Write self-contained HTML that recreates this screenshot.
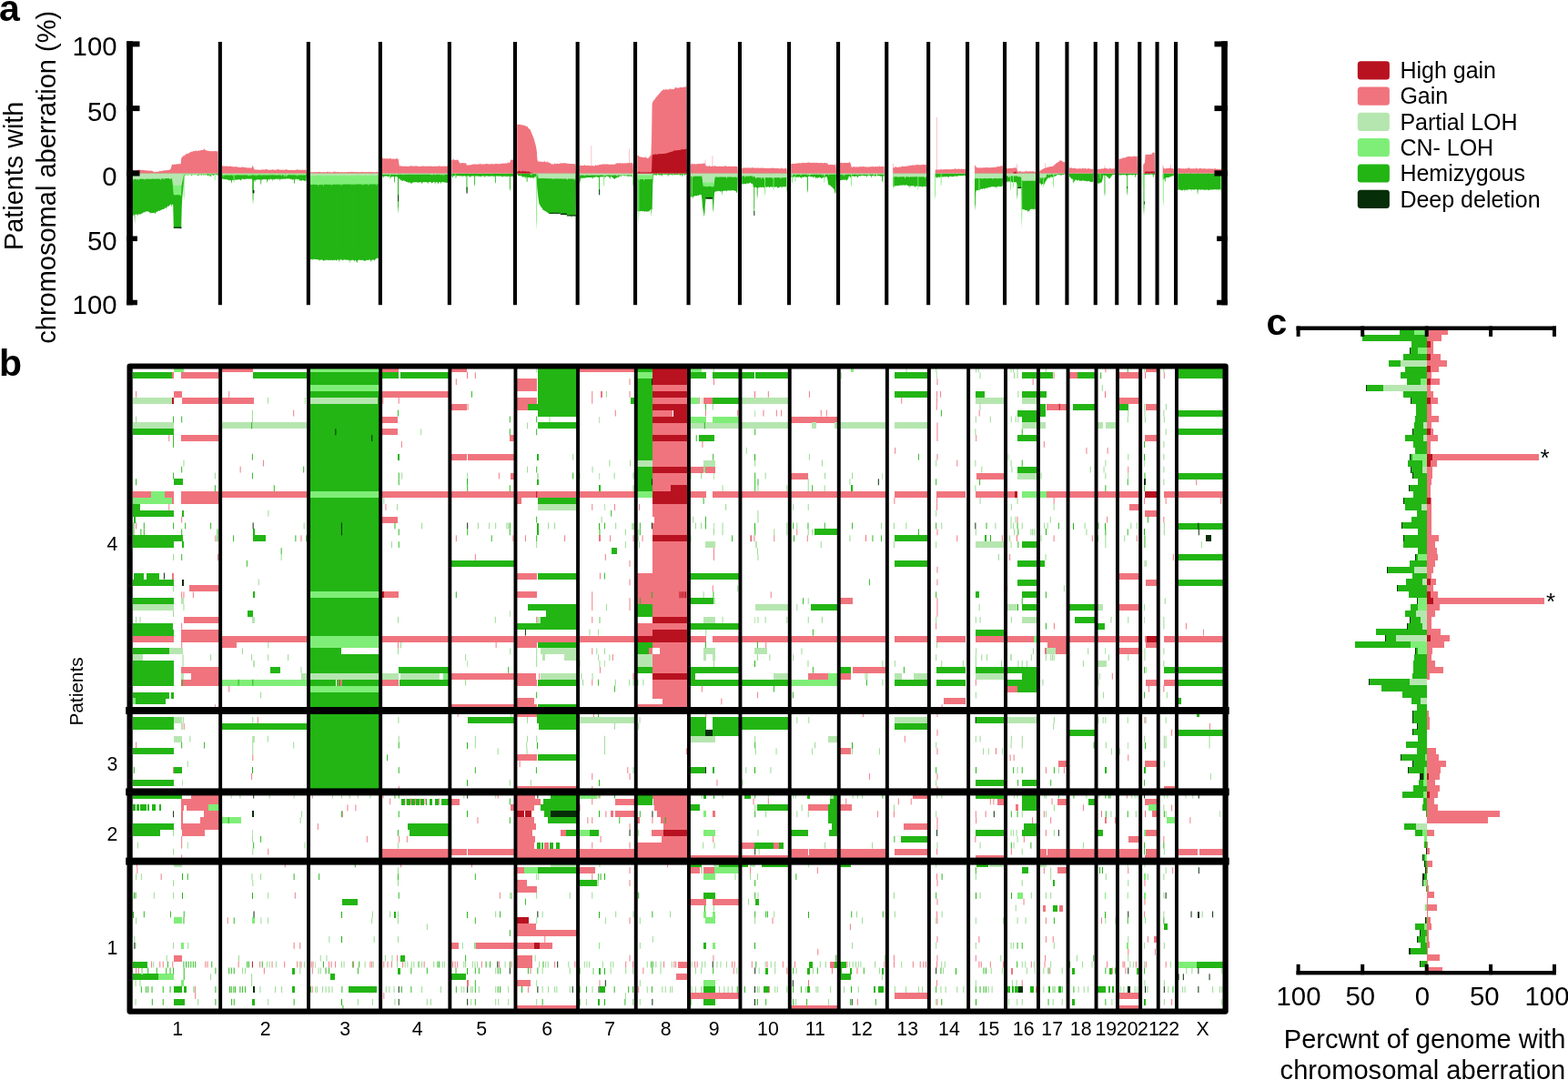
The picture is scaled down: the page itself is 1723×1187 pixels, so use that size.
<!DOCTYPE html>
<html lang="en"><head><meta charset="utf-8"><title>Chromosomal aberrations</title>
<style>html,body{margin:0;padding:0;background:#fff}body{width:1723px;height:1187px;overflow:hidden}svg{display:block}text{font-family:"Liberation Sans",Arial,Helvetica,sans-serif;fill:#000}.b{font-weight:bold;font-size:41px}.ax{font-size:29.3px}.lg{font-size:25px}.sm{font-size:21.3px}</style>
</head><body>
<svg width="1723" height="1187" viewBox="0 0 1723 1187">
<rect width="1723" height="1187" fill="#fff"/>
<g>
<path d="M145.8 190.4L145.8 235.7L146.4 237.2L147 235.6L147.6 236.7L148.2 235.7L148.8 235.5L149.4 235.7L150 235.6L150.6 235.8L151.2 237.7L151.8 235.3L152.4 235.5L153 235.3L153.6 235.4L154.2 235.7L154.8 235.3L155.4 234.7L156 234.7L156.6 234.3L157.2 233.7L157.8 233.3L158.4 233.7L159 232.7L159.6 232.8L160.2 232.9L160.8 232.2L161.4 232.5L162 232.1L162.6 232.5L163.2 232.7L163.8 233.1L164.4 233.1L165 235.6L165.6 233.4L166.2 234.6L166.8 233.7L167.4 234L168 234.3L168.6 234.1L169.2 233.9L169.8 233.5L170.4 235L171 234.2L171.6 233.1L172.2 232.6L172.8 232.9L173.4 232.3L174 231.8L174.6 231.6L175.2 231.9L175.8 231.6L176.4 230.8L177 231.4L177.6 230.5L178.2 230.1L178.8 229.9L179.4 230.1L180 229.8L180.6 229.5L181.2 228.8L181.8 228.2L182.4 228.1L183 229.9L183.6 227.2L184.2 226.8L184.8 226.6L185.4 226.7L186 226.3L186.6 225.4L187.2 224.8L187.8 224.6L188.4 227.6L189 224.1L189.6 225.1L190.2 224.9L190.8 249.9L191.4 250.1L192 250.2L192.6 250L193.2 250.4L193.8 251.1L194.4 250L195 249.9L195.6 250.3L196.2 250L196.8 249.9L197.4 250.4L198 251.3L198.6 251.4L199.2 250L199.8 226.5L200.4 215.9L201 211L201.6 205.3L202.2 199.2L202.8 194L203.4 192L204 192.8L204.6 191.9L205.2 192.3L205.8 192.3L206.4 192.2L207 192L207.6 192.1L208.2 191.9L208.8 192.1L209.4 192.1L210 192.3L210.6 193.4L211.2 191.9L211.8 192.4L212.4 192.1L213 191.9L213.6 192.2L214.2 192.2L214.8 192L215.4 192.3L216 192.1L216.6 192.3L217.2 192.2L217.8 193.6L218.4 192L219 192.9L219.6 191.8L220.2 191.9L220.8 192.6L221.4 192.8L222 192.2L222.6 191.8L223.2 192.3L223.8 192.7L224.4 192.2L225 192.3L225.6 192.3L226.2 192.5L226.8 192L227.4 192.2L228 193L228.6 193.1L229.2 192.3L229.8 192.9L230.4 193.9L231 192.1L231.6 193.1L232.2 192L232.8 192.1L233.4 192.1L234 193.3L234.6 192.9L235.2 191.9L235.8 192.3L236.4 191.9L237 191.8L237.6 191.9L238.2 192.3L238.8 191.9L239.4 193.4L239.7 190.4Z" fill="#22b514"/>
<path d="M147.6 190.4L148.5 190.4L148.5 235.2L148.1 246.4L147.6 235.2Z" fill="#22b514"/>
<path d="M231.4 190.4L232.3 190.4L232.3 193.6L231.8 194.4L231.4 193.6Z" fill="#22b514"/>
<path d="M235.7 190.4L236.6 190.4L236.6 196.8L236.2 198.4L235.7 196.8Z" fill="#7fee78"/>
<path d="M201.7 190.4L202.6 190.4L202.6 214.3L202.2 220.2L201.7 214.3Z" fill="#7fee78"/>
<path d="M145.8 190.4L145.8 196.9L146.4 198.7L147 196.7L147.6 196.8L148.2 196.8L148.8 196.6L149.4 196.7L150 198.3L150.6 196.7L151.2 196.9L151.8 196.7L152.4 199L153 196.7L153.6 196.6L154.2 196.7L154.8 196.6L155.4 196.6L156 196.5L156.6 196.5L157.2 196.5L157.8 196.7L158.4 197.1L159 198.4L159.6 196.5L160.2 196.4L160.8 196.6L161.4 196.5L162 196.4L162.6 196.5L163.2 196.5L163.8 196.3L164.4 196.4L165 196.7L165.6 196.5L166.2 196.4L166.8 196.5L167.4 196.4L168 196.3L168.6 196.3L169.2 196.3L169.8 196.3L170.4 196.4L171 196.2L171.6 197.2L172.2 196.3L172.8 196.2L173.4 196.8L174 196.3L174.6 196.2L175.2 196.1L175.8 196.3L176.4 196.2L177 196.3L177.6 196.2L178.2 196.4L178.8 196.1L179.4 196L180 196.2L180.6 196.2L181.2 196.2L181.8 196L182.4 196L183 196.1L183.6 196.3L184.2 196L184.8 196.1L185.4 196.1L186 196L186.6 198L187.2 195.9L187.8 196L188.4 196.1L189 196.6L189.6 201.5L190.2 207.9L190.8 214.3L191.4 214.1L192 214.2L192.6 214.7L193.2 214.1L193.8 214.4L194.4 214.2L195 214.1L195.6 214.2L196.2 214.3L196.8 214.3L197.4 214.2L198 214.3L198.6 215.7L199.2 214.3L199.8 197.2L200.4 192.4L201 192.6L201.6 192.4L202.2 192.4L202.8 192.3L203.4 192.4L204 192.2L204.6 192.5L205.2 192.3L205.8 192.2L206.4 192.2L207 194.1L207.6 192.1L208.2 192.1L208.8 192.2L209.4 192.1L210 192.2L210.6 192L211.2 192L211.8 192L212.4 192L213 192.3L213.6 192L214.2 191.9L214.8 192.1L215.4 192L216 192L216.6 193.7L217.2 192L217.8 191.9L218.4 192.1L219 191.8L219.6 191.8L220.2 191.8L220.8 191.7L221.4 191.9L222 191.7L222.6 191.7L223.2 191.8L223.8 191.7L224.4 191.7L225 191.6L225.6 192.3L226.2 191.6L226.8 191.8L227.4 191.6L228 191.6L228.6 191.5L229.2 191.5L229.8 191.5L230.4 191.6L231 191.4L231.6 191.4L232.2 191.4L232.8 191.6L233.4 191.5L234 191.4L234.6 191.6L235.2 191.4L235.8 191.2L236.4 191.5L237 191.5L237.6 191.3L238.2 191.3L238.8 191.2L239.4 191.3L239.7 190.4Z" fill="#7fee78"/>
<path d="M145.8 190.4L145.8 196.7L146.4 196.7L147 196.8L147.6 196.7L148.2 196.6L148.8 196.8L149.4 196.7L150 196.7L150.6 197.4L151.2 196.7L151.8 196.7L152.4 196.6L153 196.6L153.6 196.6L154.2 196.5L154.8 196.5L155.4 196.6L156 196.5L156.6 196.5L157.2 196.5L157.8 196.5L158.4 196.5L159 196.5L159.6 196.4L160.2 196.4L160.8 196.5L161.4 196.4L162 196.6L162.6 196.4L163.2 196.4L163.8 196.4L164.4 196.4L165 197.3L165.6 196.3L166.2 196.4L166.8 196.4L167.4 196.3L168 196.3L168.6 196.4L169.2 196.2L169.8 196.9L170.4 196.2L171 196.2L171.6 196.2L172.2 196.3L172.8 196.3L173.4 196.2L174 196.2L174.6 196.1L175.2 197.2L175.8 196.2L176.4 198.5L177 196.1L177.6 196.2L178.2 196.1L178.8 196.3L179.4 196L180 198L180.6 196.1L181.2 196.6L181.8 196.2L182.4 196L183 195.9L183.6 196L184.2 196L184.8 196.1L185.4 195.9L186 196L186.6 196.5L187.2 196L187.8 197.2L188.4 195.9L189 196L189.6 198.3L190.2 201L190.8 203.7L191.4 203.7L192 203.7L192.6 203.7L193.2 203.8L193.8 203.8L194.4 203.8L195 203.8L195.6 203.8L196.2 203.7L196.8 203.7L197.4 203.7L198 203.8L198.6 203.7L199.2 203.8L199.8 202.5L200.4 199.6L201 196.8L201.6 194L202.2 191.6L202.8 191.7L203.4 191.6L204 191.6L204.6 191.5L205.2 191.7L205.8 191.5L206.4 191.4L207 191.4L207.6 191.5L208.2 191.4L208.8 191.4L209.4 191.4L210 191.4L210.6 191.4L211.2 191.3L211.8 191.9L212.4 191.4L213 191.4L213.6 191.3L214.2 191.3L214.8 191.4L215.4 191.5L216 191.5L216.6 193.5L217.2 191.3L217.8 191.3L218.4 191.3L219 191.2L219.6 191.2L220.2 191.2L220.8 191.2L221.4 191.2L222 191.2L222.6 191.2L223.2 191.2L223.8 191.2L224.4 191.2L225 193.6L225.6 191.1L226.2 191.2L226.8 191.2L227.4 191.1L228 191.2L228.6 191.1L229.2 191.1L229.8 191.2L230.4 191.1L231 192.5L231.6 191.3L232.2 191.2L232.8 191.1L233.4 191.2L234 191.1L234.6 191.1L235.2 191L235.8 191L236.4 191L237 191L237.6 191.1L238.2 191L238.8 191L239.4 191L239.7 190.4Z" fill="#b6e6b0"/>
<rect x="190.8" y="249.5" width="8.7" height="1.4" fill="#062e08"/>
<path d="M145.8 190.4L145.8 187.9L146.4 186.4L147 187.7L147.6 187.7L148.2 187.7L148.8 187.5L149.4 187.5L150 187.4L150.6 186.9L151.2 186.6L151.8 187.2L152.4 186.5L153 186.5L153.6 186.8L154.2 186.6L154.8 187L155.4 187L156 187.3L156.6 186.7L157.2 187L157.8 186.8L158.4 187.2L159 187.1L159.6 187.4L160.2 187.4L160.8 187.1L161.4 187.4L162 187.5L162.6 187.6L163.2 187.4L163.8 187.9L164.4 187.8L165 186.7L165.6 188L166.2 187.6L166.8 187.9L167.4 188L168 188.3L168.6 188.6L169.2 188.9L169.8 189.2L170.4 189.2L171 189.1L171.6 188.8L172.2 188.8L172.8 188.8L173.4 188.8L174 188.7L174.6 188.5L175.2 188.5L175.8 187.2L176.4 188.1L177 188.2L177.6 187.8L178.2 187.9L178.8 187.7L179.4 187.8L180 186.5L180.6 187.6L181.2 187.5L181.8 187.4L182.4 187.1L183 187L183.6 187.3L184.2 187.1L184.8 187.1L185.4 187L186 186.5L186.6 186.7L187.2 186.1L187.8 185L188.4 183L189 180.6L189.6 180.7L190.2 180.8L190.8 180.9L191.4 180.4L192 180.8L192.6 180.8L193.2 180.7L193.8 180L194.4 180.5L195 180.5L195.6 180.3L196.2 180.3L196.8 180L197.4 180.4L198 180.1L198.6 180.3L199.2 174.4L199.8 172.6L200.4 172.5L201 172.3L201.6 170.8L202.2 171.5L202.8 170.2L203.4 170.4L204 170.3L204.6 168.4L205.2 169.2L205.8 169.1L206.4 169.1L207 168.7L207.6 168.1L208.2 167.7L208.8 167.6L209.4 167.3L210 166.5L210.6 166.7L211.2 166.8L211.8 166.5L212.4 166.1L213 165.9L213.6 166L214.2 166.2L214.8 166.1L215.4 164.9L216 166.1L216.6 165.9L217.2 165.8L217.8 165.8L218.4 165.6L219 165.4L219.6 165.4L220.2 165.2L220.8 165.2L221.4 164.7L222 165L222.6 164.9L223.2 164.8L223.8 164.4L224.4 163.1L225 164.4L225.6 165.2L226.2 164.7L226.8 165.4L227.4 165.5L228 165.8L228.6 165.5L229.2 166.1L229.8 166L230.4 166.2L231 166L231.6 166.1L232.2 166.2L232.8 166.3L233.4 166.1L234 166.2L234.6 166.2L235.2 166.2L235.8 166.1L236.4 166.1L237 165.7L237.6 166.3L238.2 166.4L238.8 166.3L239.4 166L239.7 190.4Z" fill="#f0747e"/>
<path d="M244 190.4L244 196.4L244.6 196.5L245.2 196.9L245.8 196.6L246.4 197.4L247 196.6L247.6 197.2L248.2 197.1L248.8 197.6L249.4 197.3L250 197.2L250.6 198.1L251.2 197.6L251.8 198.4L252.4 197.9L253 198.7L253.6 197.8L254.2 198.4L254.8 198.1L255.4 197.7L256 198L256.6 198.6L257.2 197.4L257.8 197.8L258.4 197.9L259 197.3L259.6 197.8L260.2 197.3L260.8 197.9L261.4 197.2L262 197.3L262.6 197.5L263.2 197L263.8 197.7L264.4 198L265 198.6L265.6 196.7L266.2 196.6L266.8 196.7L267.4 197L268 196.5L268.6 197.8L269.2 196.6L269.8 196.9L270.4 196.5L271 197.3L271.6 196.6L272.2 196.3L272.8 196.8L273.4 196.9L274 196.2L274.6 196.7L275.2 196.6L275.8 196.8L276.4 195.9L277 198.6L277.6 196.6L278.2 197.2L278.8 197.9L279.4 197.8L280 200.7L280.6 198L281.2 197.5L281.8 197.7L282.4 197.5L283 197.3L283.6 197.3L284.2 197.5L284.8 197.3L285.4 197.7L286 197.2L286.6 197.4L287.2 197.2L287.8 197.9L288.4 197.2L289 197.2L289.6 196.9L290.2 197.5L290.8 196.8L291.4 197.2L292 197.3L292.6 196.9L293.2 197.4L293.8 198.7L294.4 197.4L295 196.8L295.6 197L296.2 198.6L296.8 196.6L297.4 196.6L298 197L298.6 196.7L299.2 199.5L299.8 196.6L300.4 197.1L301 197.4L301.6 197.4L302.2 196.5L302.8 197L303.4 196.7L304 196.6L304.6 196.8L305.2 197.9L305.8 196.3L306.4 196.5L307 196.7L307.6 198.7L308.2 197L308.8 196.4L309.4 196.7L310 196.9L310.6 196.6L311.2 196.9L311.8 196.6L312.4 196.4L313 196.9L313.6 196.5L314.2 196.7L314.8 196.2L315.4 196.3L316 196.5L316.6 196.6L317.2 196.6L317.8 196.3L318.4 196.4L319 196.7L319.6 197.2L320.2 196.4L320.8 197.4L321.4 197.7L322 197.4L322.6 196.9L323.2 196.4L323.8 196.4L324.4 198.1L325 196.5L325.6 196.8L326.2 196.7L326.8 197.7L327.4 196.9L328 197L328.6 197.2L329.2 199.3L329.8 198L330.4 198.7L331 197.8L331.6 199.2L332.2 197.7L332.8 198.2L333.4 198.1L334 199.3L334.6 198.6L335.2 199L335.8 198.6L336.4 198.9L337 190.4Z" fill="#22b514"/>
<path d="M254 190.4L254.9 190.4L254.9 199.6L254.5 201.9L254 199.6Z" fill="#22b514"/>
<path d="M277.3 190.4L278.7 190.4L278.7 207.3L278 211.5L277.3 207.3Z" fill="#22b514"/>
<path d="M277.6 190.4L278.5 190.4L278.5 217.8L278 224.6L277.6 217.8Z" fill="#22b514"/>
<path d="M286.3 190.4L287.2 190.4L287.2 201L286.8 203.7L286.3 201Z" fill="#22b514"/>
<path d="M293.3 190.4L294.2 190.4L294.2 198.9L293.7 201.1L293.3 198.9Z" fill="#22b514"/>
<path d="M322.9 190.4L323.8 190.4L323.8 200.3L323.4 202.8L322.9 200.3Z" fill="#22b514"/>
<path d="M256.7 190.4L257.6 190.4L257.6 198.9L257.1 201.1L256.7 198.9Z" fill="#7fee78"/>
<path d="M244 190.4L244 192.5L244.6 192.5L245.2 192.5L245.8 194.9L246.4 192.4L247 192.4L247.6 192.4L248.2 192.4L248.8 192.5L249.4 192.4L250 192.4L250.6 192.5L251.2 193.2L251.8 192.5L252.4 192.4L253 192.6L253.6 192.4L254.2 192.4L254.8 192.4L255.4 192.5L256 194L256.6 192.4L257.2 192.4L257.8 192.3L258.4 192.5L259 192.4L259.6 192.4L260.2 192.4L260.8 192.3L261.4 192.3L262 192.5L262.6 192.5L263.2 192.4L263.8 192.4L264.4 192.4L265 192.5L265.6 192.4L266.2 192.8L266.8 192.5L267.4 192.5L268 192.5L268.6 192.5L269.2 192.5L269.8 192.4L270.4 192.5L271 192.4L271.6 192.5L272.2 192.5L272.8 193.2L273.4 193.7L274 192.4L274.6 192.7L275.2 193.9L275.8 192.4L276.4 192.4L277 192.5L277.6 192.4L278.2 192.5L278.8 192.4L279.4 193.1L280 192.3L280.6 192.6L281.2 194.5L281.8 192.4L282.4 192.9L283 192.3L283.6 192.7L284.2 192.5L284.8 192.5L285.4 192.3L286 192.4L286.6 192.3L287.2 194.2L287.8 192.3L288.4 192.4L289 192.6L289.6 192.5L290.2 192.4L290.8 192.4L291.4 192.4L292 192.4L292.6 192.5L293.2 192.4L293.8 192.6L294.4 192.4L295 192.4L295.6 192.4L296.2 192.4L296.8 192.6L297.4 192.5L298 192.3L298.6 192.4L299.2 192.3L299.8 192.4L300.4 192.5L301 192.4L301.6 192.5L302.2 192.4L302.8 192.4L303.4 192.6L304 192.4L304.6 192.6L305.2 192.4L305.8 192.6L306.4 192.3L307 192.6L307.6 192.5L308.2 192.4L308.8 192.4L309.4 193.9L310 192.4L310.6 192.3L311.2 192.4L311.8 192.4L312.4 194.3L313 194.6L313.6 192.5L314.2 192.5L314.8 194.9L315.4 192.6L316 192.4L316.6 192.4L317.2 192.5L317.8 192.3L318.4 192.3L319 192.4L319.6 192.3L320.2 192.4L320.8 192.4L321.4 192.3L322 192.4L322.6 192.5L323.2 192.3L323.8 192.7L324.4 192.4L325 192.4L325.6 192.6L326.2 193.9L326.8 192.4L327.4 192.6L328 192.4L328.6 192.3L329.2 192.4L329.8 192.5L330.4 192.3L331 192.5L331.6 192.5L332.2 192.6L332.8 192.4L333.4 192.5L334 192.4L334.6 192.5L335.2 192.4L335.8 192.4L336.4 192.4L337 190.4Z" fill="#7fee78"/>
<path d="M244 190.4L244 191.6L244.6 191.5L245.2 191.5L245.8 191.5L246.4 191.5L247 191.5L247.6 192.6L248.2 191.5L248.8 191.5L249.4 191.5L250 191.6L250.6 191.5L251.2 191.5L251.8 191.5L252.4 191.5L253 191.5L253.6 191.5L254.2 191.5L254.8 191.5L255.4 191.5L256 191.6L256.6 191.5L257.2 191.5L257.8 191.6L258.4 191.5L259 191.5L259.6 192.8L260.2 191.5L260.8 191.6L261.4 191.5L262 191.5L262.6 191.6L263.2 191.5L263.8 191.5L264.4 191.6L265 192.3L265.6 191.5L266.2 191.5L266.8 191.5L267.4 191.7L268 191.5L268.6 191.5L269.2 191.5L269.8 191.5L270.4 191.5L271 191.5L271.6 191.5L272.2 191.5L272.8 191.6L273.4 191.6L274 191.5L274.6 191.6L275.2 191.5L275.8 191.6L276.4 191.5L277 191.5L277.6 191.7L278.2 191.5L278.8 191.5L279.4 191.7L280 191.6L280.6 191.5L281.2 191.6L281.8 191.5L282.4 191.5L283 191.6L283.6 191.5L284.2 191.5L284.8 191.5L285.4 191.5L286 191.6L286.6 191.6L287.2 191.8L287.8 191.6L288.4 191.7L289 191.5L289.6 191.6L290.2 191.5L290.8 191.5L291.4 191.5L292 191.6L292.6 192.4L293.2 191.6L293.8 191.5L294.4 191.6L295 191.5L295.6 191.5L296.2 191.5L296.8 191.5L297.4 191.5L298 191.5L298.6 191.5L299.2 191.6L299.8 191.7L300.4 191.5L301 191.5L301.6 191.5L302.2 191.5L302.8 191.6L303.4 192.7L304 191.5L304.6 192.3L305.2 191.5L305.8 191.6L306.4 191.6L307 191.5L307.6 191.8L308.2 191.5L308.8 191.5L309.4 191.5L310 191.5L310.6 191.5L311.2 191.6L311.8 191.6L312.4 191.5L313 191.6L313.6 191.5L314.2 191.5L314.8 191.5L315.4 193.8L316 191.7L316.6 191.6L317.2 191.5L317.8 191.5L318.4 191.5L319 191.7L319.6 191.7L320.2 191.6L320.8 191.5L321.4 191.6L322 191.5L322.6 191.6L323.2 191.5L323.8 191.5L324.4 191.5L325 191.5L325.6 191.6L326.2 191.8L326.8 191.5L327.4 191.5L328 193.1L328.6 191.5L329.2 192.2L329.8 191.6L330.4 191.5L331 191.5L331.6 191.5L332.2 191.5L332.8 191.5L333.4 191.5L334 191.5L334.6 191.6L335.2 191.5L335.8 191.7L336.4 191.5L337 190.4Z" fill="#b6e6b0"/>
<rect x="277.7" y="208.9" width="1.7" height="3.5" fill="#062e08"/>
<path d="M244 190.4L244 182.3L244.6 182.5L245.2 182.6L245.8 182.8L246.4 182.6L247 182.5L247.6 182.7L248.2 182.8L248.8 182.6L249.4 182.8L250 182.3L250.6 183.1L251.2 183L251.8 182.6L252.4 182.8L253 183.1L253.6 182.1L254.2 183.2L254.8 183.1L255.4 183.3L256 183.2L256.6 183.3L257.2 183.3L257.8 183.4L258.4 183.1L259 183.5L259.6 182.9L260.2 183.5L260.8 183.6L261.4 183.7L262 183.6L262.6 183.8L263.2 183.9L263.8 183.9L264.4 183.9L265 183.8L265.6 184L266.2 184L266.8 182.5L267.4 183.9L268 184L268.6 183.7L269.2 184L269.8 184.3L270.4 184L271 184.5L271.6 184.6L272.2 184L272.8 184.7L273.4 184.3L274 184.7L274.6 184.1L275.2 184.7L275.8 185L276.4 184.6L277 183.3L277.6 181.8L278.2 183.3L278.8 184.8L279.4 186.1L280 186.5L280.6 186.6L281.2 186.6L281.8 186.6L282.4 186.4L283 186.6L283.6 186.4L284.2 186.7L284.8 186.7L285.4 186.8L286 186.7L286.6 186.7L287.2 186.5L287.8 186.5L288.4 186.7L289 185.2L289.6 186.8L290.2 186.7L290.8 186.8L291.4 185.3L292 186.5L292.6 186.3L293.2 186.3L293.8 185.7L294.4 186.7L295 186.8L295.6 186.7L296.2 186.7L296.8 186.8L297.4 186.8L298 186.6L298.6 186.7L299.2 186.6L299.8 185.9L300.4 186.7L301 186.7L301.6 186.5L302.2 186.5L302.8 186.9L303.4 186.8L304 186.8L304.6 186.1L305.2 186.6L305.8 185.5L306.4 186.5L307 186.8L307.6 186.6L308.2 186.6L308.8 186.9L309.4 186.6L310 186.4L310.6 186.8L311.2 186.6L311.8 186.9L312.4 186.8L313 186.3L313.6 186.8L314.2 186.6L314.8 185.8L315.4 186.8L316 186.8L316.6 186.5L317.2 186.9L317.8 186.9L318.4 186.9L319 186.9L319.6 186.9L320.2 186.7L320.8 186.8L321.4 186.9L322 186.9L322.6 186.9L323.2 187L323.8 186.7L324.4 186.8L325 186.8L325.6 187L326.2 186L326.8 186.3L327.4 186.8L328 186.8L328.6 186.4L329.2 186.4L329.8 186.9L330.4 186.8L331 186.6L331.6 186.9L332.2 186.9L332.8 186.1L333.4 187L334 186.8L334.6 186.8L335.2 186.8L335.8 186.6L336.4 186.8L337 190.4Z" fill="#f0747e"/>
<path d="M340.8 190.4L340.8 285L341.4 285.3L342 284.9L342.6 284.9L343.2 284.6L343.8 286.2L344.4 284.7L345 284.9L345.6 284.7L346.2 285.1L346.8 285.3L347.4 285L348 285.1L348.6 285.6L349.2 285.2L349.8 285.2L350.4 285.4L351 286.9L351.6 285.5L352.2 285.7L352.8 285.5L353.4 285.2L354 285.7L354.6 285.7L355.2 286.2L355.8 286.9L356.4 285.6L357 287L357.6 285.8L358.2 286L358.8 285.5L359.4 285.6L360 286.2L360.6 286L361.2 285.8L361.8 286.1L362.4 285.7L363 286.4L363.6 285.7L364.2 285.6L364.8 286.3L365.4 286.3L366 285.8L366.6 285.8L367.2 286.3L367.8 285.8L368.4 285.4L369 286.1L369.6 286.8L370.2 285.5L370.8 286L371.4 285.3L372 285.3L372.6 288L373.2 285.8L373.8 285.4L374.4 285.3L375 285.3L375.6 285.2L376.2 285.9L376.8 286.3L377.4 285.6L378 285.8L378.6 285.3L379.2 285.4L379.8 285.4L380.4 285.8L381 285.7L381.6 285.4L382.2 285.7L382.8 286.3L383.4 286.1L384 285.5L384.6 288.9L385.2 285.8L385.8 285.8L386.4 286.6L387 285.7L387.6 285.6L388.2 286L388.8 286.3L389.4 287.1L390 286.4L390.6 285.8L391.2 286L391.8 288.2L392.4 288.8L393 286.3L393.6 285.8L394.2 285.8L394.8 285.6L395.4 285.8L396 286.3L396.6 285.7L397.2 285.9L397.8 285.8L398.4 285.7L399 286.4L399.6 285.7L400.2 287L400.8 286.8L401.4 286.8L402 285.9L402.6 286.2L403.2 285.5L403.8 286.3L404.4 285.9L405 285.5L405.6 285.8L406.2 285.4L406.8 285.3L407.4 288.5L408 285.2L408.6 286.8L409.2 285.6L409.8 285.7L410.4 284.9L411 286.2L411.6 286.7L412.2 284.8L412.8 285.2L413.4 284.5L414 283.6L414.6 283.9L415.2 283.5L415.8 284L415.8 190.4Z" fill="#22b514"/>
<path d="M375.3 190.4L376.2 190.4L376.2 269.8L375.7 289.7L375.3 269.8Z" fill="#22b514"/>
<path d="M392.7 190.4L393.6 190.4L393.6 269.8L393.2 289.7L392.7 269.8Z" fill="#22b514"/>
<path d="M364.8 190.4L365.7 190.4L365.7 268.7L365.2 288.3L364.8 268.7Z" fill="#22b514"/>
<path d="M340.8 190.4L340.8 202.9L341.4 202.8L342 203L342.6 203L343.2 202.8L343.8 202.9L344.4 202.8L345 202.8L345.6 202.9L346.2 202.8L346.8 202.9L347.4 202.8L348 202.9L348.6 203L349.2 202.8L349.8 205L350.4 203.3L351 202.9L351.6 202.8L352.2 202.8L352.8 203.6L353.4 203L354 202.7L354.6 202.7L355.2 205.2L355.8 202.7L356.4 202.7L357 202.7L357.6 202.8L358.2 202.7L358.8 202.7L359.4 202.8L360 203L360.6 202.7L361.2 203L361.8 202.7L362.4 202.8L363 202.7L363.6 202.8L364.2 204.5L364.8 202.7L365.4 202.8L366 202.9L366.6 202.6L367.2 202.7L367.8 202.7L368.4 202.7L369 202.7L369.6 202.8L370.2 202.6L370.8 202.7L371.4 202.7L372 202.8L372.6 202.8L373.2 202.8L373.8 202.6L374.4 202.7L375 204.5L375.6 202.7L376.2 202.7L376.8 202.6L377.4 202.7L378 202.6L378.6 202.7L379.2 202.6L379.8 202.6L380.4 202.6L381 202.7L381.6 202.7L382.2 202.5L382.8 202.5L383.4 202.6L384 202.7L384.6 202.5L385.2 202.6L385.8 202.7L386.4 202.6L387 203.7L387.6 202.6L388.2 202.7L388.8 202.5L389.4 202.5L390 203.6L390.6 202.5L391.2 202.5L391.8 202.6L392.4 202.4L393 202.5L393.6 202.5L394.2 202.4L394.8 202.4L395.4 202.4L396 202.5L396.6 202.4L397.2 202.5L397.8 204.1L398.4 202.5L399 202.5L399.6 203.6L400.2 202.5L400.8 202.4L401.4 202.5L402 202.4L402.6 202.5L403.2 202.4L403.8 202.4L404.4 202.5L405 204.4L405.6 202.5L406.2 202.5L406.8 202.3L407.4 202.4L408 202.6L408.6 202.4L409.2 202.4L409.8 202.4L410.4 202.4L411 202.5L411.6 202.5L412.2 202.4L412.8 202.3L413.4 204.4L414 202.3L414.6 202.3L415.2 202.5L415.8 202.3L415.8 190.4Z" fill="#7fee78"/>
<path d="M340.8 190.4L340.8 192.8L341.4 192.7L342 192.9L342.6 192.7L343.2 195.2L343.8 192.8L344.4 192.7L345 192.8L345.6 192.8L346.2 193.5L346.8 192.8L347.4 192.8L348 192.7L348.6 192.7L349.2 192.8L349.8 192.7L350.4 192.7L351 192.7L351.6 192.8L352.2 192.7L352.8 192.8L353.4 192.7L354 192.7L354.6 192.8L355.2 192.9L355.8 192.7L356.4 192.8L357 194.9L357.6 192.8L358.2 192.7L358.8 192.8L359.4 192.7L360 192.7L360.6 192.8L361.2 192.8L361.8 192.9L362.4 192.8L363 192.8L363.6 192.7L364.2 192.7L364.8 192.7L365.4 194.8L366 192.7L366.6 192.7L367.2 192.7L367.8 192.7L368.4 192.7L369 192.7L369.6 192.7L370.2 192.7L370.8 193.9L371.4 192.8L372 192.8L372.6 192.7L373.2 192.8L373.8 192.8L374.4 192.8L375 192.7L375.6 194.1L376.2 192.7L376.8 193.1L377.4 192.7L378 192.8L378.6 192.8L379.2 192.8L379.8 192.7L380.4 193.6L381 192.7L381.6 192.7L382.2 192.8L382.8 192.7L383.4 194.1L384 192.7L384.6 194.1L385.2 192.8L385.8 192.8L386.4 192.7L387 192.8L387.6 192.8L388.2 192.9L388.8 192.8L389.4 195L390 192.8L390.6 192.8L391.2 192.7L391.8 192.7L392.4 192.7L393 192.7L393.6 192.7L394.2 192.7L394.8 192.7L395.4 192.7L396 192.7L396.6 192.8L397.2 192.7L397.8 193.7L398.4 192.8L399 194.1L399.6 192.7L400.2 192.8L400.8 192.7L401.4 192.7L402 192.8L402.6 192.7L403.2 192.8L403.8 192.8L404.4 192.9L405 192.7L405.6 192.7L406.2 192.7L406.8 192.7L407.4 192.8L408 192.7L408.6 192.8L409.2 192.7L409.8 192.8L410.4 192.8L411 192.8L411.6 192.8L412.2 194.6L412.8 192.7L413.4 192.7L414 192.7L414.6 192.7L415.2 192.8L415.8 192.8L415.8 190.4Z" fill="#b6e6b0"/>
<path d="M340.8 190.4L340.8 189.1L341.4 189.2L342 189.2L342.6 189.2L343.2 189.2L343.8 189.3L344.4 189.4L345 188.8L345.6 189.2L346.2 189.3L346.8 189.2L347.4 188.9L348 189.2L348.6 188.9L349.2 189.3L349.8 189.3L350.4 189.1L351 189L351.6 188.8L352.2 189.4L352.8 189L353.4 189.2L354 189.3L354.6 189.1L355.2 189.3L355.8 189.2L356.4 189L357 189.2L357.6 189.3L358.2 189.3L358.8 189.3L359.4 188.6L360 189L360.6 189.1L361.2 188.6L361.8 189.4L362.4 189.2L363 188.8L363.6 189.2L364.2 189.4L364.8 189.3L365.4 189.2L366 188.8L366.6 189.2L367.2 188.8L367.8 188.2L368.4 188.7L369 189.1L369.6 189.2L370.2 189.1L370.8 189.1L371.4 189.2L372 188.8L372.6 189.2L373.2 188.9L373.8 189.2L374.4 189.4L375 189.3L375.6 188.8L376.2 189.2L376.8 189.3L377.4 189.3L378 189.2L378.6 189.2L379.2 189.1L379.8 189.3L380.4 189.2L381 188.9L381.6 189.2L382.2 188.9L382.8 188.9L383.4 189.1L384 189.1L384.6 189.1L385.2 189.3L385.8 188.7L386.4 188.8L387 188.8L387.6 189.1L388.2 188.7L388.8 189.2L389.4 189.3L390 188.8L390.6 188.9L391.2 189.1L391.8 189.2L392.4 189.3L393 189.1L393.6 189L394.2 189.3L394.8 189.3L395.4 189.1L396 189.3L396.6 189L397.2 188.8L397.8 189.2L398.4 189.1L399 188.5L399.6 189.4L400.2 188.9L400.8 189.2L401.4 189.2L402 189.1L402.6 189L403.2 188.9L403.8 189.2L404.4 189.3L405 189.1L405.6 189L406.2 189.3L406.8 188.6L407.4 189.2L408 189.1L408.6 189L409.2 189.1L409.8 189.3L410.4 189.3L411 189.2L411.6 188.7L412.2 189.4L412.8 189.2L413.4 189L414 189.2L414.6 188.9L415.2 189L415.8 189.2L415.8 190.4Z" fill="#f0747e"/>
<path d="M419.9 190.4L419.9 195.2L420.5 193.8L421.1 193.6L421.7 196.1L422.3 193.5L422.9 193.5L423.5 193.5L424.1 193.7L424.7 193.5L425.3 193.7L425.9 193.6L426.5 194.4L427.1 193.9L427.7 193.7L428.3 194.1L428.9 196.4L429.5 194.3L430.1 195.3L430.7 193.7L431.3 194.4L431.9 194L432.5 193.9L433.1 194.2L433.7 195.1L434.3 194.3L434.9 194L435.5 194.1L436.1 194.6L436.7 194.5L437.3 195.4L437.9 195.4L438.5 196.6L439.1 196.5L439.7 197.3L440.3 197.6L440.9 198.8L441.5 198.3L442.1 198.7L442.7 199.1L443.3 198.2L443.9 198.3L444.5 199.1L445.1 199.6L445.7 198.9L446.3 200L446.9 199.9L447.5 199.8L448.1 199.9L448.7 201.2L449.3 200.2L449.9 200.4L450.5 200.6L451.1 200.7L451.7 202.6L452.3 200.7L452.9 201.7L453.5 200.3L454.1 200.8L454.7 200.3L455.3 200.3L455.9 200.2L456.5 200.2L457.1 200.3L457.7 200.2L458.3 200.6L458.9 200.3L459.5 200.9L460.1 200.2L460.7 200.5L461.3 200.4L461.9 200.3L462.5 200.3L463.1 200.6L463.7 202.5L464.3 200.6L464.9 200.2L465.5 200L466.1 200.3L466.7 200.2L467.3 199.9L467.9 200.2L468.5 200L469.1 200.6L469.7 200.4L470.3 202.2L470.9 199.9L471.5 199.9L472.1 199.8L472.7 199.9L473.3 200.6L473.9 200.1L474.5 201.8L475.1 200.9L475.7 200.6L476.3 199.7L476.9 199.9L477.5 199.8L478.1 202.9L478.7 200.6L479.3 199.9L479.9 200.5L480.5 200.1L481.1 201.6L481.7 202.3L482.3 199.9L482.9 200.3L483.5 199.9L484.1 200.4L484.7 202.2L485.3 200L485.9 200.1L486.5 200.2L487.1 200L487.7 200.4L488.3 200.4L488.9 200.2L489.5 200.8L490.1 200.6L490.7 200.9L491.3 200.9L491.9 200.7L492 190.4Z" fill="#22b514"/>
<path d="M433.1 190.4L434 190.4L434 199.1L433.5 201.2L433.1 199.1Z" fill="#22b514"/>
<path d="M437.1 190.4L438 190.4L438 215.1L437.6 221.3L437.1 215.1Z" fill="#22b514"/>
<path d="M437.1 190.4L438 190.4L438 226.3L437.6 235.2L437.1 226.3Z" fill="#22b514"/>
<path d="M427.9 190.4L428.8 190.4L428.8 195.6L428.3 196.9L427.9 195.6Z" fill="#7fee78"/>
<path d="M419.9 190.4L419.9 191.8L420.5 191.8L421.1 191.7L421.7 191.7L422.3 191.7L422.9 191.7L423.5 191.7L424.1 191.7L424.7 191.7L425.3 191.8L425.9 191.8L426.5 191.8L427.1 191.6L427.7 191.7L428.3 191.6L428.9 191.7L429.5 191.7L430.1 191.8L430.7 191.7L431.3 191.7L431.9 191.7L432.5 191.9L433.1 191.7L433.7 191.7L434.3 191.7L434.9 191.8L435.5 192.2L436.1 192.3L436.7 191.8L437.3 191.7L437.9 191.6L438.5 191.7L439.1 191.8L439.7 191.6L440.3 191.7L440.9 191.6L441.5 191.9L442.1 191.7L442.7 191.7L443.3 192.6L443.9 191.6L444.5 191.7L445.1 191.7L445.7 191.7L446.3 191.8L446.9 191.7L447.5 191.7L448.1 191.6L448.7 191.7L449.3 191.6L449.9 191.7L450.5 191.7L451.1 191.8L451.7 191.7L452.3 191.6L452.9 191.7L453.5 191.7L454.1 191.7L454.7 191.7L455.3 191.7L455.9 191.8L456.5 191.7L457.1 191.7L457.7 191.6L458.3 191.7L458.9 191.7L459.5 191.7L460.1 191.7L460.7 191.7L461.3 191.6L461.9 191.7L462.5 191.7L463.1 191.7L463.7 191.8L464.3 191.7L464.9 191.7L465.5 191.7L466.1 191.6L466.7 191.7L467.3 191.7L467.9 191.7L468.5 191.7L469.1 191.7L469.7 191.7L470.3 191.6L470.9 191.8L471.5 191.7L472.1 191.8L472.7 191.8L473.3 191.7L473.9 192.5L474.5 191.7L475.1 192.8L475.7 191.7L476.3 191.7L476.9 191.8L477.5 191.8L478.1 191.8L478.7 192.8L479.3 191.6L479.9 191.8L480.5 191.7L481.1 191.7L481.7 191.8L482.3 191.7L482.9 191.7L483.5 191.7L484.1 191.7L484.7 192.8L485.3 191.7L485.9 191.7L486.5 191.7L487.1 194L487.7 191.6L488.3 191.7L488.9 191.9L489.5 191.6L490.1 191.7L490.7 191.7L491.3 191.7L491.9 191.9L492 190.4Z" fill="#b6e6b0"/>
<rect x="437.2" y="214.3" width="1" height="7" fill="#062e08"/>
<path d="M419.9 190.4L419.9 173.4L420.5 173.8L421.1 174.2L421.7 174.3L422.3 173.9L422.9 174.2L423.5 174.4L424.1 174.2L424.7 174.2L425.3 174.2L425.9 174.3L426.5 174.4L427.1 174.2L427.7 174.5L428.3 174.1L428.9 174L429.5 174.6L430.1 174.6L430.7 174.5L431.3 174.7L431.9 174.6L432.5 174.6L433.1 174.7L433.7 174.5L434.3 174.9L434.9 174.5L435.5 174.3L436.1 173.2L436.7 174.8L437.3 175L437.9 175.3L438.5 180.5L439.1 182.5L439.7 182.7L440.3 181.9L440.9 182.4L441.5 182.8L442.1 182.5L442.7 182.9L443.3 182.7L443.9 182.8L444.5 182.6L445.1 182.9L445.7 182.4L446.3 182.9L446.9 182.8L447.5 182.9L448.1 182.8L448.7 182.8L449.3 182.9L449.9 182.7L450.5 182.8L451.1 181.7L451.7 182.6L452.3 182.4L452.9 182.4L453.5 182.6L454.1 182.6L454.7 182.7L455.3 182.4L455.9 182.7L456.5 182.5L457.1 181.9L457.7 182.8L458.3 182.6L458.9 182.8L459.5 182.7L460.1 182.9L460.7 182.9L461.3 182.9L461.9 182.7L462.5 182.9L463.1 182.8L463.7 182.6L464.3 182.8L464.9 181.9L465.5 182.8L466.1 182.7L466.7 182.7L467.3 182.6L467.9 182.8L468.5 182.9L469.1 182.6L469.7 182.6L470.3 182.9L470.9 182.8L471.5 182.8L472.1 182.4L472.7 182.5L473.3 182.7L473.9 182.8L474.5 182.5L475.1 182.9L475.7 182.7L476.3 182.9L476.9 182.8L477.5 182.8L478.1 182.5L478.7 182.7L479.3 182.8L479.9 182.9L480.5 182.7L481.1 182.7L481.7 182.5L482.3 182.8L482.9 181.8L483.5 182.8L484.1 182.9L484.7 182.4L485.3 182.7L485.9 182.7L486.5 182.7L487.1 182.8L487.7 182.6L488.3 182.6L488.9 182.8L489.5 182.8L490.1 182.7L490.7 182.8L491.3 182.4L491.9 182.3L492 190.4Z" fill="#f0747e"/>
<path d="M496.3 190.4L496.3 193.6L496.9 193.9L497.5 195.7L498.1 193.3L498.7 193.2L499.3 193.1L499.9 193.3L500.5 193.3L501.1 195.6L501.7 193.5L502.3 193.2L502.9 193.2L503.5 193.2L504.1 193.3L504.7 193.4L505.3 193.6L505.9 193.3L506.5 193.4L507.1 193.1L507.7 194.1L508.3 193.9L508.9 193.5L509.5 193.4L510.1 193.1L510.7 193.4L511.3 194L511.9 193.8L512.5 193.1L513.1 193.8L513.7 193.4L514.3 193.5L514.9 193.3L515.5 193.5L516.1 195.6L516.7 193.7L517.3 194.3L517.9 194L518.5 193.3L519.1 193.6L519.7 193.5L520.3 193.6L520.9 193.7L521.5 193.5L522.1 193.2L522.7 193.6L523.3 194.1L523.9 193.2L524.5 193.2L525.1 194.1L525.7 193.7L526.3 193.7L526.9 193.8L527.5 194.1L528.1 194.1L528.7 194.3L529.3 193.3L529.9 193.4L530.5 193.7L531.1 193.4L531.7 193.5L532.3 193.5L532.9 195.6L533.5 193.5L534.1 193.4L534.7 193.3L535.3 193.8L535.9 193.4L536.5 193.5L537.1 194L537.7 194L538.3 193.8L538.9 193.5L539.5 193.4L540.1 193.9L540.7 193.3L541.3 193.5L541.9 193.6L542.5 194.2L543.1 193.5L543.7 194.1L544.3 193.5L544.9 193.5L545.5 193.4L546.1 193.4L546.7 193.8L547.3 193.4L547.9 193.7L548.5 193.8L549.1 193.5L549.7 193.5L550.3 193.8L550.9 193.6L551.5 194L552.1 194.3L552.7 194.5L553.3 193.4L553.9 193.7L554.5 193.4L555.1 194.5L555.7 193.4L556.3 193.5L556.9 194.6L557.5 194.2L558.1 193.7L558.7 193.5L559.3 194.1L559.9 193.7L560.5 194L561.1 193.7L561.7 193.9L562.3 194.2L562.9 193.4L563.5 194.1L564.1 193.7L564.4 190.4Z" fill="#22b514"/>
<path d="M512.5 190.4L513.4 190.4L513.4 208.1L512.9 212.6L512.5 208.1Z" fill="#22b514"/>
<path d="M521.2 190.4L522.1 190.4L522.1 201.9L521.6 204.7L521.2 201.9Z" fill="#22b514"/>
<path d="M543.9 190.4L544.8 190.4L544.8 199.8L544.3 202.1L543.9 199.8Z" fill="#22b514"/>
<path d="M559.9 190.4L560.8 190.4L560.8 206.7L560.4 210.8L559.9 206.7Z" fill="#22b514"/>
<path d="M500.3 190.4L501.2 190.4L501.2 195.6L500.7 196.9L500.3 195.6Z" fill="#7fee78"/>
<rect x="512.6" y="205.6" width="1" height="7" fill="#062e08"/>
<path d="M496.3 190.4L496.3 175.8L496.9 175.9L497.5 175.5L498.1 174.2L498.7 175.4L499.3 175.8L499.9 175.9L500.5 175.7L501.1 175.7L501.7 175.7L502.3 175.5L502.9 175.8L503.5 176.1L504.1 177.2L504.7 178.6L505.3 179.2L505.9 179.4L506.5 179.1L507.1 179.4L507.7 179.3L508.3 179L508.9 179L509.5 179.2L510.1 179.2L510.7 179.2L511.3 179.3L511.9 179.3L512.5 180.3L513.1 182L513.7 181.5L514.3 181.3L514.9 181.6L515.5 181.3L516.1 181.4L516.7 181.5L517.3 181.3L517.9 180.9L518.5 180.9L519.1 181L519.7 180.6L520.3 180.1L520.9 180.6L521.5 180.8L522.1 180.6L522.7 180.5L523.3 180.5L523.9 180.7L524.5 180.7L525.1 180.5L525.7 180.3L526.3 180.2L526.9 180.4L527.5 180.2L528.1 179.3L528.7 180.7L529.3 180.7L529.9 180.6L530.5 180.5L531.1 180L531.7 180.5L532.3 180.5L532.9 180.4L533.5 180.1L534.1 180.1L534.7 180.2L535.3 180.3L535.9 179.5L536.5 180.4L537.1 180.4L537.7 180.2L538.3 180.2L538.9 180.2L539.5 180.4L540.1 180.4L540.7 179.6L541.3 180.3L541.9 180.2L542.5 180.4L543.1 180.3L543.7 180.1L544.3 180.3L544.9 179.8L545.5 180.2L546.1 179.8L546.7 179.9L547.3 180.2L547.9 180.2L548.5 180.2L549.1 180.2L549.7 180.1L550.3 180.1L550.9 179.9L551.5 179.7L552.1 179.3L552.7 179.8L553.3 179.8L553.9 179.6L554.5 179.7L555.1 179.3L555.7 179.6L556.3 179.4L556.9 179.5L557.5 179.5L558.1 178.1L558.7 178.8L559.3 179.2L559.9 179L560.5 178.1L561.1 175.8L561.7 175.8L562.3 175.8L562.9 175.5L563.5 175.8L564.1 175.9L564.4 190.4Z" fill="#f0747e"/>
<path d="M568.2 190.4L568.2 191.9L568.8 192L569.4 192.8L570 193.4L570.6 193L571.2 193.5L571.8 193.1L572.4 193.2L573 193.5L573.6 193.9L574.2 194L574.8 195.2L575.4 194.3L576 194.4L576.6 194.6L577.2 194.2L577.8 196.6L578.4 194.5L579 194.5L579.6 194.7L580.2 195.5L580.8 194.8L581.4 195L582 195.1L582.6 195.5L583.2 195.6L583.8 195.3L584.4 195.5L585 195.1L585.6 195.7L586.2 194.7L586.8 197L587.4 194.6L588 194.3L588.6 194.5L589.2 194.1L589.8 201.1L590.4 207.8L591 213.6L591.6 218.1L592.2 223L592.8 224.4L593.4 225.4L594 226.5L594.6 227.8L595.2 228L595.8 228.7L596.4 230.2L597 231.2L597.6 231L598.2 231.3L598.8 232.2L599.4 232L600 232.6L600.6 233L601.2 233.4L601.8 233.9L602.4 233.7L603 235.6L603.6 234.6L604.2 235L604.8 234.7L605.4 235L606 234.7L606.6 235L607.2 234.6L607.8 235.2L608.4 234.7L609 235L609.6 234.4L610.2 234.9L610.8 234L611.4 235L612 234.4L612.6 235.9L613.2 234L613.8 233.7L614.4 233.9L615 234L615.6 235.4L616.2 233.7L616.8 234.4L617.4 234.9L618 234.7L618.6 234.8L619.2 235.2L619.8 235.6L620.4 236L621 235.5L621.6 236.8L622.2 235.9L622.8 236.1L623.4 236.6L624 236.8L624.6 236.6L625.2 236.4L625.8 236.8L626.4 237.1L627 236.7L627.6 237.5L628.2 238.4L628.8 237.1L629.4 236.9L630 236.7L630.6 237.1L631.2 237.6L631.8 237.4L632.4 237.2L632.9 190.4Z" fill="#22b514"/>
<path d="M589.2 190.4L590.1 190.4L590.1 240.9L589.7 253.6L589.2 240.9Z" fill="#7fee78"/>
<path d="M578.7 190.4L579.6 190.4L579.6 198.4L579.2 200.4L578.7 198.4Z" fill="#22b514"/>
<path d="M627.6 190.4L628.5 190.4L628.5 231.2L628 241.3L627.6 231.2Z" fill="#22b514"/>
<path d="M568.2 190.4L568.2 191L568.8 192.3L569.4 191.1L570 191.1L570.6 191L571.2 191L571.8 191.1L572.4 191.7L573 191.1L573.6 191L574.2 191L574.8 191L575.4 191L576 191.1L576.6 191L577.2 191L577.8 191L578.4 191L579 191L579.6 191L580.2 191L580.8 191.1L581.4 191L582 191L582.6 190.9L583.2 193L583.8 191.1L584.4 192.5L585 191L585.6 191L586.2 191.1L586.8 191L587.4 191.4L588 191L588.6 191.1L589.2 191L589.8 191.1L590.4 191.8L591 193.7L591.6 196.1L592.2 196L592.8 196.1L593.4 196.1L594 196.2L594.6 196.1L595.2 196.1L595.8 196.1L596.4 196.1L597 196.1L597.6 196.2L598.2 196.1L598.8 196.2L599.4 196.1L600 196.1L600.6 196.2L601.2 196.2L601.8 196.1L602.4 196.2L603 196.3L603.6 196.2L604.2 196.3L604.8 196.3L605.4 196.3L606 196.2L606.6 196.4L607.2 196.3L607.8 197.2L608.4 196.5L609 196.3L609.6 196.4L610.2 196.3L610.8 196.4L611.4 196.4L612 196.3L612.6 196.3L613.2 196.4L613.8 196.4L614.4 196.4L615 196.3L615.6 196.3L616.2 196.4L616.8 196.4L617.4 196.5L618 196.4L618.6 196.5L619.2 196.4L619.8 196.4L620.4 196.4L621 196.4L621.6 196.5L622.2 196.4L622.8 196.5L623.4 198.2L624 196.5L624.6 196.5L625.2 196.5L625.8 196.5L626.4 196.4L627 196.5L627.6 196.5L628.2 196.5L628.8 196.5L629.4 196.6L630 196.7L630.6 196.7L631.2 196.5L631.8 198.6L632.4 196.5L632.9 190.4Z" fill="#b6e6b0"/>
<rect x="603.6" y="233.8" width="12.2" height="1" fill="#062e08"/>
<rect x="615.8" y="234.5" width="7" height="1.6" fill="#062e08"/>
<rect x="622.8" y="236.3" width="10.1" height="1.2" fill="#062e08"/>
<path d="M568.2 190.4L568.2 136.5L568.8 136.7L569.4 136.9L570 136.7L570.6 136.8L571.2 136.8L571.8 137L572.4 137.5L573 136.6L573.6 137.6L574.2 137.8L574.8 137.6L575.4 137.9L576 137.3L576.6 138.2L577.2 138.1L577.8 138.7L578.4 139L579 139.5L579.6 138.6L580.2 140.6L580.8 140.9L581.4 141.4L582 142L582.6 142.2L583.2 143.8L583.8 145.5L584.4 146.9L585 148.2L585.6 150L586.2 151.1L586.8 153L587.4 155.3L588 157.4L588.6 159.2L589.2 162.6L589.8 165.9L590.4 175.1L591 177.3L591.6 177.6L592.2 177.5L592.8 177.6L593.4 177.6L594 177.8L594.6 177.6L595.2 178L595.8 177.7L596.4 177.9L597 177.8L597.6 177.5L598.2 178L598.8 176.6L599.4 178.1L600 178.4L600.6 178.2L601.2 177L601.8 178.2L602.4 178.6L603 178.6L603.6 179.1L604.2 178.4L604.8 179.7L605.4 180L606 180.2L606.6 180.4L607.2 180.3L607.8 180.4L608.4 180.6L609 180.4L609.6 179.1L610.2 180.3L610.8 179.9L611.4 179.9L612 179.7L612.6 180.1L613.2 179.9L613.8 180L614.4 180L615 179.5L615.6 179.7L616.2 179.1L616.8 179.6L617.4 179.6L618 179.4L618.6 179.3L619.2 179.4L619.8 179L620.4 179.2L621 179L621.6 179.6L622.2 179.5L622.8 179.7L623.4 179.7L624 179.6L624.6 179.9L625.2 180L625.8 180.1L626.4 180L627 179.9L627.6 179.9L628.2 180L628.8 180.3L629.4 180L630 180.2L630.6 179.9L631.2 180.3L631.8 180.5L632.4 180.6L632.9 190.4Z" fill="#f0747e"/>
<path d="M568.2 190.4L568.2 188.4L568.8 188.4L569.4 188.5L570 188.4L570.6 187.1L571.2 188.6L571.8 188.6L572.4 188.5L573 188.6L573.6 188.6L574.2 188.6L574.8 187.6L575.4 188.6L576 188.6L576.6 188.6L577.2 188.2L577.8 188.2L578.4 188.7L579 188.7L579.6 188.7L580.2 188.8L580.8 188.3L581.4 189L582 189.3L582.6 189.4L583.2 189.7L583.8 190.1L584.4 188.9L584.4 190.4Z" fill="#b81220"/>
<path d="M636.8 190.4L636.8 202.4L637.4 199.8L638 196.6L638.6 195.8L639.2 195.5L639.8 196.1L640.4 195.8L641 195.7L641.6 195.4L642.2 195.7L642.8 195.4L643.4 195.9L644 195.1L644.6 195.3L645.2 195L645.8 194.9L646.4 195.2L647 194.9L647.6 194.9L648.2 195.2L648.8 195L649.4 194.9L650 195.6L650.6 194.6L651.2 197.1L651.8 195.4L652.4 194.5L653 194.9L653.6 194.7L654.2 194.8L654.8 194.3L655.4 194.6L656 194.3L656.6 194.8L657.2 195L657.8 195.2L658.4 194.3L659 194.2L659.6 194.6L660.2 194.4L660.8 194.5L661.4 194.2L662 194.1L662.6 194.5L663.2 193.9L663.8 196.9L664.4 194.2L665 195L665.6 194.6L666.2 193.8L666.8 193.6L667.4 193.8L668 193.7L668.6 194.3L669.2 194.3L669.8 195.4L670.4 197L671 194.1L671.6 193.8L672.2 194.7L672.8 194.7L673.4 195L674 196.2L674.6 196.2L675.2 197.3L675.8 196.3L676.4 196L677 195.5L677.6 195.4L678.2 194.9L678.8 195L679.4 194.3L680 195.4L680.6 193.8L681.2 193.2L681.8 193.3L682.4 194.5L683 192.8L683.6 192.7L684.2 192.7L684.8 193.5L685.4 192.8L686 193L686.6 193.6L687.2 193.4L687.8 193.4L688.4 193L689 193.3L689.6 193.9L690.2 193.7L690.8 193.4L691.4 194.1L692 193.3L692.6 193.4L693.2 193.6L693.8 194.3L694.4 193.7L695 193.5L695.6 194L696.1 190.4Z" fill="#22b514"/>
<path d="M658.1 190.4L659 190.4L659 209.5L658.6 214.3L658.1 209.5Z" fill="#22b514"/>
<path d="M663.3 190.4L664.2 190.4L664.2 202.6L663.8 205.6L663.3 202.6Z" fill="#7fee78"/>
<path d="M695.1 190.4L696 190.4L696 202.6L695.5 205.6L695.1 202.6Z" fill="#7fee78"/>
<path d="M636.8 190.4L636.8 192.6L637.4 192.7L638 192.5L638.6 192.6L639.2 192.5L639.8 192.5L640.4 192.5L641 192.7L641.6 192.5L642.2 193.7L642.8 192.5L643.4 192.5L644 192.8L644.6 192.5L645.2 192.6L645.8 192.5L646.4 192.6L647 192.5L647.6 192.7L648.2 192.7L648.8 192.5L649.4 192.5L650 192.5L650.6 192.6L651.2 192.6L651.8 192.5L652.4 192.5L653 192.6L653.6 192.7L654.2 192.6L654.8 192.6L655.4 192.7L656 192.6L656.6 192.6L657.2 192.6L657.8 192.7L658.4 192.7L659 192.5L659.6 192.6L660.2 192.6L660.8 192.5L661.4 192.5L662 192.6L662.6 192.7L663.2 192.5L663.8 192.6L664.4 192.5L665 193.7L665.6 192.7L666.2 192.6L666.8 192.5L667.4 192.6L668 192.6L668.6 192.5L669.2 192.6L669.8 192.6L670.4 192.7L671 192.5L671.6 192.6L672.2 192.6L672.8 193.6L673.4 192.6L674 192.5L674.6 192.5L675.2 192.6L675.8 192.5L676.4 192.5L677 192.6L677.6 192.7L678.2 194.9L678.8 192.5L679.4 192.6L680 192.6L680.6 192.6L681.2 192.6L681.8 192.7L682.4 192.7L683 192.6L683.6 193.9L684.2 192.6L684.8 192.5L685.4 192.8L686 192.6L686.6 192.6L687.2 192.6L687.8 194.5L688.4 192.6L689 192.5L689.6 192.6L690.2 192.6L690.8 192.6L691.4 192.6L692 192.6L692.6 192.7L693.2 192.6L693.8 192.6L694.4 192.7L695 193.2L695.6 192.7L696.1 190.4Z" fill="#b6e6b0"/>
<rect x="658.2" y="208.2" width="1" height="6.1" fill="#062e08"/>
<path d="M636.8 190.4L636.8 182L637.4 181.8L638 181.4L638.6 182L639.2 182L639.8 182L640.4 182.1L641 181.8L641.6 181.7L642.2 181.7L642.8 180.7L643.4 182.2L644 182.1L644.6 181.9L645.2 181.9L645.8 182L646.4 181.7L647 182.1L647.6 181.8L648.2 182.4L648.8 182L649.4 182.2L650 182.3L650.6 182.1L651.2 182.1L651.8 182.3L652.4 182.4L653 182.5L653.6 182.4L654.2 181.3L654.8 181.3L655.4 182.1L656 182L656.6 181.2L657.2 181.6L657.8 181.6L658.4 181.1L659 181.3L659.6 181.1L660.2 181L660.8 180.4L661.4 180.7L662 180.3L662.6 180.4L663.2 180.4L663.8 180.3L664.4 180.7L665 180.6L665.6 180.7L666.2 180.1L666.8 180.6L667.4 180.6L668 180.5L668.6 180.7L669.2 180.6L669.8 180.9L670.4 180.7L671 180.4L671.6 180.9L672.2 180.3L672.8 181L673.4 180.7L674 180.7L674.6 180.6L675.2 181.1L675.8 180.6L676.4 180L677 179.6L677.6 179.7L678.2 179L678.8 179.3L679.4 179.4L680 179.5L680.6 179.5L681.2 178.7L681.8 179.4L682.4 179.5L683 179.5L683.6 179.4L684.2 179.3L684.8 179.4L685.4 179.5L686 179.3L686.6 179.2L687.2 179.5L687.8 179.4L688.4 178.9L689 179.2L689.6 179.3L690.2 179.3L690.8 179.1L691.4 178.6L692 179.3L692.6 179.5L693.2 178.3L693.8 179.3L694.4 179.3L695 179.4L695.6 179.3L696.1 190.4Z" fill="#f0747e"/>
<rect x="649.5" y="160.2" width="0.7" height="30.2" fill="#f0747e" opacity="0.6"/>
<rect x="691" y="163.4" width="0.7" height="27" fill="#f0747e" opacity="0.6"/>
<path d="M700.4 190.4L700.4 231.9L701 232.3L701.6 232.1L702.2 232.2L702.8 232.6L703.4 231.9L704 232.2L704.6 232.1L705.2 232.4L705.8 231.8L706.4 231.9L707 232.3L707.6 232L708.2 232.7L708.8 232.7L709.4 232.2L710 231.8L710.6 233.1L711.2 232.5L711.8 232.4L712.4 231.9L713 232.5L713.6 232.3L714.2 230.9L714.8 230.6L715.4 229.5L716 229.7L716.6 230.2L717.2 205L717.8 192.3L718.4 191.8L719 193L719.6 191.7L720.2 192.4L720.8 192.3L721.4 192.9L722 192.1L722.6 191.6L723.2 191.8L723.8 192.6L724.4 191.6L725 193.9L725.6 191.7L726.2 191.9L726.8 192.7L727.4 194L728 191.6L728.6 191.9L729.2 191.8L729.8 191.8L730.4 192L731 191.7L731.6 191.6L732.2 192L732.8 192.1L733.4 191.7L734 194.4L734.6 192L735.2 192.4L735.8 191.7L736.4 191.7L737 191.9L737.6 191.7L738.2 192.2L738.8 192.5L739.4 192.3L740 191.9L740.6 192L741.2 192.1L741.8 191.9L742.4 191.6L743 192.4L743.6 191.7L744.2 191.9L744.8 192.6L745.4 191.6L746 191.6L746.6 191.5L747.2 193.8L747.8 192.2L748.4 191.5L749 192.3L749.6 194.5L750.2 191.9L750.8 191.5L751.4 192L752 191.4L752.6 193.5L753.2 191.6L753.8 191.9L754.4 191.5L754.7 190.4Z" fill="#22b514"/>
<path d="M701.4 190.4L702.3 190.4L702.3 234.6L701.8 245.7L701.4 234.6Z" fill="#7fee78"/>
<path d="M715.3 190.4L716.2 190.4L716.2 229.1L715.8 238.7L715.3 229.1Z" fill="#22b514"/>
<path d="M700.4 190.4L700.4 196.9L701 196.9L701.6 196.9L702.2 197.1L702.8 199.3L703.4 196.9L704 196.9L704.6 196.9L705.2 197L705.8 197L706.4 197L707 196.9L707.6 199.4L708.2 197.2L708.8 197.1L709.4 197.1L710 196.9L710.6 197L711.2 197L711.8 197L712.4 197L713 197.1L713.6 196.9L714.2 197L714.8 196.9L715.4 197L716 196.9L716.6 196.9L717.2 193L717.8 191.1L718.4 191.1L719 191L719.6 191.2L720.2 191.2L720.8 191.1L721.4 191.1L722 191.2L722.6 191L723.2 191L723.8 191.1L724.4 191.1L725 191.1L725.6 191L726.2 191.2L726.8 190.9L727.4 191.1L728 191L728.6 191L729.2 191.1L729.8 192.8L730.4 190.9L731 191.1L731.6 191L732.2 191.2L732.8 191L733.4 193.3L734 191L734.6 190.9L735.2 191.1L735.8 191.1L736.4 191L737 191.1L737.6 191.2L738.2 191.2L738.8 191L739.4 193.2L740 191L740.6 191.2L741.2 191L741.8 191.1L742.4 191.1L743 191.2L743.6 191L744.2 191L744.8 191.1L745.4 191L746 191L746.6 191.3L747.2 191.1L747.8 191.1L748.4 191L749 191L749.6 191L750.2 191L750.8 191L751.4 191.1L752 190.9L752.6 191L753.2 191L753.8 191L754.4 191L754.7 190.4Z" fill="#7fee78"/>
<path d="M700.4 190.4L700.4 192.5L701 192.6L701.6 192.6L702.2 192.6L702.8 192.6L703.4 192.6L704 192.6L704.6 192.5L705.2 192.5L705.8 192.6L706.4 192.5L707 192.6L707.6 192.5L708.2 192.6L708.8 192.7L709.4 193.2L710 192.6L710.6 192.7L711.2 192.5L711.8 192.6L712.4 192.6L713 192.7L713.6 192.9L714.2 192.5L714.8 192.7L715.4 192.5L716 192.5L716.6 192.8L717.2 191.6L717.8 190.8L718.4 190.9L719 190.9L719.6 190.8L720.2 190.8L720.8 190.9L721.4 190.8L722 190.8L722.6 192.3L723.2 190.8L723.8 190.8L724.4 190.8L725 190.8L725.6 190.8L726.2 190.8L726.8 190.8L727.4 190.8L728 190.9L728.6 190.8L729.2 191.7L729.8 190.8L730.4 190.9L731 190.9L731.6 190.9L732.2 190.9L732.8 190.8L733.4 190.9L734 190.8L734.6 190.8L735.2 190.8L735.8 190.8L736.4 191.7L737 190.9L737.6 190.9L738.2 190.9L738.8 190.8L739.4 190.9L740 190.9L740.6 190.9L741.2 190.8L741.8 190.8L742.4 190.8L743 191L743.6 190.8L744.2 190.9L744.8 190.9L745.4 190.9L746 190.8L746.6 190.8L747.2 190.8L747.8 190.8L748.4 190.9L749 190.9L749.6 190.8L750.2 191L750.8 190.8L751.4 192.8L752 190.9L752.6 190.8L753.2 190.8L753.8 190.8L754.4 190.9L754.7 190.4Z" fill="#b6e6b0"/>
<path d="M700.4 190.4L700.4 170.4L701 170.9L701.6 171L702.2 172.1L702.8 172.3L703.4 172.4L704 172.4L704.6 172.5L705.2 172.7L705.8 172.9L706.4 172.7L707 172.7L707.6 173.3L708.2 173.3L708.8 173.3L709.4 171.6L710 173.6L710.6 173.3L711.2 174L711.8 174L712.4 173.5L713 173.4L713.6 171.9L714.2 172.2L714.8 170.1L715.4 170.9L716 153.9L716.6 114.4L717.2 112.2L717.8 111.3L718.4 110.2L719 109.7L719.6 108.9L720.2 108.2L720.8 107.1L721.4 106.4L722 105.9L722.6 104.9L723.2 104.5L723.8 103.8L724.4 102.8L725 102.6L725.6 101.8L726.2 101L726.8 100L727.4 99.7L728 98.9L728.6 99.1L729.2 97.7L729.8 98.8L730.4 98.7L731 98.6L731.6 98.3L732.2 98.5L732.8 98.1L733.4 98.4L734 98.6L734.6 98.5L735.2 98.6L735.8 97.8L736.4 97L737 98.5L737.6 98.1L738.2 97.7L738.8 98.1L739.4 98.3L740 98.1L740.6 98L741.2 97.6L741.8 96.2L742.4 96.1L743 95.8L743.6 97.1L744.2 96.6L744.8 96.8L745.4 96.6L746 96.6L746.6 96.5L747.2 96L747.8 95.9L748.4 96.1L749 95.9L749.6 96.2L750.2 95.9L750.8 95.9L751.4 95.6L752 95.8L752.6 95.8L753.2 95.7L753.8 94.5L754.4 95.6L754.7 190.4Z" fill="#f0747e"/>
<path d="M700.4 190.4L700.4 189.5L701 189.5L701.6 189.3L702.2 188.3L702.8 189.5L703.4 189.5L704 189.5L704.6 189.4L705.2 189.4L705.8 189.4L706.4 189.5L707 189.5L707.6 189.5L708.2 189.5L708.8 189.5L709.4 189.5L710 189.4L710.6 189.5L711.2 189.5L711.8 189.5L712.4 189.2L713 189.3L713.6 189.5L714.2 189.4L714.8 189.4L715.4 189.1L716 189.4L716.6 171.5L717.2 169.6L717.8 169.9L718.4 170.2L719 169.9L719.6 169.3L720.2 169.2L720.8 169.8L721.4 169.8L722 169.6L722.6 169.7L723.2 169.2L723.8 169.3L724.4 168.9L725 169.3L725.6 169.3L726.2 169.2L726.8 169.1L727.4 169.1L728 168.9L728.6 168.9L729.2 168.9L729.8 168.9L730.4 168.8L731 168.7L731.6 168.7L732.2 168.6L732.8 168.2L733.4 168.1L734 167.9L734.6 167.9L735.2 167.6L735.8 167.3L736.4 167.3L737 167.1L737.6 166.8L738.2 166.7L738.8 166.5L739.4 166.3L740 166.1L740.6 165.7L741.2 165.8L741.8 164.3L742.4 165.6L743 165.4L743.6 165.3L744.2 165.3L744.8 165.1L745.4 165.1L746 165L746.6 164.9L747.2 164.8L747.8 164.7L748.4 164.6L749 164.4L749.6 163.4L750.2 164.4L750.8 164.3L751.4 164.2L752 164.1L752.6 164L753.2 163.9L753.8 163.8L754.4 163.7L754.7 190.4Z" fill="#b81220"/>
<path d="M758.8 190.4L758.8 216.2L759.4 216.4L760 216L760.6 216.3L761.2 216L761.8 218L762.4 215.8L763 215.4L763.6 215.2L764.2 215L764.8 215.5L765.4 215.6L766 214.8L766.6 214.7L767.2 214.8L767.8 215.3L768.4 214.1L769 214.3L769.6 213.7L770.2 213.9L770.8 214.6L771.4 219.7L772 227.5L772.6 231.4L773.2 234.1L773.8 238.5L774.4 233.9L775 224.1L775.6 217.9L776.2 218L776.8 218.1L777.4 218.1L778 218.3L778.6 218.6L779.2 218.2L779.8 218.7L780.4 218.4L781 217.9L781.6 218.6L782.2 218.4L782.8 218.6L783.4 230.2L784 233.3L784.6 219.5L785.2 210.5L785.8 211.4L786.4 209.9L787 210.7L787.6 210.3L788.2 210.3L788.8 209.8L789.4 210.3L790 210L790.6 209.7L791.2 210.3L791.8 211.1L792.4 209.9L793 210L793.6 209.7L794.2 209.5L794.8 210.2L795.4 209.5L796 210.2L796.6 209.3L797.2 209.6L797.8 209.7L798.4 210.5L799 209.6L799.6 209.2L800.2 209.4L800.8 209.2L801.4 209.8L802 209.1L802.6 209.8L803.2 209.2L803.8 209.4L804.4 209.5L805 209.1L805.6 209.1L806.2 209.5L806.8 209.5L807.4 209.8L808 209.4L808.6 210L809.2 212.1L809.8 211.7L810.4 209.2L810.8 190.4Z" fill="#22b514"/>
<path d="M759.8 190.4L760.7 190.4L760.7 213.7L760.2 219.5L759.8 213.7Z" fill="#7fee78"/>
<path d="M792.9 190.4L793.8 190.4L793.8 210.2L793.4 215.2L792.9 210.2Z" fill="#22b514"/>
<path d="M758.8 190.4L758.8 193.5L759.4 193.5L760 193.4L760.6 193.7L761.2 193.8L761.8 193.4L762.4 193.4L763 193.4L763.6 193.4L764.2 193.6L764.8 193.6L765.4 193.6L766 193.5L766.6 193.4L767.2 193.5L767.8 193.4L768.4 193.4L769 193.4L769.6 193.5L770.2 193.5L770.8 193.6L771.4 193.4L772 199.5L772.6 204.7L773.2 204.7L773.8 204.8L774.4 204.9L775 204.8L775.6 204.8L776.2 204.7L776.8 206.1L777.4 204.9L778 204.7L778.6 205L779.2 205.1L779.8 204.7L780.4 204.8L781 204.8L781.6 204.8L782.2 206.4L782.8 204.9L783.4 204.9L784 204.8L784.6 205.2L785.2 197.8L785.8 194.3L786.4 194.3L787 194.3L787.6 194.4L788.2 194.4L788.8 194.4L789.4 194.5L790 194.4L790.6 194.3L791.2 194.5L791.8 194.3L792.4 194.3L793 194.4L793.6 194.3L794.2 194.3L794.8 194.5L795.4 194.5L796 194.3L796.6 194.4L797.2 194.3L797.8 194.6L798.4 194.5L799 194.3L799.6 194.3L800.2 194.3L800.8 194.3L801.4 194.3L802 194.4L802.6 194.3L803.2 194.3L803.8 194.4L804.4 194.4L805 194.3L805.6 194.3L806.2 194.4L806.8 194.3L807.4 194.3L808 194.5L808.6 194.4L809.2 194.3L809.8 194.4L810.4 194.3L810.8 190.4Z" fill="#7fee78"/>
<path d="M758.8 190.4L758.8 193.5L759.4 193.4L760 193.6L760.6 193.4L761.2 195.6L761.8 193.4L762.4 193.5L763 193.4L763.6 193.5L764.2 193.4L764.8 193.4L765.4 193.5L766 193.4L766.6 193.6L767.2 193.5L767.8 193.4L768.4 193.5L769 193.5L769.6 193.4L770.2 193.5L770.8 193.4L771.4 193.4L772 197.1L772.6 201.6L773.2 200.5L773.8 200.4L774.4 200.4L775 200.4L775.6 200.4L776.2 200.5L776.8 201.6L777.4 200.4L778 200.4L778.6 201.8L779.2 200.4L779.8 200.5L780.4 200.5L781 200.4L781.6 200.4L782.2 200.5L782.8 200.4L783.4 200.4L784 200.4L784.6 202.2L785.2 196.3L785.8 194.4L786.4 194.3L787 194.3L787.6 194.4L788.2 194.3L788.8 194.4L789.4 194.3L790 195L790.6 194.3L791.2 194.3L791.8 194.3L792.4 194.3L793 194.4L793.6 194.3L794.2 194.3L794.8 194.4L795.4 194.3L796 194.3L796.6 194.4L797.2 194.3L797.8 194.3L798.4 196.7L799 194.4L799.6 194.3L800.2 194.3L800.8 194.4L801.4 194.3L802 194.3L802.6 194.3L803.2 194.4L803.8 194.3L804.4 194.3L805 194.4L805.6 195.2L806.2 194.3L806.8 194.4L807.4 194.3L808 194.4L808.6 194.5L809.2 194.4L809.8 195.6L810.4 194.3L810.8 190.4Z" fill="#b6e6b0"/>
<rect x="775.4" y="216.9" width="7.5" height="1.7" fill="#062e08"/>
<path d="M758.8 190.4L758.8 180.8L759.4 180.5L760 180.2L760.6 179.1L761.2 180.5L761.8 180.5L762.4 180.1L763 180.5L763.6 180.1L764.2 180.6L764.8 180.4L765.4 180.5L766 179.7L766.6 180.3L767.2 180.1L767.8 180.3L768.4 180.3L769 179.6L769.6 179.9L770.2 180.2L770.8 180.1L771.4 179.8L772 180L772.6 179.8L773.2 179.6L773.8 178.9L774.4 179.6L775 181L775.6 182.2L776.2 182.6L776.8 182.2L777.4 182.7L778 182.7L778.6 182.9L779.2 181.4L779.8 182.6L780.4 182.8L781 182.9L781.6 182.9L782.2 182.6L782.8 182.6L783.4 182.8L784 182.7L784.6 182.9L785.2 181.6L785.8 182.5L786.4 182.7L787 182.8L787.6 182.7L788.2 182.9L788.8 182.9L789.4 182.7L790 182.9L790.6 182.4L791.2 182.9L791.8 182.9L792.4 182.7L793 182.5L793.6 183L794.2 182.9L794.8 183L795.4 182.5L796 182.7L796.6 182.3L797.2 182.8L797.8 181.8L798.4 182.9L799 182.9L799.6 183.1L800.2 182.9L800.8 182.4L801.4 183.1L802 182.4L802.6 183L803.2 182.9L803.8 182.9L804.4 183L805 183.1L805.6 182.8L806.2 182.8L806.8 183.1L807.4 182.8L808 183.1L808.6 182.8L809.2 182.9L809.8 183.1L810.4 183.2L810.8 190.4Z" fill="#f0747e"/>
<rect x="774.7" y="175.6" width="0.7" height="14.8" fill="#f0747e" opacity="0.6"/>
<rect x="782.6" y="171.1" width="0.7" height="19.3" fill="#f0747e" opacity="0.6"/>
<path d="M815.2 190.4L815.2 202.5L815.8 202.3L816.4 202.8L817 202.1L817.6 201.7L818.2 202.2L818.8 202L819.4 202.7L820 201.7L820.6 201.4L821.2 201.6L821.8 201.7L822.4 201.6L823 201.9L823.6 201L824.2 200.8L824.8 200.6L825.4 201.9L826 201.6L826.6 202L827.2 202.5L827.8 205.2L828.4 205.9L829 205.8L829.6 205.7L830.2 205.7L830.8 205.9L831.4 205.9L832 207L832.6 206.6L833.2 206.4L833.8 205.9L834.4 205.8L835 206L835.6 205.5L836.2 205.9L836.8 206.2L837.4 205.4L838 206L838.6 205.2L839.2 207.1L839.8 206L840.4 205.6L841 204.9L841.6 205.7L842.2 206.1L842.8 205.2L843.4 205.4L844 204.9L844.6 205.3L845.2 206.1L845.8 206.4L846.4 205.1L847 205.2L847.6 205.2L848.2 206.1L848.8 205.1L849.4 206L850 205.1L850.6 205.5L851.2 205.5L851.8 206.1L852.4 205.3L853 205.3L853.6 205.2L854.2 206.7L854.8 206.2L855.4 205.9L856 206.8L856.6 205.5L857.2 205.1L857.8 205.5L858.4 205.2L859 207.2L859.6 205.1L860.2 205L860.8 205.8L861.4 205L862 205.2L862.6 205.4L863.2 205L863.8 205.3L864.4 205.3L864.9 190.4Z" fill="#22b514"/>
<path d="M828.3 190.4L829.2 190.4L829.2 227.7L828.8 237L828.3 227.7Z" fill="#22b514"/>
<path d="M831.7 190.4L832.6 190.4L832.6 213L832.1 218.7L831.7 213Z" fill="#22b514"/>
<path d="M840 190.4L840.9 190.4L840.9 210.9L840.5 216.1L840 210.9Z" fill="#7fee78"/>
<path d="M849.6 190.4L850.5 190.4L850.5 206.7L850.1 210.8L849.6 206.7Z" fill="#7fee78"/>
<path d="M864.1 190.4L865 190.4L865 208.1L864.5 212.6L864.1 208.1Z" fill="#7fee78"/>
<path d="M815.2 190.4L815.2 193.4L815.8 193.5L816.4 193.5L817 193.4L817.6 193.4L818.2 193.5L818.8 195.9L819.4 193.6L820 193.5L820.6 193.4L821.2 193.4L821.8 194.6L822.4 193.5L823 193.5L823.6 193.4L824.2 193.4L824.8 193.5L825.4 193.4L826 193.4L826.6 193.4L827.2 193.4L827.8 195.6L828.4 193.6L829 194.1L829.6 194.8L830.2 195.2L830.8 196.8L831.4 195.3L832 195.1L832.6 195.2L833.2 195.1L833.8 195.2L834.4 195.2L835 195.2L835.6 195.2L836.2 195.2L836.8 197.5L837.4 195.2L838 195.2L838.6 195.2L839.2 195.2L839.8 197.4L840.4 195.2L841 195.2L841.6 195.2L842.2 195.1L842.8 195.2L843.4 195.3L844 195.2L844.6 195.4L845.2 195.1L845.8 195.3L846.4 195.2L847 195.1L847.6 195.2L848.2 195.3L848.8 196.4L849.4 195.2L850 195.8L850.6 195.2L851.2 195.3L851.8 195.2L852.4 195.1L853 195.4L853.6 195.2L854.2 195.2L854.8 195.2L855.4 195.1L856 195.1L856.6 195.4L857.2 195.1L857.8 197.3L858.4 195.2L859 195.3L859.6 195.2L860.2 195.2L860.8 195.2L861.4 195.3L862 195.2L862.6 195.1L863.2 195.1L863.8 195.3L864.4 195.3L864.9 190.4Z" fill="#b6e6b0"/>
<rect x="828.4" y="231.8" width="0.9" height="5.2" fill="#062e08"/>
<path d="M815.2 190.4L815.2 185L815.8 184.9L816.4 184.2L817 184.8L817.6 184.5L818.2 184.5L818.8 184.1L819.4 184.8L820 184.8L820.6 184.1L821.2 184.4L821.8 184.6L822.4 184.6L823 184.3L823.6 184.4L824.2 184.7L824.8 184.6L825.4 184.5L826 184.5L826.6 183.8L827.2 184.2L827.8 184.6L828.4 184.7L829 184.6L829.6 184.5L830.2 184.6L830.8 184.6L831.4 184.7L832 184.7L832.6 184.6L833.2 184.5L833.8 184.6L834.4 184.7L835 184.7L835.6 184.8L836.2 184.6L836.8 184.5L837.4 184.7L838 184.3L838.6 184.8L839.2 184.8L839.8 184.5L840.4 184.9L841 184.7L841.6 184.9L842.2 184.6L842.8 185L843.4 184.9L844 184.7L844.6 184.7L845.2 185L845.8 184.6L846.4 185L847 185.1L847.6 184.9L848.2 184.8L848.8 184.1L849.4 184.9L850 184.5L850.6 184.9L851.2 185.1L851.8 185.1L852.4 185.1L853 185L853.6 185L854.2 184.8L854.8 185L855.4 185.1L856 185.3L856.6 185.2L857.2 185.3L857.8 185.4L858.4 183.7L859 185.4L859.6 184.8L860.2 185.4L860.8 185.3L861.4 185.4L862 185.4L862.6 185.3L863.2 184L863.8 185.5L864.4 185L864.9 190.4Z" fill="#f0747e"/>
<path d="M869.3 190.4L869.3 194.3L869.9 194.9L870.5 194.9L871.1 195.4L871.7 194.6L872.3 194.3L872.9 194.3L873.5 194.5L874.1 194.7L874.7 194.8L875.3 195.3L875.9 194.3L876.5 194.5L877.1 195.4L877.7 194.3L878.3 194.4L878.9 194.3L879.5 195.2L880.1 195.1L880.7 196.6L881.3 194.7L881.9 194.6L882.5 195L883.1 194.6L883.7 194.4L884.3 194.3L884.9 194.6L885.5 194.8L886.1 194.2L886.7 195.3L887.3 194.4L887.9 194.3L888.5 193.9L889.1 193.7L889.7 193.7L890.3 193.9L890.9 194.6L891.5 194.3L892.1 194.6L892.7 194.1L893.3 194.5L893.9 196L894.5 194L895.1 194.8L895.7 194.1L896.3 196.9L896.9 195L897.5 195.3L898.1 196.1L898.7 195.4L899.3 195.3L899.9 195.3L900.5 194.6L901.1 194.9L901.7 195L902.3 196L902.9 196.6L903.5 195.5L904.1 195L904.7 195.2L905.3 195.1L905.9 195.1L906.5 195.3L907.1 194.8L907.7 194L908.3 194.3L908.9 195.5L909.5 198L910.1 202.1L910.7 203.7L911.3 202.9L911.9 204L912.5 204.1L913.1 204.4L913.7 205.4L914.3 205.7L914.9 206L915.5 207.3L916.1 207.6L916.7 208.3L917.3 211.8L917.9 213L918.5 211.4L919 190.4Z" fill="#22b514"/>
<path d="M870 190.4L870.9 190.4L870.9 199.8L870.5 202.1L870 199.8Z" fill="#7fee78"/>
<path d="M873.5 190.4L874.4 190.4L874.4 198.4L874 200.4L873.5 198.4Z" fill="#7fee78"/>
<path d="M887.1 190.4L888 190.4L888 208.1L887.6 212.6L887.1 208.1Z" fill="#22b514"/>
<path d="M905.4 190.4L906.3 190.4L906.3 199.1L905.9 201.2L905.4 199.1Z" fill="#7fee78"/>
<path d="M869.3 190.4L869.3 191.7L869.9 193.8L870.5 191.7L871.1 193L871.7 191.7L872.3 191.7L872.9 191.7L873.5 191.6L874.1 191.8L874.7 191.7L875.3 191.7L875.9 191.7L876.5 191.7L877.1 191.8L877.7 191.8L878.3 191.8L878.9 191.7L879.5 191.7L880.1 193.3L880.7 191.7L881.3 191.7L881.9 191.7L882.5 191.6L883.1 191.8L883.7 191.7L884.3 191.8L884.9 191.6L885.5 191.7L886.1 191.8L886.7 191.7L887.3 191.7L887.9 193.2L888.5 191.7L889.1 191.7L889.7 193.6L890.3 191.7L890.9 192.6L891.5 191.7L892.1 191.6L892.7 191.7L893.3 191.8L893.9 191.8L894.5 191.6L895.1 191.8L895.7 191.6L896.3 191.7L896.9 191.7L897.5 191.6L898.1 191.8L898.7 191.7L899.3 191.7L899.9 191.7L900.5 191.7L901.1 191.7L901.7 191.6L902.3 191.7L902.9 191.7L903.5 193L904.1 191.7L904.7 191.7L905.3 191.7L905.9 194L906.5 191.7L907.1 191.9L907.7 191.7L908.3 191.6L908.9 191.7L909.5 191.8L910.1 191.7L910.7 193L911.3 191.8L911.9 191.6L912.5 191.7L913.1 191.8L913.7 191.7L914.3 191.7L914.9 191.7L915.5 191.8L916.1 191.7L916.7 191.8L917.3 191.7L917.9 191.6L918.5 191.7L919 190.4Z" fill="#b6e6b0"/>
<path d="M869.3 190.4L869.3 180L869.9 180L870.5 179.9L871.1 179.9L871.7 179.8L872.3 180L872.9 179.9L873.5 179.4L874.1 180L874.7 179.9L875.3 179.4L875.9 179L876.5 179.8L877.1 179.2L877.7 179.5L878.3 179.6L878.9 178.5L879.5 179.6L880.1 179.5L880.7 179.1L881.3 179.1L881.9 179.4L882.5 177.9L883.1 179.4L883.7 178.9L884.3 179.1L884.9 179L885.5 178.9L886.1 179L886.7 179.1L887.3 178.6L887.9 178.8L888.5 178.8L889.1 178.1L889.7 178.7L890.3 178.9L890.9 179.1L891.5 178.8L892.1 178.9L892.7 178.9L893.3 179.1L893.9 178.9L894.5 178.7L895.1 178.5L895.7 179.2L896.3 179.2L896.9 178.5L897.5 178.8L898.1 179L898.7 179.2L899.3 179.1L899.9 179L900.5 179.2L901.1 179L901.7 178.9L902.3 179.1L902.9 179.1L903.5 179.2L904.1 179.3L904.7 179.3L905.3 179L905.9 179.3L906.5 178.8L907.1 179L907.7 179.4L908.3 179.2L908.9 179L909.5 180.1L910.1 180.8L910.7 180.9L911.3 181L911.9 181.2L912.5 181L913.1 181L913.7 180.5L914.3 181.2L914.9 181.1L915.5 181.1L916.1 181.3L916.7 181.3L917.3 181.4L917.9 180.3L918.5 180.3L919 190.4Z" fill="#f0747e"/>
<path d="M923 190.4L923 198.2L923.6 198.1L924.2 198L924.8 198.1L925.4 197.6L926 198L926.6 197.6L927.2 198L927.8 197.3L928.4 198.1L929 197.6L929.6 197.4L930.2 198.1L930.8 198.8L931.4 196.6L932 197.2L932.6 194.1L933.2 193.9L933.8 193.4L934.4 195.7L935 193.9L935.6 194L936.2 193.3L936.8 193.9L937.4 193.3L938 193.7L938.6 194L939.2 194L939.8 194L940.4 193.4L941 193.4L941.6 193.7L942.2 195.3L942.8 194.8L943.4 193.8L944 192.9L944.6 193.5L945.2 193.5L945.8 193.5L946.4 193.3L947 192.8L947.6 193.5L948.2 192.8L948.8 193.1L949.4 193.6L950 193.5L950.6 193L951.2 193.3L951.8 193.3L952.4 195.2L953 192.5L953.6 193.2L954.2 193.5L954.8 193.2L955.4 192.6L956 193L956.6 193.1L957.2 196.1L957.8 193.3L958.4 193.5L959 193L959.6 193.1L960.2 193.1L960.8 192.7L961.4 193.9L962 193.9L962.6 193.1L963.2 193.1L963.8 193.5L964.4 192.9L965 193.4L965.6 193L966.2 193L966.8 193.7L967.4 193.4L968 194.5L968.6 193L969.2 194L969.8 195.2L970.4 193.7L971 193.4L971.6 193.3L971.8 190.4Z" fill="#22b514"/>
<path d="M935.1 190.4L936 190.4L936 202.6L935.5 205.6L935.1 202.6Z" fill="#7fee78"/>
<path d="M969.1 190.4L970 190.4L970 198.4L969.6 200.4L969.1 198.4Z" fill="#22b514"/>
<path d="M923 190.4L923 192L923.6 191.6L924.2 191.8L924.8 191.7L925.4 191.7L926 193.1L926.6 191.7L927.2 191.7L927.8 194L928.4 191.7L929 191.9L929.6 191.8L930.2 191.8L930.8 191.7L931.4 191.7L932 191.7L932.6 191.6L933.2 191.8L933.8 191.7L934.4 191.7L935 191.7L935.6 191.7L936.2 191.7L936.8 191.8L937.4 191.7L938 191.7L938.6 191.8L939.2 191.6L939.8 191.7L940.4 191.8L941 191.8L941.6 191.7L942.2 192.7L942.8 191.7L943.4 191.8L944 191.8L944.6 191.7L945.2 191.7L945.8 191.8L946.4 191.7L947 191.7L947.6 193.1L948.2 191.6L948.8 191.7L949.4 191.7L950 191.7L950.6 191.7L951.2 191.7L951.8 191.7L952.4 191.7L953 191.8L953.6 191.8L954.2 193.7L954.8 191.7L955.4 191.7L956 191.6L956.6 191.8L957.2 191.7L957.8 191.7L958.4 191.6L959 191.7L959.6 191.7L960.2 193L960.8 192L961.4 191.7L962 191.7L962.6 191.7L963.2 194.1L963.8 193.3L964.4 191.6L965 191.7L965.6 191.7L966.2 191.8L966.8 191.7L967.4 191.7L968 191.6L968.6 191.7L969.2 191.7L969.8 191.7L970.4 191.7L971 191.7L971.6 191.7L971.8 190.4Z" fill="#b6e6b0"/>
<path d="M923 190.4L923 178.7L923.6 179.4L924.2 178.1L924.8 179.2L925.4 179.2L926 179L926.6 179.3L927.2 179L927.8 179L928.4 178.8L929 179.2L929.6 179.1L930.2 179.1L930.8 179L931.4 178.9L932 179L932.6 179.1L933.2 178.7L933.8 177.6L934.4 178.9L935 180.4L935.6 183.4L936.2 183.4L936.8 183.7L937.4 183.6L938 183.5L938.6 183.1L939.2 183L939.8 183.7L940.4 183.7L941 183.3L941.6 183.4L942.2 183.3L942.8 183.4L943.4 183.4L944 183.4L944.6 183.1L945.2 182.8L945.8 183.4L946.4 182.9L947 183.3L947.6 183.4L948.2 183.1L948.8 182.7L949.4 183L950 183.5L950.6 183.2L951.2 183.5L951.8 183.4L952.4 183.4L953 183.4L953.6 183.4L954.2 183.5L954.8 183.4L955.4 183.4L956 183.4L956.6 183.1L957.2 183.3L957.8 183.2L958.4 183.4L959 182.5L959.6 183L960.2 183.4L960.8 183.2L961.4 183.2L962 183.2L962.6 182.9L963.2 183.2L963.8 183.3L964.4 182.8L965 183.3L965.6 183.2L966.2 183.3L966.8 181.8L967.4 183.3L968 182.9L968.6 183.2L969.2 183L969.8 182.9L970.4 183.1L971 183L971.6 183L971.8 190.4Z" fill="#f0747e"/>
<path d="M981.3 190.4L981.3 206.2L981.9 204.5L982.5 205.4L983.1 204.1L983.7 204.6L984.3 204.2L984.9 204.4L985.5 203.6L986.1 205L986.7 203.7L987.3 203.9L987.9 204.2L988.5 203.6L989.1 203.5L989.7 203.9L990.3 203.5L990.9 203.8L991.5 203.5L992.1 203.2L992.7 203.9L993.3 203.3L993.9 203.3L994.5 204.5L995.1 203.4L995.7 203.1L996.3 203.6L996.9 203.6L997.5 204.1L998.1 204.8L998.7 204.5L999.3 203.7L999.9 207L1000.5 203.9L1001.1 204.4L1001.7 204.3L1002.3 204.1L1002.9 204.7L1003.5 204.3L1004.1 204.3L1004.7 204.5L1005.3 205.9L1005.9 205.2L1006.5 204.4L1007.1 204.3L1007.7 204.8L1008.3 204.5L1008.9 204.9L1009.5 204.5L1010.1 205.1L1010.7 205L1011.3 204.7L1011.9 205.1L1012.5 205L1013.1 204.7L1013.7 206.1L1014.3 205.2L1014.9 204.8L1015.5 204.7L1016.1 204.8L1016.7 205.5L1017.3 205.3L1017.9 205L1018.1 190.4Z" fill="#22b514"/>
<path d="M981.4 190.4L982.3 190.4L982.3 205.3L981.8 209.1L981.4 205.3Z" fill="#7fee78"/>
<path d="M1008.4 190.4L1009.3 190.4L1009.3 206L1008.8 209.9L1008.4 206Z" fill="#7fee78"/>
<path d="M981.3 190.4L981.3 194.4L981.9 194.3L982.5 194.4L983.1 194.3L983.7 194.3L984.3 194.3L984.9 194.3L985.5 194.3L986.1 194.4L986.7 194.4L987.3 194.3L987.9 194.9L988.5 194.3L989.1 194.5L989.7 194.3L990.3 194.3L990.9 194.3L991.5 194.4L992.1 194.3L992.7 194.3L993.3 194.3L993.9 194.3L994.5 196.8L995.1 194.3L995.7 194.3L996.3 194.5L996.9 194.3L997.5 194.3L998.1 194.3L998.7 194.4L999.3 195.3L999.9 194.3L1000.5 194.3L1001.1 194.4L1001.7 194.3L1002.3 194.4L1002.9 194.3L1003.5 194.3L1004.1 194.4L1004.7 194.4L1005.3 194.3L1005.9 194.3L1006.5 194.3L1007.1 194.3L1007.7 194.3L1008.3 194.3L1008.9 194.3L1009.5 194.3L1010.1 194.4L1010.7 194.3L1011.3 194.4L1011.9 194.3L1012.5 194.4L1013.1 194.3L1013.7 194.4L1014.3 194.3L1014.9 194.4L1015.5 194.4L1016.1 194.4L1016.7 196.6L1017.3 194.3L1017.9 194.3L1018.1 190.4Z" fill="#b6e6b0"/>
<path d="M981.3 190.4L981.3 183.9L981.9 184.6L982.5 184.1L983.1 184.2L983.7 182.9L984.3 183.8L984.9 182.8L985.5 183.9L986.1 184L986.7 183.9L987.3 183.5L987.9 183.6L988.5 183.6L989.1 183.6L989.7 183.5L990.3 183.5L990.9 182L991.5 183.1L992.1 182.9L992.7 183L993.3 182.8L993.9 182.9L994.5 182.9L995.1 182.9L995.7 182.8L996.3 182.5L996.9 182.4L997.5 182.5L998.1 182.4L998.7 182.1L999.3 182.1L999.9 181.7L1000.5 182L1001.1 182L1001.7 181.7L1002.3 181.3L1002.9 181.4L1003.5 181.7L1004.1 181.5L1004.7 181.5L1005.3 181.5L1005.9 181.6L1006.5 181.3L1007.1 181.5L1007.7 180.2L1008.3 181.1L1008.9 181.3L1009.5 181.3L1010.1 181.1L1010.7 181.4L1011.3 181.3L1011.9 181.2L1012.5 181.1L1013.1 181.2L1013.7 181.2L1014.3 180.6L1014.9 180.8L1015.5 180.9L1016.1 181.2L1016.7 181.2L1017.3 180.4L1017.9 181.1L1018.1 190.4Z" fill="#f0747e"/>
<rect x="981.3" y="179.8" width="0.7" height="10.6" fill="#f0747e" opacity="0.6"/>
<path d="M1027.7 190.4L1027.7 194.6L1028.3 194.8L1028.9 194.6L1029.5 195.4L1030.1 195.7L1030.7 194.2L1031.3 194.8L1031.9 194.3L1032.5 195.4L1033.1 194L1033.7 194.5L1034.3 194.6L1034.9 194.5L1035.5 194L1036.1 195L1036.7 194.2L1037.3 194.2L1037.9 194.1L1038.5 194.5L1039.1 194.2L1039.7 194.2L1040.3 193.8L1040.9 194.4L1041.5 194L1042.1 196L1042.7 194.3L1043.3 194L1043.9 193.6L1044.5 193.7L1045.1 194.6L1045.7 193.7L1046.3 194.4L1046.9 193.8L1047.5 194.4L1048.1 193.4L1048.7 194.1L1049.3 193.3L1049.9 194L1050.5 193.2L1051.1 194.4L1051.7 193.7L1052.3 193.1L1052.9 194L1053.5 193L1054.1 193.1L1054.7 192.9L1055.3 193.4L1055.9 192.9L1056.5 193L1057.1 193.6L1057.7 193.3L1058.3 193L1058.9 192.8L1059.5 192.7L1060.1 193.5L1060.7 193.8L1061.2 190.4Z" fill="#22b514"/>
<path d="M1027.2 190.4L1028.1 190.4L1028.1 213.7L1027.7 219.5L1027.2 213.7Z" fill="#7fee78"/>
<path d="M1033.7 190.4L1034.6 190.4L1034.6 201.9L1034.1 204.7L1033.7 201.9Z" fill="#7fee78"/>
<path d="M1027.7 190.4L1027.7 186.5L1028.3 186.7L1028.9 186.3L1029.5 186.7L1030.1 186.2L1030.7 186.4L1031.3 186.5L1031.9 186.5L1032.5 186.5L1033.1 186.5L1033.7 185.5L1034.3 186.2L1034.9 186.3L1035.5 186.5L1036.1 186.5L1036.7 186.3L1037.3 185.8L1037.9 186.3L1038.5 186.2L1039.1 186.2L1039.7 185.6L1040.3 186.2L1040.9 186.1L1041.5 186.3L1042.1 186L1042.7 186.3L1043.3 186.2L1043.9 186L1044.5 186.2L1045.1 186.2L1045.7 186L1046.3 186.2L1046.9 186.1L1047.5 185.9L1048.1 185.7L1048.7 186L1049.3 184.5L1049.9 186L1050.5 185.6L1051.1 185.9L1051.7 186L1052.3 185.6L1052.9 185.8L1053.5 185.6L1054.1 185.8L1054.7 185.7L1055.3 186L1055.9 186L1056.5 185.6L1057.1 185.8L1057.7 185.7L1058.3 185.9L1058.9 185.8L1059.5 185.9L1060.1 185.7L1060.7 185.7L1061.2 190.4Z" fill="#f0747e"/>
<rect x="1029.1" y="128.8" width="0.7" height="61.6" fill="#f0747e" opacity="0.6"/>
<path d="M1071.1 190.4L1071.1 220.2L1071.7 215.5L1072.3 210.8L1072.9 209.3L1073.5 208.9L1074.1 209.4L1074.7 208.7L1075.3 209.1L1075.9 208.8L1076.5 208.7L1077.1 208.1L1077.7 207.9L1078.3 207.6L1078.9 207.6L1079.5 208.4L1080.1 207.1L1080.7 207L1081.3 208.6L1081.9 207.1L1082.5 207L1083.1 207L1083.7 206.3L1084.3 206.9L1084.9 206.7L1085.5 206.4L1086.1 205.8L1086.7 205.8L1087.3 205.9L1087.9 205.7L1088.5 205.5L1089.1 205.8L1089.7 205L1090.3 205.3L1090.9 204.9L1091.5 205.2L1092.1 205.1L1092.7 205.4L1093.3 205.7L1093.9 205.7L1094.5 204.8L1095.1 207.2L1095.7 205.3L1096.3 204.7L1096.9 204.9L1097.5 204.7L1098.1 204.5L1098.7 205.4L1099.3 205.1L1099.9 204.9L1100.5 204.9L1101.1 204.5L1101.7 204.5L1102.2 190.4Z" fill="#22b514"/>
<path d="M1071.2 190.4L1072.1 190.4L1072.1 223.5L1071.6 231.8L1071.2 223.5Z" fill="#22b514"/>
<path d="M1075.5 190.4L1076.4 190.4L1076.4 208.1L1076 212.6L1075.5 208.1Z" fill="#7fee78"/>
<path d="M1071.1 190.4L1071.1 196.1L1071.7 196.4L1072.3 196L1072.9 196.2L1073.5 196.1L1074.1 196.1L1074.7 196L1075.3 196L1075.9 196.1L1076.5 196L1077.1 196.1L1077.7 196L1078.3 196.2L1078.9 196L1079.5 197.2L1080.1 196.1L1080.7 196.1L1081.3 196.2L1081.9 196L1082.5 196.1L1083.1 196.1L1083.7 196L1084.3 196.1L1084.9 197.1L1085.5 196L1086.1 196.1L1086.7 196.1L1087.3 196.1L1087.9 196.1L1088.5 196.1L1089.1 196L1089.7 196.1L1090.3 196.1L1090.9 197.4L1091.5 196.1L1092.1 196L1092.7 196.1L1093.3 196.1L1093.9 196L1094.5 196.2L1095.1 196L1095.7 196L1096.3 196.8L1096.9 196.1L1097.5 196L1098.1 196L1098.7 196.1L1099.3 196L1099.9 196.1L1100.5 196L1101.1 196.2L1101.7 196.3L1102.2 190.4Z" fill="#b6e6b0"/>
<path d="M1071.1 190.4L1071.1 181L1071.7 182L1072.3 183L1072.9 183.7L1073.5 184.2L1074.1 184.1L1074.7 184.5L1075.3 184.5L1075.9 184.5L1076.5 184.3L1077.1 184.4L1077.7 184.5L1078.3 184.5L1078.9 184.3L1079.5 184.5L1080.1 184.5L1080.7 184.1L1081.3 184.3L1081.9 184.2L1082.5 184.1L1083.1 184.2L1083.7 184.2L1084.3 184.1L1084.9 183.6L1085.5 184.4L1086.1 184.3L1086.7 184.2L1087.3 184.2L1087.9 184.3L1088.5 184L1089.1 184.1L1089.7 184.3L1090.3 184.2L1090.9 184L1091.5 183.9L1092.1 183.4L1092.7 184L1093.3 183.9L1093.9 183.7L1094.5 183.6L1095.1 183.5L1095.7 183.5L1096.3 183.1L1096.9 183.1L1097.5 183.2L1098.1 182.9L1098.7 182.9L1099.3 182.3L1099.9 182.7L1100.5 182.2L1101.1 182.3L1101.7 181.8L1102.2 190.4Z" fill="#f0747e"/>
<path d="M1106 190.4L1106 200.3L1106.6 199.2L1107.2 201.3L1107.8 199.1L1108.4 199.4L1109 199.6L1109.6 199.8L1110.2 199.7L1110.8 200.7L1111.4 199.6L1112 200L1112.6 200.9L1113.2 199.7L1113.8 200.3L1114.4 200.2L1115 200.1L1115.6 200.6L1116.2 200.1L1116.8 200.6L1117.4 201.4L1118 202.5L1118.6 205.8L1119.2 206.2L1119.8 205.6L1120.4 206.1L1121 205.6L1121.6 206L1122.2 206.5L1122.8 229.6L1123.4 230L1124 230.6L1124.6 229.9L1125.2 230.1L1125.8 230.6L1126.4 231.1L1127 230.9L1127.6 231.1L1128.2 231.6L1128.8 231L1129.4 233.3L1130 231.7L1130.6 231.7L1131.2 232.7L1131.8 230.1L1132.4 230.1L1133 229.8L1133.6 229.7L1134.2 229.5L1134.8 230L1135.4 230.3L1136 229.6L1136.6 230.1L1137.2 230L1137.8 230.5L1138.3 190.4Z" fill="#22b514"/>
<path d="M1109.9 190.4L1110.8 190.4L1110.8 206.7L1110.4 210.8L1109.9 206.7Z" fill="#7fee78"/>
<path d="M1117.4 190.4L1118.3 190.4L1118.3 213.7L1117.9 219.5L1117.4 213.7Z" fill="#22b514"/>
<path d="M1122.3 190.4L1123.2 190.4L1123.2 238.8L1122.7 250.9L1122.3 238.8Z" fill="#7fee78"/>
<path d="M1113 190.4L1113.9 190.4L1113.9 203.9L1113.5 207.3L1113 203.9Z" fill="#7fee78"/>
<path d="M1106 190.4L1106 193.6L1106.6 193.5L1107.2 193.5L1107.8 193.4L1108.4 195.4L1109 194.7L1109.6 193.4L1110.2 193.4L1110.8 193.5L1111.4 193.4L1112 193.4L1112.6 193.5L1113.2 193.4L1113.8 193.4L1114.4 193.4L1115 193.5L1115.6 193.6L1116.2 193.4L1116.8 193.5L1117.4 193.5L1118 193.6L1118.6 194.2L1119.2 194.4L1119.8 194.3L1120.4 194.3L1121 194.5L1121.6 194.4L1122.2 194.3L1122.8 198.7L1123.4 198.6L1124 198.6L1124.6 198.7L1125.2 198.7L1125.8 199.2L1126.4 198.7L1127 198.6L1127.6 198.7L1128.2 198.7L1128.8 198.7L1129.4 198.7L1130 198.7L1130.6 198.7L1131.2 198.6L1131.8 198.7L1132.4 198.7L1133 198.8L1133.6 198.6L1134.2 198.6L1134.8 198.6L1135.4 198.7L1136 198.7L1136.6 198.7L1137.2 198.8L1137.8 198.7L1138.3 190.4Z" fill="#b6e6b0"/>
<rect x="1118.2" y="205.6" width="4" height="1.4" fill="#062e08"/>
<path d="M1106 190.4L1106 185.5L1106.6 184.8L1107.2 185.4L1107.8 185L1108.4 185L1109 184.9L1109.6 184.8L1110.2 184.9L1110.8 185.1L1111.4 185L1112 184.6L1112.6 184.9L1113.2 184.8L1113.8 184.7L1114.4 184.3L1115 184.6L1115.6 184.3L1116.2 184.2L1116.8 184.4L1117.4 185.9L1118 187.8L1118.6 188.3L1119.2 188.8L1119.8 188.7L1120.4 187.7L1121 188.6L1121.6 187.8L1122.2 188.9L1122.8 188.7L1123.4 188.8L1124 188.8L1124.6 188.8L1125.2 188.6L1125.8 188.7L1126.4 188.4L1127 188.5L1127.6 187.2L1128.2 188.6L1128.8 188.6L1129.4 188.3L1130 188.5L1130.6 188.5L1131.2 188.3L1131.8 187.9L1132.4 188.6L1133 188.5L1133.6 188.3L1134.2 188.4L1134.8 188L1135.4 188.3L1136 188.4L1136.6 188.5L1137.2 188.7L1137.8 188.7L1138.3 190.4Z" fill="#f0747e"/>
<rect x="1117.2" y="180.3" width="0.7" height="10.1" fill="#f0747e" opacity="0.6"/>
<path d="M1113.5 190.4L1113.5 189.3L1114.1 189.2L1114.7 189.2L1115.3 189.3L1115.9 187.9L1116.5 189.3L1117.1 189.4L1117.3 190.4Z" fill="#b81220"/>
<path d="M1142.3 190.4L1142.3 201.4L1142.9 201.5L1143.5 201.7L1144.1 202.5L1144.7 204.1L1145.3 202.1L1145.9 202.3L1146.5 202.1L1147.1 202.7L1147.7 202.4L1148.3 200.7L1148.9 199.5L1149.5 198.7L1150.1 197.6L1150.7 196.4L1151.3 196.6L1151.9 194.9L1152.5 194.9L1153.1 196.7L1153.7 195.3L1154.3 194.6L1154.9 194.3L1155.5 194.5L1156.1 195.3L1156.7 194.5L1157.3 194.7L1157.9 194L1158.5 194.1L1159.1 193.7L1159.7 193.5L1160.3 193.3L1160.9 192.9L1161.5 192.4L1162.1 192.1L1162.7 192L1163.3 192.2L1163.9 192.4L1164.5 191.9L1165.1 192.8L1165.7 192.2L1166.3 192.4L1166.9 192.5L1167.5 191.7L1168.1 192L1168.7 192.1L1169.3 191.4L1169.9 191.3L1170.5 191.9L1170.7 190.4Z" fill="#22b514"/>
<path d="M1146.2 190.4L1147.1 190.4L1147.1 203.2L1146.6 206.5L1146.2 203.2Z" fill="#7fee78"/>
<path d="M1157 190.4L1157.9 190.4L1157.9 203.2L1157.5 206.5L1157 203.2Z" fill="#7fee78"/>
<path d="M1142.3 190.4L1142.3 195.3L1142.9 195.2L1143.5 195.2L1144.1 197.2L1144.7 195.2L1145.3 195.2L1145.9 195.2L1146.5 195.3L1147.1 195.2L1147.7 196.1L1148.3 195.2L1148.9 195.2L1149.5 194.4L1150.1 191.9L1150.7 191.7L1151.3 191.7L1151.9 191.6L1152.5 192.9L1153.1 191.6L1153.7 191.6L1154.3 192.9L1154.9 191.5L1155.5 191.5L1156.1 191.5L1156.7 191.5L1157.3 191.6L1157.9 191.5L1158.5 193.3L1159.1 191.4L1159.7 191.4L1160.3 191.4L1160.9 192.5L1161.5 191.4L1162.1 191.3L1162.7 191.4L1163.3 191.4L1163.9 191.2L1164.5 191.2L1165.1 191.3L1165.7 191.2L1166.3 191.2L1166.9 191.2L1167.5 191.1L1168.1 191.1L1168.7 191L1169.3 191L1169.9 191.1L1170.5 191L1170.7 190.4Z" fill="#b6e6b0"/>
<path d="M1142.3 190.4L1142.3 188.1L1142.9 187.4L1143.5 187.3L1144.1 186.9L1144.7 186.5L1145.3 186L1145.9 186L1146.5 185.3L1147.1 185.2L1147.7 185L1148.3 184.7L1148.9 184.5L1149.5 184.2L1150.1 184.3L1150.7 183.7L1151.3 183.8L1151.9 183.9L1152.5 183.5L1153.1 183.1L1153.7 183.1L1154.3 183.5L1154.9 183L1155.5 182.9L1156.1 182.9L1156.7 182.7L1157.3 182.4L1157.9 181.9L1158.5 181.2L1159.1 181L1159.7 180.4L1160.3 179.5L1160.9 179.2L1161.5 179.2L1162.1 178.2L1162.7 178.3L1163.3 177.8L1163.9 177.6L1164.5 176.3L1165.1 177.1L1165.7 176.1L1166.3 176.3L1166.9 177.2L1167.5 177.6L1168.1 177.8L1168.7 178L1169.3 177.9L1169.9 178.2L1170.5 178.8L1170.7 190.4Z" fill="#f0747e"/>
<rect x="1148" y="179.4" width="0.7" height="11" fill="#f0747e" opacity="0.6"/>
<path d="M1174.9 190.4L1174.9 193.4L1175.5 194.4L1176.1 194.7L1176.7 195.9L1177.3 196.2L1177.9 196.9L1178.5 196.6L1179.1 197.1L1179.7 197.2L1180.3 199.4L1180.9 199.4L1181.5 197.7L1182.1 197.3L1182.7 197.7L1183.3 199L1183.9 197.8L1184.5 198.1L1185.1 198.6L1185.7 197.6L1186.3 199.2L1186.9 198.4L1187.5 198.6L1188.1 199.3L1188.7 198.8L1189.3 198.2L1189.9 198.6L1190.5 198.5L1191.1 198.6L1191.7 199.2L1192.3 198.8L1192.9 198.7L1193.5 198.9L1194.1 198.8L1194.7 199.7L1195.3 199.3L1195.9 198.8L1196.5 199L1197.1 199.4L1197.7 199.2L1198.3 200.2L1198.9 199.8L1199.5 200.1L1200.1 199.8L1200.7 200.3L1201.3 199.8L1201.6 190.4Z" fill="#22b514"/>
<path d="M1178.8 190.4L1179.7 190.4L1179.7 199.8L1179.3 202.1L1178.8 199.8Z" fill="#22b514"/>
<path d="M1174.9 190.4L1174.9 184.5L1175.5 184.5L1176.1 184.6L1176.7 184.8L1177.3 184.3L1177.9 184.5L1178.5 184.9L1179.1 185L1179.7 185.2L1180.3 183.9L1180.9 185.2L1181.5 185.1L1182.1 185L1182.7 185.4L1183.3 185.4L1183.9 185.3L1184.5 185.5L1185.1 185.2L1185.7 185.6L1186.3 185.1L1186.9 185.3L1187.5 185.5L1188.1 185.3L1188.7 185.4L1189.3 184.6L1189.9 185.1L1190.5 185.5L1191.1 185L1191.7 185.6L1192.3 184.1L1192.9 185.5L1193.5 185.6L1194.1 185.4L1194.7 185.5L1195.3 185.6L1195.9 185.1L1196.5 185L1197.1 185.6L1197.7 185.5L1198.3 185.7L1198.9 185.6L1199.5 185.7L1200.1 185.7L1200.7 185.8L1201.3 185.4L1201.6 190.4Z" fill="#f0747e"/>
<path d="M1205.8 190.4L1205.8 201.9L1206.4 200.8L1207 203L1207.6 201.5L1208.2 201.3L1208.8 201L1209.4 200.8L1210 200.5L1210.6 200.4L1211.2 198.6L1211.8 195.8L1212.4 192.8L1213 192.3L1213.6 192.8L1214.2 193L1214.8 192.8L1215.4 193.1L1216 193.8L1216.6 194.5L1217.2 194.6L1217.8 195L1218.4 196.2L1219 196.2L1219.6 196.1L1220.2 195.4L1220.8 194L1221.4 193.8L1222 192.7L1222.6 192L1223.2 192.3L1223.8 192.1L1224.4 192.1L1225 191.9L1225.1 190.4Z" fill="#22b514"/>
<path d="M1213.5 190.4L1214.4 190.4L1214.4 211.3L1214 216.5L1213.5 211.3Z" fill="#22b514"/>
<path d="M1208.6 190.4L1209.5 190.4L1209.5 195.5L1209.1 196.7L1208.6 195.5Z" fill="#7fee78"/>
<path d="M1205.8 190.4L1205.8 186L1206.4 186.2L1207 185.5L1207.6 185.6L1208.2 185.9L1208.8 185.7L1209.4 185.8L1210 185.5L1210.6 185.2L1211.2 185.5L1211.8 185.5L1212.4 185.4L1213 185.1L1213.6 185.1L1214.2 184.6L1214.8 185L1215.4 185.2L1216 184.5L1216.6 185.5L1217.2 185.4L1217.8 185.4L1218.4 185.4L1219 185.5L1219.6 184.2L1220.2 185L1220.8 185.4L1221.4 185.5L1222 185.4L1222.6 185.5L1223.2 185.3L1223.8 185.5L1224.4 185L1225 185.6L1225.1 190.4Z" fill="#f0747e"/>
<rect x="1213.6" y="182" width="0.7" height="8.4" fill="#f0747e" opacity="0.6"/>
<path d="M1229.4 190.4L1229.4 192.7L1230 192.6L1230.6 192.3L1231.2 192.5L1231.8 192.4L1232.4 192.2L1233 192.1L1233.6 192.3L1234.2 192.1L1234.8 192.4L1235.4 192L1236 192.5L1236.6 191.9L1237.2 192.3L1237.8 193.8L1238.4 193.1L1239 192.5L1239.6 192.3L1240.2 192.7L1240.8 192L1241.4 191.9L1242 192.3L1242.6 191.9L1243.2 192.4L1243.8 191.7L1244.4 192.7L1245 192.5L1245.6 191.9L1246.2 191.9L1246.8 191.8L1247.4 192.3L1248 192.5L1248.6 191.9L1249.2 191.8L1249.8 192.1L1250.1 190.4Z" fill="#22b514"/>
<path d="M1238.3 190.4L1239.2 190.4L1239.2 210.4L1238.7 215.3L1238.3 210.4Z" fill="#22b514"/>
<path d="M1247 190.4L1247.9 190.4L1247.9 194.1L1247.4 195L1247 194.1Z" fill="#22b514"/>
<rect x="1238.4" y="204.9" width="0.7" height="2.3" fill="#062e08"/>
<path d="M1229.4 190.4L1229.4 175.2L1230 174.7L1230.6 174.7L1231.2 174.5L1231.8 174.5L1232.4 174.5L1233 173.6L1233.6 174.1L1234.2 173.1L1234.8 173.4L1235.4 173.8L1236 173.5L1236.6 173.2L1237.2 172.7L1237.8 172.5L1238.4 172.3L1239 172.2L1239.6 171.9L1240.2 172.1L1240.8 171.8L1241.4 172.2L1242 172L1242.6 171.9L1243.2 172.2L1243.8 171.9L1244.4 172.2L1245 172.2L1245.6 171.8L1246.2 171L1246.8 171.9L1247.4 171.9L1248 172.1L1248.6 171.6L1249.2 171.9L1249.8 172L1250.1 190.4Z" fill="#f0747e"/>
<path d="M1256.2 190.4L1256.2 192.4L1256.8 192.5L1257.4 191.8L1258 191.7L1258.6 192.2L1259.2 191.9L1259.8 191.7L1260.4 191.8L1261 191.7L1261.6 191.8L1262.2 191.8L1262.8 191.7L1263.4 192.3L1264 191.5L1264.6 191.5L1265.2 191.4L1265.8 192.1L1266.4 191.7L1267 191.9L1267.6 192.5L1268.2 191.8L1268.8 192.4L1269.3 190.4Z" fill="#22b514"/>
<path d="M1256.5 190.4L1257.4 190.4L1257.4 228L1257 237.4L1256.5 228Z" fill="#22b514"/>
<path d="M1266.8 190.4L1267.7 190.4L1267.7 194.1L1267.2 195L1266.8 194.1Z" fill="#22b514"/>
<rect x="1255.8" y="190.4" width="1.4" height="14.5" fill="#7fee78"/>
<rect x="1257.2" y="221.2" width="0.7" height="3.5" fill="#062e08"/>
<path d="M1256.2 190.4L1256.2 181.5L1256.8 180L1257.4 179.8L1258 178.8L1258.6 169.9L1259.2 169.8L1259.8 170L1260.4 169.7L1261 169.8L1261.6 169.9L1262.2 169.4L1262.8 169.8L1263.4 170L1264 169.9L1264.6 168.7L1265.2 169.7L1265.8 169.4L1266.4 168L1267 167.5L1267.6 167.6L1268.2 168.1L1268.8 167.7L1269 190.4Z" fill="#f0747e"/>
<path d="M1257.9 190.4L1257.9 189.1L1258.5 189.1L1259.1 188.3L1259.7 189L1260.3 189L1260.9 188.1L1261.5 188.9L1262.1 188.8L1262.7 188.8L1263.3 188.6L1263.9 188.7L1264.5 188.7L1265.1 188.6L1265.7 188.4L1266.3 188.5L1266.9 188.4L1267.5 188.5L1268.1 188.4L1268.7 188.3L1269 190.4Z" fill="#b81220"/>
<path d="M1277.7 190.4L1277.7 197.4L1278.3 197.6L1278.9 197.1L1279.5 196.5L1280.1 196.1L1280.7 195.6L1281.3 195.2L1281.9 195L1282.5 194.9L1283.1 195.3L1283.7 195.5L1284.3 194.7L1284.9 195L1285.5 194L1286.1 194.8L1286.7 193.9L1287.3 193.6L1287.9 193.8L1288.5 193.4L1289.1 193.1L1289.7 193.4L1290 190.4Z" fill="#22b514"/>
<path d="M1277.8 190.4L1278.7 190.4L1278.7 220.1L1278.3 227.6L1277.8 220.1Z" fill="#7fee78"/>
<path d="M1279.8 190.4L1280.7 190.4L1280.7 198.3L1280.2 200.2L1279.8 198.3Z" fill="#22b514"/>
<path d="M1277.7 190.4L1277.7 180.3L1278.3 183L1278.9 185.5L1279.5 184.9L1280.1 185.5L1280.7 185.5L1281.3 184.7L1281.9 185.3L1282.5 185L1283.1 185L1283.7 185.1L1284.3 185L1284.9 184.6L1285.5 184.6L1286.1 184.8L1286.7 184.5L1287.3 185.1L1287.9 185.2L1288.5 184.9L1289.1 185.4L1289.7 185.6L1290 190.4Z" fill="#f0747e"/>
<rect x="1286" y="181" width="0.7" height="9.4" fill="#f0747e" opacity="0.6"/>
<path d="M1294.2 190.4L1294.2 208.4L1294.8 208.6L1295.4 208.5L1296 208.6L1296.6 208.6L1297.2 209L1297.8 208.7L1298.4 209.2L1299 209.5L1299.6 209.3L1300.2 208.3L1300.8 208.8L1301.4 208.3L1302 209L1302.6 208.9L1303.2 208.4L1303.8 208.8L1304.4 208.5L1305 209.8L1305.6 208.2L1306.2 207.9L1306.8 208.5L1307.4 207.9L1308 208.5L1308.6 208.3L1309.2 208.5L1309.8 208.1L1310.4 208.6L1311 208.3L1311.6 208.6L1312.2 208.5L1312.8 208.8L1313.4 208L1314 208.3L1314.6 208.3L1315.2 208L1315.8 208.5L1316.4 209.5L1317 208.4L1317.6 208.1L1318.2 208.6L1318.8 208.7L1319.4 208.6L1320 208.4L1320.6 208.2L1321.2 209.1L1321.8 208.2L1322.4 208.1L1323 209.4L1323.6 208.6L1324.2 208.7L1324.8 208.8L1325.4 208.4L1326 208.8L1326.6 208.3L1327.2 208.7L1327.8 208.6L1328.4 209.5L1329 208.3L1329.6 208.8L1330.2 208.2L1330.8 208.8L1331.4 208.1L1332 209.5L1332.6 208.1L1333.2 208.4L1333.8 208.1L1334.4 208.5L1335 208.4L1335.6 208L1336.2 207.9L1336.8 209.3L1337.4 208L1338 208L1338.6 208.8L1339.2 208.5L1339.8 208.4L1340.4 208.1L1341 208.1L1341.6 208.8L1342.2 208.7L1342.2 190.4Z" fill="#22b514"/>
<path d="M1301.1 190.4L1302 190.4L1302 207.1L1301.5 211.3L1301.1 207.1Z" fill="#22b514"/>
<path d="M1315.6 190.4L1316.5 190.4L1316.5 209.9L1316 214.8L1315.6 209.9Z" fill="#22b514"/>
<path d="M1327.2 190.4L1328.1 190.4L1328.1 206.2L1327.7 210.1L1327.2 206.2Z" fill="#22b514"/>
<path d="M1341.2 190.4L1342.1 190.4L1342.1 207.6L1341.6 211.9L1341.2 207.6Z" fill="#7fee78"/>
<path d="M1308.6 190.4L1309.5 190.4L1309.5 206.6L1309.1 210.7L1308.6 206.6Z" fill="#22b514"/>
<path d="M1294.2 190.4L1294.2 184.9L1294.8 185.2L1295.4 184.8L1296 185L1296.6 184.8L1297.2 185.2L1297.8 185.3L1298.4 185.3L1299 185.2L1299.6 185.4L1300.2 185.3L1300.8 185.1L1301.4 185.4L1302 185.4L1302.6 185.1L1303.2 185.5L1303.8 185L1304.4 185.3L1305 185.5L1305.6 184L1306.2 185L1306.8 184.1L1307.4 185.1L1308 185.5L1308.6 185.2L1309.2 185.2L1309.8 185.5L1310.4 185.5L1311 185L1311.6 185.3L1312.2 185.4L1312.8 185.3L1313.4 185.5L1314 185L1314.6 184.1L1315.2 185.2L1315.8 185.5L1316.4 185.6L1317 185.2L1317.6 185.5L1318.2 185.3L1318.8 184.3L1319.4 185.2L1320 184.9L1320.6 185.5L1321.2 185.5L1321.8 185.5L1322.4 185.2L1323 184.6L1323.6 185.7L1324.2 185.6L1324.8 185.3L1325.4 185.4L1326 185.4L1326.6 185.6L1327.2 185.8L1327.8 185.6L1328.4 185L1329 185.5L1329.6 185.8L1330.2 185.2L1330.8 185.6L1331.4 185.6L1332 185.2L1332.6 185.7L1333.2 185.8L1333.8 185.6L1334.4 185.2L1335 185.6L1335.6 185L1336.2 185.8L1336.8 185.8L1337.4 185.7L1338 185.7L1338.6 185.5L1339.2 185.9L1339.8 186L1340.4 185.6L1341 185.8L1341.6 185.7L1342.2 185.9L1342.2 190.4Z" fill="#f0747e"/>
</g>
<g shape-rendering="crispEdges">
<g fill="#22b514"><rect x="339.1" y="402.4" width="79.1" height="7"/><rect x="339.1" y="409.3" width="79.1" height="7"/><rect x="339.1" y="416.2" width="79.1" height="7"/><rect x="339.1" y="423.1" width="79.1" height="7"/><rect x="339.1" y="429.9" width="79.1" height="7"/><rect x="339.1" y="436.8" width="79.1" height="7"/><rect x="339.1" y="443.7" width="79.1" height="7"/><rect x="339.1" y="450.6" width="79.1" height="7"/><rect x="339.1" y="457.5" width="79.1" height="7"/><rect x="339.1" y="464.4" width="79.1" height="7"/><rect x="339.1" y="471.3" width="79.1" height="7"/><rect x="339.1" y="478.1" width="79.1" height="7"/><rect x="339.1" y="485" width="79.1" height="7"/><rect x="339.1" y="491.9" width="79.1" height="7"/><rect x="339.1" y="498.8" width="79.1" height="7"/><rect x="339.1" y="505.7" width="79.1" height="7"/><rect x="339.1" y="512.6" width="79.1" height="7"/><rect x="339.1" y="519.5" width="79.1" height="7"/><rect x="339.1" y="526.3" width="79.1" height="7"/><rect x="339.1" y="533.2" width="79.1" height="7"/><rect x="339.1" y="540.1" width="79.1" height="7"/><rect x="339.1" y="547" width="79.1" height="7"/><rect x="339.1" y="553.9" width="79.1" height="7"/><rect x="339.1" y="560.8" width="79.1" height="7"/><rect x="339.1" y="567.7" width="79.1" height="7"/><rect x="339.1" y="574.5" width="79.1" height="7"/><rect x="339.1" y="581.4" width="79.1" height="7"/><rect x="339.1" y="588.3" width="79.1" height="7"/><rect x="339.1" y="595.2" width="79.1" height="7"/><rect x="339.1" y="602.1" width="79.1" height="7"/><rect x="339.1" y="609" width="79.1" height="7"/><rect x="339.1" y="615.9" width="79.1" height="7"/><rect x="339.1" y="622.8" width="79.1" height="7"/><rect x="339.1" y="629.6" width="79.1" height="7"/><rect x="339.1" y="636.5" width="79.1" height="7"/><rect x="339.1" y="643.4" width="79.1" height="7"/><rect x="339.1" y="650.3" width="79.1" height="7"/><rect x="339.1" y="657.2" width="79.1" height="7"/><rect x="339.1" y="664.1" width="79.1" height="7"/><rect x="339.1" y="671" width="79.1" height="7"/><rect x="339.1" y="677.8" width="79.1" height="7"/><rect x="339.1" y="684.7" width="79.1" height="7"/><rect x="339.1" y="691.6" width="79.1" height="7"/><rect x="339.1" y="698.5" width="79.1" height="7"/><rect x="339.1" y="705.4" width="79.1" height="7"/><rect x="339.1" y="712.3" width="79.1" height="7"/><rect x="339.1" y="719.2" width="79.1" height="7"/><rect x="339.1" y="726" width="79.1" height="7"/><rect x="339.1" y="732.9" width="79.1" height="7"/><rect x="339.1" y="739.8" width="79.1" height="7"/><rect x="339.1" y="746.7" width="79.1" height="7"/><rect x="339.1" y="753.6" width="79.1" height="7"/><rect x="339.1" y="760.5" width="79.1" height="7"/><rect x="339.1" y="767.4" width="79.1" height="7"/><rect x="339.1" y="774.2" width="79.1" height="7"/><rect x="339.1" y="781.1" width="79.1" height="7"/><rect x="339.1" y="788" width="79.1" height="7"/><rect x="339.1" y="794.9" width="79.1" height="7"/><rect x="339.1" y="801.8" width="79.1" height="7"/><rect x="339.1" y="808.7" width="79.1" height="7"/><rect x="339.1" y="815.6" width="79.1" height="7"/><rect x="339.1" y="822.4" width="79.1" height="7"/><rect x="339.1" y="829.3" width="79.1" height="7"/><rect x="339.1" y="836.2" width="79.1" height="7"/><rect x="339.1" y="843.1" width="79.1" height="7"/><rect x="339.1" y="850" width="79.1" height="7"/><rect x="339.1" y="856.9" width="79.1" height="7"/><rect x="339.1" y="863.8" width="79.1" height="7"/><rect x="146.1" y="409.3" width="43.3" height="7"/><rect x="277.8" y="409.3" width="61.3" height="7"/><rect x="418.2" y="409.3" width="20.1" height="7"/><rect x="146.1" y="471.3" width="44.8" height="7"/><rect x="437.4" y="498.8" width="1.7" height="7"/><rect x="190.6" y="526.3" width="10.1" height="7"/><rect x="146.1" y="553.9" width="7.8" height="7"/><rect x="146.1" y="560.8" width="44.8" height="7"/><rect x="200.2" y="560.8" width="1.7" height="7"/><rect x="147" y="567.7" width="1.7" height="7"/><rect x="277.8" y="581.4" width="1.7" height="7"/><rect x="146.1" y="588.3" width="54.6" height="7"/><rect x="277.8" y="588.3" width="14" height="7"/><rect x="146.1" y="595.2" width="44.8" height="7"/><rect x="200.2" y="595.2" width="1.7" height="7"/><rect x="591.4" y="402.4" width="43.7" height="7"/><rect x="698.8" y="402.4" width="18.2" height="7"/><rect x="440" y="409.3" width="54.3" height="7"/><rect x="591.4" y="409.3" width="43.7" height="7"/><rect x="591.4" y="416.2" width="43.7" height="7"/><rect x="698.8" y="416.2" width="18.2" height="7"/><rect x="591.4" y="423.1" width="43.7" height="7"/><rect x="698.8" y="423.1" width="18.2" height="7"/><rect x="591.4" y="429.9" width="43.7" height="7"/><rect x="698.8" y="429.9" width="18.2" height="7"/><rect x="591.4" y="436.8" width="43.7" height="7"/><rect x="692.6" y="436.8" width="6.2" height="7"/><rect x="698.8" y="436.8" width="18.2" height="7"/><rect x="580.4" y="443.7" width="54.7" height="7"/><rect x="698.8" y="443.7" width="18.2" height="7"/><rect x="591.4" y="450.6" width="43.7" height="7"/><rect x="698.8" y="450.6" width="18.2" height="7"/><rect x="698.8" y="457.5" width="18.2" height="7"/><rect x="591.4" y="464.4" width="43.7" height="7"/><rect x="698.8" y="464.4" width="18.2" height="7"/><rect x="698.8" y="471.3" width="18.2" height="7"/><rect x="698.8" y="478.1" width="18.2" height="7"/><rect x="698.8" y="485" width="18.2" height="7"/><rect x="698.8" y="491.9" width="18.2" height="7"/><rect x="590.2" y="498.8" width="1.4" height="7"/><rect x="698.8" y="498.8" width="18.2" height="7"/><rect x="698.8" y="512.6" width="18.2" height="7"/><rect x="698.8" y="519.5" width="18.2" height="7"/><rect x="513.1" y="526.3" width="1" height="7"/><rect x="590.2" y="526.3" width="1.4" height="7"/><rect x="698.8" y="526.3" width="18.2" height="7"/><rect x="658.2" y="533.2" width="1.4" height="7"/><rect x="698.8" y="533.2" width="18.2" height="7"/><rect x="591.4" y="547" width="43.7" height="7"/><rect x="590.2" y="574.5" width="1.4" height="7"/><rect x="657.7" y="574.5" width="1.7" height="7"/><rect x="590.2" y="581.4" width="1.4" height="7"/><rect x="672" y="602.1" width="6.1" height="7"/><rect x="757" y="409.3" width="18.8" height="7"/><rect x="783.3" y="409.3" width="30.2" height="7"/><rect x="813.5" y="409.3" width="15.3" height="7"/><rect x="829.8" y="409.3" width="37.9" height="7"/><rect x="982.5" y="409.3" width="38.4" height="7"/><rect x="982.5" y="429.9" width="38.4" height="7"/><rect x="783.3" y="436.8" width="30.2" height="7"/><rect x="767.9" y="478.1" width="2.6" height="7"/><rect x="771.4" y="478.1" width="13.1" height="7"/><rect x="829.1" y="498.8" width="1" height="7"/><rect x="935.4" y="533.2" width="1.4" height="7"/><rect x="829.1" y="574.5" width="1" height="7"/><rect x="894.9" y="581.4" width="26.9" height="7"/><rect x="982.5" y="588.3" width="38.4" height="7"/><rect x="1293" y="402.4" width="53.6" height="7"/><rect x="1123.3" y="409.3" width="17.7" height="7"/><rect x="1141" y="409.3" width="16.3" height="7"/><rect x="1184" y="409.3" width="20.6" height="7"/><rect x="1293" y="409.3" width="53.6" height="7"/><rect x="1071.8" y="429.9" width="9.9" height="7"/><rect x="1123.3" y="429.9" width="17.7" height="7"/><rect x="1141" y="429.9" width="8.8" height="7"/><rect x="1141" y="443.7" width="8.4" height="7"/><rect x="1179.4" y="443.7" width="25.2" height="7"/><rect x="1227.9" y="443.7" width="11.9" height="7"/><rect x="1118.4" y="450.6" width="22.6" height="7"/><rect x="1141" y="450.6" width="7.9" height="7"/><rect x="1293" y="450.6" width="53.6" height="7"/><rect x="1123.3" y="457.5" width="17.7" height="7"/><rect x="1293" y="471.3" width="53.6" height="7"/><rect x="1118.4" y="478.1" width="22.6" height="7"/><rect x="1257.4" y="498.8" width="1" height="7"/><rect x="1118.4" y="512.6" width="22.6" height="7"/><rect x="1293" y="519.5" width="53.6" height="7"/><rect x="1179.4" y="574.5" width="1" height="7"/><rect x="1214.3" y="574.5" width="1" height="7"/><rect x="1293" y="574.5" width="53.6" height="7"/><rect x="1149.2" y="581.4" width="1" height="7"/><rect x="1257.4" y="581.4" width="1" height="7"/><rect x="1082.3" y="588.3" width="1.7" height="7"/><rect x="1087.5" y="588.3" width="1.7" height="7"/><rect x="1123.3" y="595.2" width="17.7" height="7"/><rect x="147" y="629.6" width="10.8" height="7"/><rect x="160.6" y="629.6" width="14.7" height="7"/><rect x="146.1" y="636.5" width="44.8" height="7"/><rect x="278.3" y="650.3" width="1.4" height="7"/><rect x="146.1" y="657.2" width="44.8" height="7"/><rect x="272" y="671" width="6.1" height="7"/><rect x="146.1" y="684.7" width="44.1" height="7"/><rect x="146.1" y="691.6" width="44.5" height="7"/><rect x="146.1" y="712.3" width="40.1" height="7"/><rect x="146.1" y="726" width="44.8" height="7"/><rect x="146.1" y="732.9" width="44.8" height="7"/><rect x="297" y="732.9" width="11" height="7"/><rect x="437.9" y="732.9" width="12.6" height="7"/><rect x="146.1" y="739.8" width="44.8" height="7"/><rect x="146.1" y="746.7" width="44.8" height="7"/><rect x="438.6" y="746.7" width="11.9" height="7"/><rect x="146.1" y="760.5" width="39.6" height="7"/><rect x="188" y="760.5" width="3" height="7"/><rect x="148.7" y="767.4" width="33.5" height="7"/><rect x="146.1" y="788" width="44.5" height="7"/><rect x="146.1" y="794.9" width="44.8" height="7"/><rect x="242.1" y="794.9" width="97" height="7"/><rect x="494.3" y="615.9" width="72.2" height="7"/><rect x="591.4" y="629.6" width="43.7" height="7"/><rect x="579.5" y="664.1" width="55.6" height="7"/><rect x="698.8" y="664.1" width="17.7" height="7"/><rect x="600.1" y="671" width="35" height="7"/><rect x="698.8" y="671" width="17.7" height="7"/><rect x="594.4" y="677.8" width="40.7" height="7"/><rect x="566.5" y="684.7" width="68.6" height="7"/><rect x="591.4" y="705.4" width="43.7" height="7"/><rect x="698.8" y="705.4" width="18.2" height="7"/><rect x="698.8" y="712.3" width="14.2" height="7"/><rect x="440" y="732.9" width="54.3" height="7"/><rect x="698.8" y="732.9" width="17.7" height="7"/><rect x="440" y="746.7" width="54.3" height="7"/><rect x="591.4" y="746.7" width="43.7" height="7"/><rect x="591.4" y="774.2" width="43.7" height="7"/><rect x="589.7" y="781.1" width="45.4" height="7"/><rect x="514.1" y="788" width="52.4" height="7"/><rect x="589.7" y="788" width="45.4" height="7"/><rect x="591.8" y="794.9" width="43.3" height="7"/><rect x="982.5" y="615.9" width="38.4" height="7"/><rect x="757" y="629.6" width="56.5" height="7"/><rect x="757" y="657.2" width="26.6" height="7"/><rect x="890.9" y="664.1" width="30.9" height="7"/><rect x="757" y="684.7" width="56.5" height="7"/><rect x="829.1" y="726" width="1" height="7"/><rect x="757" y="732.9" width="56.5" height="7"/><rect x="921.8" y="732.9" width="13.6" height="7"/><rect x="1028.7" y="732.9" width="21.8" height="7"/><rect x="757" y="739.8" width="7.4" height="7"/><rect x="757" y="746.7" width="56.5" height="7"/><rect x="813.5" y="746.7" width="54.2" height="7"/><rect x="982.5" y="746.7" width="38.4" height="7"/><rect x="1028.7" y="746.7" width="21.8" height="7"/><rect x="757" y="788" width="18.8" height="7"/><rect x="783.3" y="788" width="30.2" height="7"/><rect x="813.5" y="788" width="54.2" height="7"/><rect x="757" y="794.9" width="18.8" height="7"/><rect x="783.3" y="794.9" width="30.2" height="7"/><rect x="813.5" y="794.9" width="54.2" height="7"/><rect x="982.5" y="794.9" width="38.4" height="7"/><rect x="757" y="801.8" width="17.9" height="7"/><rect x="783.3" y="801.8" width="30.2" height="7"/><rect x="1293" y="609" width="53.6" height="7"/><rect x="1118.4" y="615.9" width="22.6" height="7"/><rect x="1141" y="615.9" width="7" height="7"/><rect x="1118.4" y="636.5" width="22.6" height="7"/><rect x="1293" y="636.5" width="53.6" height="7"/><rect x="1071.8" y="650.3" width="4" height="7"/><rect x="1123.3" y="650.3" width="17.7" height="7"/><rect x="1118" y="664.1" width="1.2" height="7"/><rect x="1123.3" y="664.1" width="17.7" height="7"/><rect x="1173.6" y="664.1" width="31" height="7"/><rect x="1180.5" y="677.8" width="24.1" height="7"/><rect x="1204.6" y="684.7" width="9.7" height="7"/><rect x="1071.8" y="691.6" width="33.3" height="7"/><rect x="1050" y="732.9" width="10.8" height="7"/><rect x="1071.8" y="732.9" width="33.3" height="7"/><rect x="1105.1" y="732.9" width="35.9" height="7"/><rect x="1278.9" y="732.9" width="14.1" height="7"/><rect x="1293" y="732.9" width="53.6" height="7"/><rect x="1123.3" y="739.8" width="17.7" height="7"/><rect x="1050" y="746.7" width="10.8" height="7"/><rect x="1105.1" y="746.7" width="35.9" height="7"/><rect x="1293" y="746.7" width="53.6" height="7"/><rect x="1118" y="753.6" width="23" height="7"/><rect x="1293" y="767.4" width="4.7" height="7"/><rect x="1315.1" y="781.1" width="2.6" height="7"/><rect x="1071.8" y="788" width="33.3" height="7"/><rect x="1173.6" y="801.8" width="31" height="7"/><rect x="1293" y="801.8" width="53.6" height="7"/><rect x="146.1" y="822.4" width="44.8" height="7"/><rect x="190.9" y="843.1" width="9.2" height="7"/><rect x="277.3" y="843.1" width="1" height="7"/><rect x="146.1" y="856.9" width="44.8" height="7"/><rect x="146.1" y="870.6" width="54.1" height="7"/><rect x="146.1" y="884.4" width="2.6" height="7"/><rect x="149.6" y="884.4" width="3.5" height="7"/><rect x="154" y="884.4" width="3.5" height="7"/><rect x="158.3" y="884.4" width="2.3" height="7"/><rect x="161.8" y="884.4" width="1.7" height="7"/><rect x="167" y="884.4" width="4" height="7"/><rect x="174.9" y="884.4" width="2.1" height="7"/><rect x="146.1" y="905.1" width="44.8" height="7"/><rect x="146.1" y="912" width="29.7" height="7"/><rect x="199.5" y="960.2" width="1.4" height="7"/><rect x="200" y="980.8" width="1.4" height="7"/><rect x="276.8" y="980.8" width="1.4" height="7"/><rect x="376.4" y="987.7" width="16.9" height="7"/><rect x="146.1" y="1001.5" width="0.9" height="7"/><rect x="375.3" y="1001.5" width="1" height="7"/><rect x="433.2" y="1001.5" width="1.4" height="7"/><rect x="513.1" y="815.6" width="1" height="7"/><rect x="590.4" y="815.6" width="1" height="7"/><rect x="591.4" y="829.3" width="43.7" height="7"/><rect x="513.1" y="856.9" width="1" height="7"/><rect x="658.4" y="856.9" width="1" height="7"/><rect x="604.8" y="870.6" width="30.3" height="7"/><rect x="698.8" y="870.6" width="18.5" height="7"/><rect x="441.4" y="877.5" width="3.8" height="7"/><rect x="446.6" y="877.5" width="4.2" height="7"/><rect x="452.2" y="877.5" width="3.5" height="7"/><rect x="457.1" y="877.5" width="3.8" height="7"/><rect x="462.3" y="877.5" width="3.8" height="7"/><rect x="467.6" y="877.5" width="1.2" height="7"/><rect x="472.3" y="877.5" width="2.6" height="7"/><rect x="478.4" y="877.5" width="3.5" height="7"/><rect x="484.5" y="877.5" width="9.8" height="7"/><rect x="597" y="877.5" width="38.1" height="7"/><rect x="698.8" y="877.5" width="18.5" height="7"/><rect x="594.4" y="884.4" width="40.7" height="7"/><rect x="513.1" y="891.3" width="1" height="7"/><rect x="598.4" y="891.3" width="6.5" height="7"/><rect x="658.4" y="891.3" width="1" height="7"/><rect x="602.2" y="898.2" width="32.9" height="7"/><rect x="447.8" y="905.1" width="46.5" height="7"/><rect x="450.1" y="912" width="44.2" height="7"/><rect x="622.3" y="912" width="12.8" height="7"/><rect x="635.1" y="912" width="0" height="7"/><rect x="648.4" y="912" width="9.6" height="7"/><rect x="590" y="925.7" width="4.4" height="7"/><rect x="595.2" y="925.7" width="1.7" height="7"/><rect x="604" y="925.7" width="3.5" height="7"/><rect x="610.9" y="925.7" width="4.4" height="7"/><rect x="591.4" y="953.3" width="43.7" height="7"/><rect x="664" y="960.2" width="1" height="7"/><rect x="635.1" y="967.1" width="21.2" height="7"/><rect x="513.1" y="1001.5" width="1" height="7"/><rect x="635.1" y="1001.5" width="0" height="7"/><rect x="658.4" y="1001.5" width="1" height="7"/><rect x="935.7" y="815.6" width="1" height="7"/><rect x="757" y="843.1" width="17.9" height="7"/><rect x="783.3" y="843.1" width="2.1" height="7"/><rect x="829.1" y="843.1" width="1" height="7"/><rect x="773.1" y="870.6" width="2.6" height="7"/><rect x="783.6" y="870.6" width="1.7" height="7"/><rect x="817.6" y="870.6" width="7" height="7"/><rect x="886.5" y="870.6" width="3.1" height="7"/><rect x="916.2" y="870.6" width="5.6" height="7"/><rect x="911.8" y="877.5" width="9.9" height="7"/><rect x="757" y="884.4" width="11.8" height="7"/><rect x="832.4" y="884.4" width="35.3" height="7"/><rect x="910.1" y="884.4" width="11.7" height="7"/><rect x="910.1" y="891.3" width="11.7" height="7"/><rect x="909.5" y="898.2" width="12.2" height="7"/><rect x="914.4" y="905.1" width="7.3" height="7"/><rect x="867.7" y="912" width="20.2" height="7"/><rect x="911.3" y="912" width="10.5" height="7"/><rect x="990.3" y="918.9" width="30.6" height="7"/><rect x="829" y="925.7" width="20.9" height="7"/><rect x="856" y="925.7" width="4.7" height="7"/><rect x="757" y="946.4" width="13.5" height="7"/><rect x="789.7" y="946.4" width="23.7" height="7"/><rect x="813.5" y="946.4" width="8.5" height="7"/><rect x="837.3" y="946.4" width="30.4" height="7"/><rect x="921.8" y="946.4" width="13.6" height="7"/><rect x="772.6" y="980.8" width="13.1" height="7"/><rect x="830.4" y="987.7" width="3.8" height="7"/><rect x="774.4" y="994.6" width="1" height="7"/><rect x="887.6" y="1001.5" width="1.4" height="7"/><rect x="1257.9" y="815.6" width="1" height="7"/><rect x="1071.8" y="843.1" width="1" height="7"/><rect x="1214.1" y="843.1" width="1.4" height="7"/><rect x="1257.2" y="843.1" width="1.4" height="7"/><rect x="1071.8" y="856.9" width="33.3" height="7"/><rect x="1123.3" y="856.9" width="17.7" height="7"/><rect x="1071.8" y="870.6" width="33.3" height="7"/><rect x="1123.3" y="870.6" width="17.7" height="7"/><rect x="1123.3" y="877.5" width="17.7" height="7"/><rect x="1196.2" y="877.5" width="8.4" height="7"/><rect x="1123.3" y="884.4" width="17.7" height="7"/><rect x="1124.7" y="905.1" width="16.3" height="7"/><rect x="1071.8" y="912" width="33.3" height="7"/><rect x="1123.3" y="912" width="17.7" height="7"/><rect x="1204.6" y="912" width="7.6" height="7"/><rect x="1072.7" y="946.4" width="13.1" height="7"/><rect x="1123.3" y="953.3" width="7" height="7"/><rect x="1141" y="953.3" width="0" height="7"/><rect x="1208.2" y="953.3" width="1" height="7"/><rect x="1210.8" y="953.3" width="1" height="7"/><rect x="1157.3" y="967.1" width="1.7" height="7"/><rect x="1071.8" y="980.8" width="1" height="7"/><rect x="1110.7" y="980.8" width="1.7" height="7"/><rect x="1157.3" y="994.6" width="4.7" height="7"/><rect x="1214.3" y="1001.5" width="1" height="7"/><rect x="1278.9" y="1015.3" width="4" height="7"/><rect x="375.3" y="1029" width="1" height="7"/><rect x="146.1" y="1056.6" width="15.7" height="7"/><rect x="321.4" y="1063.5" width="2.6" height="7"/><rect x="437.4" y="1063.5" width="2.6" height="7"/><rect x="146.1" y="1070.3" width="27.9" height="7"/><rect x="363.3" y="1070.3" width="4.4" height="7"/><rect x="190.6" y="1084.1" width="9.6" height="7"/><rect x="201.9" y="1084.1" width="3" height="7"/><rect x="321.4" y="1084.1" width="2.6" height="7"/><rect x="382.5" y="1084.1" width="31" height="7"/><rect x="190.6" y="1097.9" width="11.9" height="7"/><rect x="276.9" y="1097.9" width="2.6" height="7"/><rect x="375.3" y="1097.9" width="1" height="7"/><rect x="440" y="1049.7" width="4.9" height="7"/><rect x="513.1" y="1063.5" width="1" height="7"/><rect x="658.2" y="1063.5" width="1.4" height="7"/><rect x="663.8" y="1063.5" width="1.4" height="7"/><rect x="494.3" y="1070.3" width="17.6" height="7"/><rect x="572.7" y="1084.1" width="1.4" height="7"/><rect x="658.9" y="1084.1" width="6.1" height="7"/><rect x="657.3" y="1097.9" width="1.4" height="7"/><rect x="663.8" y="1097.9" width="1.4" height="7"/><rect x="772.6" y="1035.9" width="3.1" height="7"/><rect x="829.1" y="1035.9" width="1" height="7"/><rect x="889.1" y="1056.6" width="3.5" height="7"/><rect x="917" y="1056.6" width="4.7" height="7"/><rect x="921.8" y="1056.6" width="8.4" height="7"/><rect x="841.2" y="1063.5" width="2.6" height="7"/><rect x="886.5" y="1063.5" width="3.1" height="7"/><rect x="921.8" y="1063.5" width="3.5" height="7"/><rect x="933.6" y="1063.5" width="2.6" height="7"/><rect x="969.4" y="1063.5" width="1.7" height="7"/><rect x="921.8" y="1070.3" width="13.6" height="7"/><rect x="772.6" y="1084.1" width="13.1" height="7"/><rect x="839.4" y="1084.1" width="5.2" height="7"/><rect x="887.4" y="1084.1" width="2.3" height="7"/><rect x="934.5" y="1084.1" width="1.7" height="7"/><rect x="959.8" y="1084.1" width="2.6" height="7"/><rect x="965" y="1084.1" width="6.1" height="7"/><rect x="772.6" y="1097.9" width="13.1" height="7"/><rect x="1315.1" y="1056.6" width="31.5" height="7"/><rect x="1050" y="1063.5" width="0.9" height="7"/><rect x="1178.2" y="1063.5" width="2.6" height="7"/><rect x="1219.2" y="1063.5" width="2.6" height="7"/><rect x="1248.8" y="1063.5" width="4.3" height="7"/><rect x="1105.1" y="1084.1" width="5.1" height="7"/><rect x="1111.9" y="1084.1" width="1.7" height="7"/><rect x="1114.9" y="1084.1" width="4" height="7"/><rect x="1132" y="1084.1" width="3.5" height="7"/><rect x="1152" y="1084.1" width="1.7" height="7"/><rect x="1163.4" y="1084.1" width="2.6" height="7"/><rect x="1204.6" y="1084.1" width="10.8" height="7"/><rect x="1217.5" y="1084.1" width="2.6" height="7"/><rect x="1221.8" y="1084.1" width="2.6" height="7"/><rect x="1071.8" y="1097.9" width="1.4" height="7"/><rect x="1178.2" y="1097.9" width="2.6" height="7"/><rect x="1257.2" y="1097.9" width="1.4" height="7"/></g>
<g fill="#f0747e"><rect x="242.1" y="402.4" width="35.7" height="7"/><rect x="418.2" y="402.4" width="20.1" height="7"/><rect x="189.4" y="409.3" width="1.6" height="7"/><rect x="199.3" y="409.3" width="42.8" height="7"/><rect x="339.1" y="409.3" width="0" height="7"/><rect x="190.6" y="429.9" width="9.1" height="7"/><rect x="418.2" y="429.9" width="32.3" height="7"/><rect x="200.2" y="436.8" width="41.9" height="7"/><rect x="242.1" y="436.8" width="36.9" height="7"/><rect x="418.2" y="457.5" width="19.2" height="7"/><rect x="418.2" y="471.3" width="19.2" height="7"/><rect x="199.3" y="478.1" width="42.8" height="7"/><rect x="146.1" y="540.1" width="20.1" height="7"/><rect x="180.5" y="540.1" width="10.5" height="7"/><rect x="199.3" y="540.1" width="42.8" height="7"/><rect x="242.1" y="540.1" width="97" height="7"/><rect x="418.2" y="540.1" width="32.3" height="7"/><rect x="189.4" y="547" width="1.6" height="7"/><rect x="199.3" y="547" width="42.8" height="7"/><rect x="418.2" y="567.7" width="19.2" height="7"/><rect x="494.3" y="402.4" width="18.6" height="7"/><rect x="635.1" y="402.4" width="63.7" height="7"/><rect x="512.9" y="409.3" width="1.4" height="7"/><rect x="566.5" y="416.2" width="23.2" height="7"/><rect x="566.5" y="423.1" width="23.2" height="7"/><rect x="717.3" y="423.1" width="22.7" height="7"/><rect x="440" y="429.9" width="54.3" height="7"/><rect x="660.1" y="429.9" width="1.7" height="7"/><rect x="566.5" y="436.8" width="23.2" height="7"/><rect x="717.3" y="436.8" width="22.7" height="7"/><rect x="494.3" y="443.7" width="18.6" height="7"/><rect x="566.5" y="443.7" width="13.9" height="7"/><rect x="717.3" y="450.6" width="21.3" height="7"/><rect x="717.3" y="464.4" width="22.7" height="7"/><rect x="717.3" y="471.3" width="22.7" height="7"/><rect x="560.4" y="478.1" width="6.1" height="7"/><rect x="717.3" y="485" width="22.7" height="7"/><rect x="717.3" y="491.9" width="22.7" height="7"/><rect x="494.3" y="498.8" width="18.6" height="7"/><rect x="514.1" y="498.8" width="52.4" height="7"/><rect x="717.3" y="498.8" width="22.7" height="7"/><rect x="717.3" y="505.7" width="22.7" height="7"/><rect x="561.2" y="519.5" width="5.3" height="7"/><rect x="717.3" y="519.5" width="22.7" height="7"/><rect x="717.3" y="526.3" width="22.7" height="7"/><rect x="717.3" y="533.2" width="19.2" height="7"/><rect x="440" y="540.1" width="54.3" height="7"/><rect x="494.3" y="540.1" width="72.2" height="7"/><rect x="566.5" y="540.1" width="68.6" height="7"/><rect x="635.1" y="540.1" width="63.7" height="7"/><rect x="566.5" y="547" width="6.4" height="7"/><rect x="716.5" y="553.9" width="23.5" height="7"/><rect x="717.3" y="560.8" width="22.7" height="7"/><rect x="719.1" y="567.7" width="31.4" height="7"/><rect x="717.3" y="574.5" width="22.7" height="7"/><rect x="717.3" y="581.4" width="22.7" height="7"/><rect x="658.2" y="588.3" width="1.4" height="7"/><rect x="717.3" y="595.2" width="22.7" height="7"/><rect x="717.3" y="602.1" width="22.7" height="7"/><rect x="740" y="423.1" width="17" height="7"/><rect x="829.3" y="429.9" width="1" height="7"/><rect x="740" y="436.8" width="17" height="7"/><rect x="773.1" y="436.8" width="9.6" height="7"/><rect x="867.7" y="457.5" width="54" height="7"/><rect x="740" y="464.4" width="17" height="7"/><rect x="740" y="471.3" width="17" height="7"/><rect x="740" y="485" width="17" height="7"/><rect x="740" y="491.9" width="17" height="7"/><rect x="740" y="498.8" width="17" height="7"/><rect x="740" y="505.7" width="17" height="7"/><rect x="757" y="512.6" width="16.1" height="7"/><rect x="774.9" y="512.6" width="10.8" height="7"/><rect x="740" y="519.5" width="17" height="7"/><rect x="867.7" y="519.5" width="20.2" height="7"/><rect x="740" y="526.3" width="17" height="7"/><rect x="757" y="540.1" width="18.8" height="7"/><rect x="783.3" y="540.1" width="30.2" height="7"/><rect x="813.5" y="540.1" width="54.2" height="7"/><rect x="867.7" y="540.1" width="54" height="7"/><rect x="921.8" y="540.1" width="53.1" height="7"/><rect x="982.5" y="540.1" width="38.4" height="7"/><rect x="1028.7" y="540.1" width="21.8" height="7"/><rect x="740" y="553.9" width="17" height="7"/><rect x="740" y="560.8" width="17" height="7"/><rect x="740" y="567.7" width="17" height="7"/><rect x="740" y="574.5" width="17" height="7"/><rect x="740" y="581.4" width="17" height="7"/><rect x="951.4" y="588.3" width="1" height="7"/><rect x="740" y="595.2" width="17" height="7"/><rect x="740" y="602.1" width="17" height="7"/><rect x="1259.3" y="402.4" width="13.5" height="7"/><rect x="1173.6" y="409.3" width="10.4" height="7"/><rect x="1227.9" y="409.3" width="25.2" height="7"/><rect x="1257.6" y="409.3" width="1.2" height="7"/><rect x="1214.3" y="429.9" width="1" height="7"/><rect x="1227.9" y="436.8" width="25.2" height="7"/><rect x="1149.8" y="443.7" width="23.8" height="7"/><rect x="1259.3" y="443.7" width="13.5" height="7"/><rect x="1257.6" y="478.1" width="15.2" height="7"/><rect x="1072.7" y="519.5" width="32.4" height="7"/><rect x="1050" y="540.1" width="10.8" height="7"/><rect x="1071.8" y="540.1" width="33.3" height="7"/><rect x="1105.1" y="540.1" width="9.4" height="7"/><rect x="1149.8" y="540.1" width="23.8" height="7"/><rect x="1173.6" y="540.1" width="31" height="7"/><rect x="1204.6" y="540.1" width="23.3" height="7"/><rect x="1227.9" y="540.1" width="25.2" height="7"/><rect x="1278.9" y="540.1" width="14.1" height="7"/><rect x="1293" y="540.1" width="53.6" height="7"/><rect x="1241" y="553.9" width="12.2" height="7"/><rect x="1257.6" y="560.8" width="15.2" height="7"/><rect x="1117.2" y="588.3" width="1" height="7"/><rect x="189.4" y="629.6" width="1.2" height="7"/><rect x="207.7" y="643.4" width="34.4" height="7"/><rect x="421.7" y="650.3" width="16.6" height="7"/><rect x="202.3" y="677.8" width="39.8" height="7"/><rect x="199.3" y="691.6" width="42.8" height="7"/><rect x="146.1" y="698.5" width="44.8" height="7"/><rect x="199.3" y="698.5" width="42.8" height="7"/><rect x="242.1" y="698.5" width="97" height="7"/><rect x="418.2" y="698.5" width="32.3" height="7"/><rect x="242.1" y="705.4" width="17.9" height="7"/><rect x="199.3" y="732.9" width="42.8" height="7"/><rect x="209.8" y="739.8" width="32.3" height="7"/><rect x="199.3" y="746.7" width="42.8" height="7"/><rect x="370.6" y="746.7" width="1" height="7"/><rect x="374.1" y="746.7" width="1.4" height="7"/><rect x="418.2" y="746.7" width="19.7" height="7"/><rect x="717.3" y="609" width="22.7" height="7"/><rect x="717.3" y="615.9" width="22.7" height="7"/><rect x="717.3" y="622.8" width="22.7" height="7"/><rect x="566.5" y="629.6" width="23.2" height="7"/><rect x="698.8" y="629.6" width="41.2" height="7"/><rect x="698.8" y="636.5" width="41.2" height="7"/><rect x="698.8" y="643.4" width="41.2" height="7"/><rect x="566.5" y="650.3" width="23.5" height="7"/><rect x="698.8" y="650.3" width="41.2" height="7"/><rect x="698.8" y="657.2" width="41.2" height="7"/><rect x="717.3" y="664.1" width="22.7" height="7"/><rect x="717.3" y="671" width="22.7" height="7"/><rect x="698.8" y="684.7" width="41.2" height="7"/><rect x="698.8" y="691.6" width="18.2" height="7"/><rect x="440" y="698.5" width="54.3" height="7"/><rect x="494.3" y="698.5" width="72.2" height="7"/><rect x="566.5" y="698.5" width="68.6" height="7"/><rect x="635.1" y="698.5" width="63.7" height="7"/><rect x="566.5" y="705.4" width="23.2" height="7"/><rect x="717.3" y="705.4" width="22.7" height="7"/><rect x="713" y="712.3" width="3.5" height="7"/><rect x="725.2" y="712.3" width="25.3" height="7"/><rect x="717.3" y="719.2" width="22.7" height="7"/><rect x="717.3" y="726" width="22.7" height="7"/><rect x="717.3" y="732.9" width="22.7" height="7"/><rect x="494.3" y="739.8" width="72.2" height="7"/><rect x="566.5" y="739.8" width="22.6" height="7"/><rect x="566.5" y="746.7" width="23.2" height="7"/><rect x="716.5" y="746.7" width="23.5" height="7"/><rect x="717.3" y="753.6" width="22.7" height="7"/><rect x="717.3" y="760.5" width="22.7" height="7"/><rect x="566.5" y="767.4" width="20.4" height="7"/><rect x="727.8" y="767.4" width="22.7" height="7"/><rect x="494.3" y="774.2" width="72.2" height="7"/><rect x="566.5" y="774.2" width="23.2" height="7"/><rect x="698.8" y="774.2" width="41.2" height="7"/><rect x="566.5" y="781.1" width="23.2" height="7"/><rect x="740" y="609" width="17" height="7"/><rect x="740" y="615.9" width="17" height="7"/><rect x="740" y="622.8" width="17" height="7"/><rect x="740" y="629.6" width="17" height="7"/><rect x="740" y="636.5" width="17" height="7"/><rect x="740" y="643.4" width="17" height="7"/><rect x="740" y="650.3" width="17" height="7"/><rect x="740" y="657.2" width="17" height="7"/><rect x="921.8" y="657.2" width="15.4" height="7"/><rect x="740" y="664.1" width="17" height="7"/><rect x="740" y="671" width="17" height="7"/><rect x="740" y="684.7" width="17" height="7"/><rect x="757" y="698.5" width="18.8" height="7"/><rect x="783.3" y="698.5" width="30.2" height="7"/><rect x="813.5" y="698.5" width="54.2" height="7"/><rect x="867.7" y="698.5" width="54" height="7"/><rect x="921.8" y="698.5" width="53.1" height="7"/><rect x="982.5" y="698.5" width="38.4" height="7"/><rect x="1028.7" y="698.5" width="21.8" height="7"/><rect x="740" y="705.4" width="17" height="7"/><rect x="740" y="712.3" width="17" height="7"/><rect x="740" y="719.2" width="17" height="7"/><rect x="740" y="726" width="17" height="7"/><rect x="740" y="732.9" width="17" height="7"/><rect x="936.8" y="732.9" width="38.1" height="7"/><rect x="887.9" y="739.8" width="21.6" height="7"/><rect x="921.8" y="739.8" width="13.6" height="7"/><rect x="740" y="746.7" width="17" height="7"/><rect x="740" y="753.6" width="17" height="7"/><rect x="740" y="760.5" width="17" height="7"/><rect x="740" y="767.4" width="17" height="7"/><rect x="1037.4" y="767.4" width="13.1" height="7"/><rect x="740" y="774.2" width="17" height="7"/><rect x="1227.9" y="629.6" width="25.2" height="7"/><rect x="1259.3" y="636.5" width="13.5" height="7"/><rect x="1227.9" y="664.1" width="25.2" height="7"/><rect x="1050" y="698.5" width="10.8" height="7"/><rect x="1071.8" y="698.5" width="33.3" height="7"/><rect x="1105.1" y="698.5" width="31.2" height="7"/><rect x="1141" y="698.5" width="32.6" height="7"/><rect x="1173.6" y="698.5" width="31" height="7"/><rect x="1204.6" y="698.5" width="23.3" height="7"/><rect x="1227.9" y="698.5" width="25.2" height="7"/><rect x="1257.6" y="698.5" width="2.3" height="7"/><rect x="1278.9" y="698.5" width="14.1" height="7"/><rect x="1293" y="698.5" width="53.6" height="7"/><rect x="1151.2" y="705.4" width="22.4" height="7"/><rect x="1259.3" y="705.4" width="13.5" height="7"/><rect x="1148" y="712.3" width="1.7" height="7"/><rect x="1159.9" y="712.3" width="13.7" height="7"/><rect x="1227.9" y="712.3" width="25.2" height="7"/><rect x="1259.3" y="746.7" width="13.5" height="7"/><rect x="1278.9" y="746.7" width="14.1" height="7"/><rect x="1105.1" y="753.6" width="12.9" height="7"/><rect x="1050" y="767.4" width="10.8" height="7"/><rect x="209.8" y="870.6" width="32.3" height="7"/><rect x="199.3" y="877.5" width="42.8" height="7"/><rect x="199.3" y="884.4" width="2.6" height="7"/><rect x="205.4" y="884.4" width="23.5" height="7"/><rect x="199.3" y="891.3" width="1.7" height="7"/><rect x="224.2" y="891.3" width="17.9" height="7"/><rect x="199.3" y="898.2" width="1.7" height="7"/><rect x="220.2" y="898.2" width="21.9" height="7"/><rect x="199.3" y="905.1" width="42.8" height="7"/><rect x="200.2" y="912" width="24.4" height="7"/><rect x="418.2" y="932.6" width="32.3" height="7"/><rect x="418.2" y="939.5" width="32.3" height="7"/><rect x="566.5" y="829.3" width="23.2" height="7"/><rect x="566.5" y="863.8" width="68.6" height="7"/><rect x="566.5" y="870.6" width="21.8" height="7"/><rect x="717.3" y="870.6" width="22.7" height="7"/><rect x="494.3" y="877.5" width="10.6" height="7"/><rect x="566.5" y="877.5" width="27" height="7"/><rect x="676.4" y="877.5" width="22.4" height="7"/><rect x="718.2" y="877.5" width="21.8" height="7"/><rect x="561.2" y="884.4" width="5.3" height="7"/><rect x="566.5" y="884.4" width="20" height="7"/><rect x="719.1" y="884.4" width="31.4" height="7"/><rect x="670.6" y="891.3" width="3.1" height="7"/><rect x="675.5" y="891.3" width="23.3" height="7"/><rect x="721.7" y="891.3" width="28.8" height="7"/><rect x="566.5" y="898.2" width="20.9" height="7"/><rect x="698.8" y="898.2" width="4.2" height="7"/><rect x="726.1" y="898.2" width="24.4" height="7"/><rect x="566.5" y="905.1" width="22.1" height="7"/><rect x="728.7" y="905.1" width="21.8" height="7"/><rect x="566.5" y="912" width="18.3" height="7"/><rect x="616.2" y="912" width="6.1" height="7"/><rect x="715.9" y="912" width="12.7" height="7"/><rect x="566.5" y="918.9" width="21.8" height="7"/><rect x="726.9" y="918.9" width="23.5" height="7"/><rect x="566.5" y="925.7" width="20.9" height="7"/><rect x="597.9" y="925.7" width="5.2" height="7"/><rect x="698.8" y="925.7" width="41.2" height="7"/><rect x="440" y="932.6" width="54.3" height="7"/><rect x="494.3" y="932.6" width="18.6" height="7"/><rect x="514.1" y="932.6" width="52.4" height="7"/><rect x="566.5" y="932.6" width="68.6" height="7"/><rect x="635.1" y="932.6" width="63.7" height="7"/><rect x="698.8" y="932.6" width="41.2" height="7"/><rect x="440" y="939.5" width="54.3" height="7"/><rect x="566.5" y="939.5" width="68.6" height="7"/><rect x="635.1" y="939.5" width="63.7" height="7"/><rect x="698.8" y="939.5" width="41.2" height="7"/><rect x="566.5" y="953.3" width="9.2" height="7"/><rect x="635.1" y="953.3" width="18.6" height="7"/><rect x="566.5" y="967.1" width="12.5" height="7"/><rect x="566.5" y="973.9" width="23.5" height="7"/><rect x="566.5" y="1015.3" width="22.1" height="7"/><rect x="921.8" y="822.4" width="13.6" height="7"/><rect x="740" y="870.6" width="17" height="7"/><rect x="1003.4" y="870.6" width="17.5" height="7"/><rect x="740" y="877.5" width="17" height="7"/><rect x="740" y="884.4" width="17" height="7"/><rect x="887.9" y="884.4" width="22.2" height="7"/><rect x="921.8" y="884.4" width="14" height="7"/><rect x="740" y="891.3" width="17" height="7"/><rect x="783.3" y="891.3" width="2.4" height="7"/><rect x="740" y="898.2" width="17" height="7"/><rect x="740" y="905.1" width="17" height="7"/><rect x="993.3" y="905.1" width="27.6" height="7"/><rect x="740" y="918.9" width="17" height="7"/><rect x="740" y="925.7" width="17" height="7"/><rect x="813.5" y="925.7" width="15.5" height="7"/><rect x="849.9" y="925.7" width="6.1" height="7"/><rect x="740" y="932.6" width="17" height="7"/><rect x="867.7" y="932.6" width="20.6" height="7"/><rect x="889.1" y="932.6" width="32.6" height="7"/><rect x="921.8" y="932.6" width="53.1" height="7"/><rect x="982.5" y="932.6" width="38.4" height="7"/><rect x="740" y="939.5" width="17" height="7"/><rect x="757" y="939.5" width="56.5" height="7"/><rect x="813.5" y="939.5" width="54.2" height="7"/><rect x="867.7" y="939.5" width="54" height="7"/><rect x="921.8" y="939.5" width="53.1" height="7"/><rect x="757" y="953.3" width="12.3" height="7"/><rect x="773.1" y="953.3" width="11.9" height="7"/><rect x="757" y="987.7" width="18.8" height="7"/><rect x="783.3" y="987.7" width="30.2" height="7"/><rect x="1093.8" y="822.4" width="1.4" height="7"/><rect x="1163.4" y="836.2" width="10.2" height="7"/><rect x="1257.6" y="836.2" width="15.2" height="7"/><rect x="1278.9" y="863.8" width="14.1" height="7"/><rect x="1095.7" y="877.5" width="9.4" height="7"/><rect x="1162" y="877.5" width="11.6" height="7"/><rect x="1257.9" y="877.5" width="14.9" height="7"/><rect x="1115.9" y="884.4" width="3" height="7"/><rect x="1209.6" y="891.3" width="1" height="7"/><rect x="1257.6" y="891.3" width="1.7" height="7"/><rect x="1266.3" y="891.3" width="6.5" height="7"/><rect x="1214.1" y="898.2" width="1.4" height="7"/><rect x="1259.3" y="912" width="13.5" height="7"/><rect x="1239.8" y="918.9" width="13.4" height="7"/><rect x="1141" y="932.6" width="8.8" height="7"/><rect x="1151.2" y="932.6" width="22.4" height="7"/><rect x="1173.6" y="932.6" width="31" height="7"/><rect x="1204.6" y="932.6" width="23.3" height="7"/><rect x="1227.9" y="932.6" width="25.2" height="7"/><rect x="1259.3" y="932.6" width="13.5" height="7"/><rect x="1293" y="932.6" width="23" height="7"/><rect x="1317.7" y="932.6" width="28.9" height="7"/><rect x="1071.8" y="939.5" width="33.3" height="7"/><rect x="1141" y="939.5" width="32.6" height="7"/><rect x="1173.6" y="939.5" width="31" height="7"/><rect x="1204.6" y="939.5" width="23.3" height="7"/><rect x="1227.9" y="939.5" width="25.2" height="7"/><rect x="1257.6" y="939.5" width="15.2" height="7"/><rect x="1161.6" y="953.3" width="12" height="7"/><rect x="1145.6" y="994.6" width="3.8" height="7"/><rect x="1164.3" y="994.6" width="4" height="7"/><rect x="190.6" y="1049.7" width="9.1" height="7"/><rect x="566.5" y="1022.1" width="68.6" height="7"/><rect x="494.3" y="1035.9" width="9.7" height="7"/><rect x="523.4" y="1035.9" width="43.1" height="7"/><rect x="566.5" y="1035.9" width="20" height="7"/><rect x="593.1" y="1035.9" width="13.4" height="7"/><rect x="566.5" y="1049.7" width="18.3" height="7"/><rect x="566.5" y="1056.6" width="18.3" height="7"/><rect x="512.9" y="1077.2" width="1.7" height="7"/><rect x="566.5" y="1077.2" width="16.5" height="7"/><rect x="566.5" y="1104.8" width="68.6" height="7"/><rect x="745.2" y="1056.6" width="11.8" height="7"/><rect x="911.8" y="1056.6" width="5.2" height="7"/><rect x="742.6" y="1070.3" width="14.4" height="7"/><rect x="887.6" y="1077.2" width="1.4" height="7"/><rect x="757" y="1091" width="56.5" height="7"/><rect x="982.5" y="1091" width="38.4" height="7"/><rect x="867.7" y="1104.8" width="54" height="7"/><rect x="1268" y="1029" width="4.8" height="7"/><rect x="1111.4" y="1063.5" width="1.7" height="7"/><rect x="1227.9" y="1091" width="25.2" height="7"/><rect x="1227.9" y="1104.8" width="25.2" height="7"/></g>
<g fill="#b6e6b0"><rect x="146.1" y="436.8" width="42.4" height="7"/><rect x="339.1" y="436.8" width="75.7" height="7"/><rect x="146.1" y="464.4" width="44.8" height="7"/><rect x="242.1" y="464.4" width="97" height="7"/><rect x="657.7" y="457.5" width="1.7" height="7"/><rect x="698.8" y="505.7" width="18.2" height="7"/><rect x="590.2" y="519.5" width="1.4" height="7"/><rect x="657.9" y="519.5" width="1.4" height="7"/><rect x="591.4" y="553.9" width="43.7" height="7"/><rect x="663.8" y="553.9" width="1.4" height="7"/><rect x="694.3" y="574.5" width="4.5" height="7"/><rect x="1028.9" y="409.3" width="1.4" height="7"/><rect x="770.5" y="436.8" width="1.7" height="7"/><rect x="813.5" y="436.8" width="54.2" height="7"/><rect x="828.6" y="450.6" width="1.4" height="7"/><rect x="757" y="464.4" width="56.5" height="7"/><rect x="813.5" y="464.4" width="54.2" height="7"/><rect x="891.8" y="464.4" width="4.7" height="7"/><rect x="916.5" y="464.4" width="5.2" height="7"/><rect x="921.8" y="464.4" width="53.1" height="7"/><rect x="982.5" y="464.4" width="38.4" height="7"/><rect x="772.6" y="505.7" width="13.1" height="7"/><rect x="783.6" y="519.5" width="1.7" height="7"/><rect x="969.4" y="519.5" width="1" height="7"/><rect x="783.6" y="574.5" width="1.4" height="7"/><rect x="774.9" y="595.2" width="10.8" height="7"/><rect x="829.8" y="595.2" width="1.7" height="7"/><rect x="1071.8" y="436.8" width="33.3" height="7"/><rect x="1123.3" y="436.8" width="17.7" height="7"/><rect x="1123.3" y="464.4" width="17.7" height="7"/><rect x="1141" y="464.4" width="8.1" height="7"/><rect x="1204.6" y="464.4" width="7.6" height="7"/><rect x="1215.4" y="464.4" width="12.5" height="7"/><rect x="1257.4" y="505.7" width="1" height="7"/><rect x="1118.4" y="519.5" width="22.6" height="7"/><rect x="1071.8" y="595.2" width="33.3" height="7"/><rect x="199.3" y="657.2" width="3.1" height="7"/><rect x="146.1" y="664.1" width="44.8" height="7"/><rect x="276.9" y="677.8" width="2.6" height="7"/><rect x="186.2" y="712.3" width="14.5" height="7"/><rect x="146.1" y="719.2" width="11.3" height="7"/><rect x="277.8" y="726" width="1.7" height="7"/><rect x="199.3" y="739.8" width="2.6" height="7"/><rect x="331" y="739.8" width="8.1" height="7"/><rect x="339.1" y="739.8" width="79.1" height="7"/><rect x="418.2" y="739.8" width="20.1" height="7"/><rect x="190.6" y="788" width="9.6" height="7"/><rect x="199.3" y="794.9" width="2.1" height="7"/><rect x="190.6" y="808.7" width="9.6" height="7"/><rect x="276.9" y="808.7" width="2.6" height="7"/><rect x="560.2" y="671" width="1" height="7"/><rect x="590.4" y="677.8" width="3.1" height="7"/><rect x="658.2" y="677.8" width="1.4" height="7"/><rect x="593.8" y="712.3" width="41.3" height="7"/><rect x="596.1" y="719.2" width="2.6" height="7"/><rect x="619.7" y="719.2" width="15.4" height="7"/><rect x="698.8" y="719.2" width="18.2" height="7"/><rect x="512.7" y="726" width="1" height="7"/><rect x="663.8" y="726" width="1.4" height="7"/><rect x="698.8" y="726" width="18.2" height="7"/><rect x="440" y="739.8" width="43.3" height="7"/><rect x="593.5" y="739.8" width="41.6" height="7"/><rect x="635.1" y="788" width="63.7" height="7"/><rect x="783.6" y="657.2" width="2.1" height="7"/><rect x="830.4" y="664.1" width="37.3" height="7"/><rect x="772.6" y="677.8" width="13.1" height="7"/><rect x="829.1" y="677.8" width="1" height="7"/><rect x="772.6" y="712.3" width="13.1" height="7"/><rect x="829.3" y="712.3" width="13.3" height="7"/><rect x="772.6" y="719.2" width="3.1" height="7"/><rect x="783.3" y="719.2" width="2.4" height="7"/><rect x="849.9" y="739.8" width="17.8" height="7"/><rect x="982.5" y="739.8" width="8.2" height="7"/><rect x="1004.3" y="739.8" width="16.6" height="7"/><rect x="982.5" y="788" width="38.4" height="7"/><rect x="757" y="808.7" width="28.7" height="7"/><rect x="910.1" y="808.7" width="11.7" height="7"/><rect x="1105.1" y="664.1" width="12.9" height="7"/><rect x="1204.6" y="664.1" width="7.6" height="7"/><rect x="1123.3" y="677.8" width="17.7" height="7"/><rect x="1257.4" y="677.8" width="1" height="7"/><rect x="1149.8" y="712.3" width="10.1" height="7"/><rect x="1214.3" y="712.3" width="1" height="7"/><rect x="1110.4" y="719.2" width="1.4" height="7"/><rect x="1204.6" y="726" width="11.1" height="7"/><rect x="1071.8" y="739.8" width="33.3" height="7"/><rect x="1105.1" y="788" width="35.9" height="7"/><rect x="199.5" y="856.9" width="1.4" height="7"/><rect x="276.8" y="912" width="1.4" height="7"/><rect x="190.6" y="946.4" width="9.6" height="7"/><rect x="604.8" y="946.4" width="30.3" height="7"/><rect x="656.3" y="967.1" width="1.7" height="7"/><rect x="560.4" y="980.8" width="2.6" height="7"/><rect x="911.8" y="870.6" width="4.4" height="7"/><rect x="783.6" y="946.4" width="6.1" height="7"/><rect x="823.7" y="946.4" width="6.1" height="7"/><rect x="769.7" y="953.3" width="2.6" height="7"/><rect x="1239.3" y="815.6" width="1" height="7"/><rect x="1339.9" y="891.3" width="1" height="7"/><rect x="1086.6" y="946.4" width="18.5" height="7"/><rect x="1141" y="946.4" width="9.3" height="7"/><rect x="346" y="1056.6" width="1.4" height="7"/><rect x="154.8" y="1063.5" width="2.6" height="7"/><rect x="211.5" y="1084.1" width="2.6" height="7"/><rect x="651.1" y="1063.5" width="1.7" height="7"/><rect x="1156.4" y="1084.1" width="3.5" height="7"/></g>
<g fill="#7fee78"><rect x="190.6" y="402.4" width="11.3" height="7"/><rect x="339.1" y="402.4" width="79.1" height="7"/><rect x="339.1" y="423.1" width="79.1" height="7"/><rect x="166.2" y="540.1" width="14.3" height="7"/><rect x="339.1" y="540.1" width="79.1" height="7"/><rect x="146.1" y="547" width="43.3" height="7"/><rect x="698.8" y="409.3" width="18.2" height="7"/><rect x="698.8" y="540.1" width="18.2" height="7"/><rect x="757" y="402.4" width="13.5" height="7"/><rect x="934.5" y="402.4" width="3.5" height="7"/><rect x="757" y="436.8" width="10.9" height="7"/><rect x="757" y="457.5" width="18.8" height="7"/><rect x="783.3" y="457.5" width="30.2" height="7"/><rect x="1257.2" y="402.4" width="1.2" height="7"/><rect x="1123.3" y="540.1" width="17.7" height="7"/><rect x="1141" y="540.1" width="8.8" height="7"/><rect x="339.1" y="650.3" width="79.1" height="7"/><rect x="339.1" y="698.5" width="79.1" height="7"/><rect x="339.1" y="705.4" width="79.1" height="7"/><rect x="242.1" y="746.7" width="97" height="7"/><rect x="339.1" y="753.6" width="79.1" height="7"/><rect x="146.1" y="767.4" width="2.6" height="7"/><rect x="487.1" y="739.8" width="7.2" height="7"/><rect x="909.5" y="739.8" width="12.2" height="7"/><rect x="867.7" y="746.7" width="54" height="7"/><rect x="1136.3" y="698.5" width="4.7" height="7"/><rect x="229" y="884.4" width="13.1" height="7"/><rect x="242.1" y="898.2" width="23.1" height="7"/><rect x="190.6" y="1008.4" width="9.6" height="7"/><rect x="276.9" y="1008.4" width="2.6" height="7"/><rect x="635.1" y="870.6" width="21.2" height="7"/><rect x="635.1" y="912" width="13.3" height="7"/><rect x="575.7" y="953.3" width="15.2" height="7"/><rect x="773.1" y="891.3" width="2.6" height="7"/><rect x="772.6" y="912" width="13.1" height="7"/><rect x="785" y="953.3" width="28.4" height="7"/><rect x="772.6" y="960.2" width="13.1" height="7"/><rect x="772.6" y="1001.5" width="3.1" height="7"/><rect x="783.3" y="1001.5" width="2.4" height="7"/><rect x="774.9" y="1008.4" width="10.8" height="7"/><rect x="1261.9" y="884.4" width="10.9" height="7"/><rect x="1281.6" y="898.2" width="11.4" height="7"/><rect x="1257.2" y="912" width="1.7" height="7"/><rect x="1257.2" y="960.2" width="1.7" height="7"/><rect x="1118" y="980.8" width="5.6" height="7"/><rect x="1214.3" y="980.8" width="1" height="7"/><rect x="1257.2" y="980.8" width="2.1" height="7"/><rect x="1257.6" y="1008.4" width="1.4" height="7"/><rect x="199.3" y="1035.9" width="2.6" height="7"/><rect x="174" y="1070.3" width="16.9" height="7"/><rect x="199.3" y="1077.2" width="2.6" height="7"/><rect x="658.4" y="1035.9" width="1" height="7"/><rect x="783.3" y="1035.9" width="2.4" height="7"/><rect x="772.6" y="1077.2" width="13.1" height="7"/><rect x="1238.4" y="1035.9" width="1.7" height="7"/><rect x="1293" y="1056.6" width="22.1" height="7"/></g>
<g fill="#b81220"><rect x="188.5" y="436.8" width="2.4" height="7"/><rect x="717.3" y="402.4" width="22.7" height="7"/><rect x="717.3" y="409.3" width="22.7" height="7"/><rect x="717.3" y="416.2" width="22.7" height="7"/><rect x="717.3" y="429.9" width="22.7" height="7"/><rect x="717.3" y="443.7" width="22.7" height="7"/><rect x="717.3" y="457.5" width="22.7" height="7"/><rect x="717.3" y="478.1" width="22.7" height="7"/><rect x="717.3" y="512.6" width="22.7" height="7"/><rect x="736.5" y="533.2" width="14" height="7"/><rect x="717.3" y="540.1" width="22.7" height="7"/><rect x="717.3" y="547" width="22.7" height="7"/><rect x="717.3" y="588.3" width="22.7" height="7"/><rect x="740" y="402.4" width="17" height="7"/><rect x="740" y="409.3" width="17" height="7"/><rect x="740" y="416.2" width="17" height="7"/><rect x="740" y="429.9" width="17" height="7"/><rect x="740" y="443.7" width="17" height="7"/><rect x="740" y="450.6" width="17" height="7"/><rect x="740" y="457.5" width="17" height="7"/><rect x="740" y="478.1" width="17" height="7"/><rect x="740" y="512.6" width="17" height="7"/><rect x="740" y="533.2" width="17" height="7"/><rect x="740" y="540.1" width="17" height="7"/><rect x="740" y="547" width="17" height="7"/><rect x="740" y="588.3" width="17" height="7"/><rect x="1114.5" y="540.1" width="3.8" height="7"/><rect x="1257.6" y="540.1" width="15.2" height="7"/><rect x="418.2" y="650.3" width="3.5" height="7"/><rect x="717.3" y="677.8" width="22.7" height="7"/><rect x="717.3" y="691.6" width="22.7" height="7"/><rect x="698.8" y="698.5" width="41.2" height="7"/><rect x="717.3" y="739.8" width="22.7" height="7"/><rect x="740" y="677.8" width="17" height="7"/><rect x="740" y="691.6" width="17" height="7"/><rect x="740" y="698.5" width="17" height="7"/><rect x="740" y="739.8" width="17" height="7"/><rect x="1259.8" y="698.5" width="13" height="7"/><rect x="566.5" y="891.3" width="9.6" height="7"/><rect x="576.9" y="891.3" width="7.5" height="7"/><rect x="728.7" y="912" width="21.8" height="7"/><rect x="566.5" y="1008.4" width="14.8" height="7"/><rect x="740" y="912" width="17" height="7"/><rect x="586.5" y="1035.9" width="6.6" height="7"/></g>
<g fill="#062e08"><rect x="1257.2" y="526.3" width="1.4" height="7"/><rect x="1325.2" y="588.3" width="5.6" height="7"/><rect x="200.4" y="636.5" width="1.4" height="7"/><rect x="774.9" y="801.8" width="7.8" height="7"/><rect x="277.1" y="891.3" width="1.4" height="7"/><rect x="604.8" y="891.3" width="30.3" height="7"/><rect x="774.9" y="843.1" width="1.2" height="7"/><rect x="1316.2" y="1001.5" width="1.4" height="7"/><rect x="277.8" y="1084.1" width="1.7" height="7"/><rect x="829" y="1084.1" width="1.4" height="7"/><rect x="829" y="1097.9" width="1.4" height="7"/><rect x="1118.9" y="1084.1" width="4.7" height="7"/><rect x="1239.3" y="1084.1" width="2.6" height="7"/><rect x="1257.6" y="1084.1" width="1" height="7"/></g>
<g fill="#fff"><rect x="375.1" y="712.3" width="43.1" height="7"/><rect x="368.5" y="746.7" width="1.4" height="7"/></g>
</g>
<g fill="#22b514" opacity="0.42"><rect x="293.8" y="436.8" width="1.1" height="6.9"/><rect x="334.8" y="436.8" width="1.1" height="6.9"/><rect x="276.9" y="450.6" width="1.1" height="6.9"/><rect x="149" y="457.5" width="1.1" height="6.9"/><rect x="276.9" y="457.5" width="1.1" height="6.9"/><rect x="201.4" y="505.7" width="1.1" height="6.9"/><rect x="235.9" y="519.5" width="1.1" height="6.9"/><rect x="421.2" y="547" width="1.1" height="6.9"/><rect x="436" y="553.9" width="1.1" height="6.9"/><rect x="294.3" y="560.8" width="1.1" height="6.9"/><rect x="333.6" y="574.5" width="1.1" height="6.9"/><rect x="429.9" y="595.2" width="1.1" height="6.9"/><rect x="589.1" y="402.4" width="1.1" height="6.9"/><rect x="665.9" y="429.9" width="1.1" height="6.9"/><rect x="603.4" y="450.6" width="1.1" height="6.9"/><rect x="603.4" y="457.5" width="1.1" height="6.9"/><rect x="579" y="464.4" width="1.1" height="6.9"/><rect x="462.1" y="471.3" width="1.1" height="6.9"/><rect x="629.1" y="498.8" width="1.1" height="6.9"/><rect x="669.3" y="505.7" width="1.1" height="6.9"/><rect x="692" y="505.7" width="1.1" height="6.9"/><rect x="579" y="512.6" width="1.1" height="6.9"/><rect x="650.5" y="512.6" width="1.1" height="6.9"/><rect x="441.2" y="519.5" width="1.1" height="6.9"/><rect x="513.1" y="519.5" width="1.1" height="6.9"/><rect x="636.6" y="519.5" width="1.1" height="6.9"/><rect x="674.6" y="519.5" width="1.1" height="6.9"/><rect x="695.5" y="519.5" width="1.1" height="6.9"/><rect x="695.5" y="533.2" width="1.1" height="6.9"/><rect x="660.6" y="567.7" width="1.1" height="6.9"/><rect x="463" y="574.5" width="1.1" height="6.9"/><rect x="524.9" y="574.5" width="1.1" height="6.9"/><rect x="537.1" y="574.5" width="1.1" height="6.9"/><rect x="544.1" y="574.5" width="1.1" height="6.9"/><rect x="556.3" y="574.5" width="1.1" height="6.9"/><rect x="558.1" y="574.5" width="1.1" height="6.9"/><rect x="602" y="574.5" width="1.1" height="6.9"/><rect x="609" y="574.5" width="1.1" height="6.9"/><rect x="676.1" y="574.5" width="1.1" height="6.9"/><rect x="686.8" y="581.4" width="1.1" height="6.9"/><rect x="701.1" y="581.4" width="1.1" height="6.9"/><rect x="701.1" y="588.3" width="1.1" height="6.9"/><rect x="589.1" y="595.2" width="1.1" height="6.9"/><rect x="686.8" y="595.2" width="1.1" height="6.9"/><rect x="702" y="595.2" width="1.1" height="6.9"/><rect x="783.9" y="402.4" width="1.1" height="6.9"/><rect x="995.5" y="402.4" width="1.1" height="6.9"/><rect x="1028.1" y="402.4" width="1.1" height="6.9"/><rect x="923.8" y="409.3" width="1.1" height="6.9"/><rect x="782.7" y="443.7" width="1.1" height="6.9"/><rect x="819.7" y="491.9" width="1.1" height="6.9"/><rect x="888.9" y="498.8" width="1.1" height="6.9"/><rect x="829.1" y="505.7" width="1.1" height="6.9"/><rect x="902.9" y="505.7" width="1.1" height="6.9"/><rect x="1028.1" y="505.7" width="1.1" height="6.9"/><rect x="758.6" y="519.5" width="1.1" height="6.9"/><rect x="770" y="519.5" width="1.1" height="6.9"/><rect x="840.6" y="519.5" width="1.1" height="6.9"/><rect x="906" y="519.5" width="1.1" height="6.9"/><rect x="936" y="519.5" width="1.1" height="6.9"/><rect x="887.7" y="526.3" width="1.1" height="6.9"/><rect x="933.4" y="526.3" width="1.1" height="6.9"/><rect x="793.5" y="533.2" width="1.1" height="6.9"/><rect x="832.4" y="533.2" width="1.1" height="6.9"/><rect x="864.2" y="533.2" width="1.1" height="6.9"/><rect x="887.7" y="533.2" width="1.1" height="6.9"/><rect x="905.7" y="533.2" width="1.1" height="6.9"/><rect x="797" y="553.9" width="1.1" height="6.9"/><rect x="871.1" y="553.9" width="1.1" height="6.9"/><rect x="887.7" y="553.9" width="1.1" height="6.9"/><rect x="832.4" y="560.8" width="1.1" height="6.9"/><rect x="1028.1" y="560.8" width="1.1" height="6.9"/><rect x="761.3" y="567.7" width="1.1" height="6.9"/><rect x="832.4" y="567.7" width="1.1" height="6.9"/><rect x="763.9" y="574.5" width="1.1" height="6.9"/><rect x="770" y="574.5" width="1.1" height="6.9"/><rect x="793.5" y="574.5" width="1.1" height="6.9"/><rect x="864.2" y="574.5" width="1.1" height="6.9"/><rect x="875.2" y="574.5" width="1.1" height="6.9"/><rect x="968" y="574.5" width="1.1" height="6.9"/><rect x="981.9" y="574.5" width="1.1" height="6.9"/><rect x="995.3" y="574.5" width="1.1" height="6.9"/><rect x="1034.2" y="574.5" width="1.1" height="6.9"/><rect x="783.9" y="581.4" width="1.1" height="6.9"/><rect x="793.5" y="581.4" width="1.1" height="6.9"/><rect x="850.2" y="581.4" width="1.1" height="6.9"/><rect x="864.2" y="581.4" width="1.1" height="6.9"/><rect x="887.7" y="581.4" width="1.1" height="6.9"/><rect x="892.1" y="581.4" width="1.1" height="6.9"/><rect x="758.6" y="588.3" width="1.1" height="6.9"/><rect x="933.4" y="588.3" width="1.1" height="6.9"/><rect x="901.7" y="595.2" width="1.1" height="6.9"/><rect x="981.9" y="595.2" width="1.1" height="6.9"/><rect x="1028.1" y="595.2" width="1.1" height="6.9"/><rect x="831.9" y="602.1" width="1.1" height="6.9"/><rect x="1072.1" y="402.4" width="1.1" height="6.9"/><rect x="1074.7" y="402.4" width="1.1" height="6.9"/><rect x="1110.5" y="402.4" width="1.1" height="6.9"/><rect x="1113.1" y="402.4" width="1.1" height="6.9"/><rect x="1117.5" y="402.4" width="1.1" height="6.9"/><rect x="1148.9" y="402.4" width="1.1" height="6.9"/><rect x="1278.3" y="402.4" width="1.1" height="6.9"/><rect x="1076.5" y="409.3" width="1.1" height="6.9"/><rect x="1114" y="409.3" width="1.1" height="6.9"/><rect x="1117.5" y="409.3" width="1.1" height="6.9"/><rect x="1210.8" y="423.1" width="1.1" height="6.9"/><rect x="1118.3" y="429.9" width="1.1" height="6.9"/><rect x="1076.5" y="443.7" width="1.1" height="6.9"/><rect x="1257" y="443.7" width="1.1" height="6.9"/><rect x="1280.9" y="443.7" width="1.1" height="6.9"/><rect x="1239.2" y="450.6" width="1.1" height="6.9"/><rect x="1257.4" y="450.6" width="1.1" height="6.9"/><rect x="1278.3" y="450.6" width="1.1" height="6.9"/><rect x="1071.8" y="457.5" width="1.1" height="6.9"/><rect x="1087.8" y="457.5" width="1.1" height="6.9"/><rect x="1110.8" y="457.5" width="1.1" height="6.9"/><rect x="1115.7" y="457.5" width="1.1" height="6.9"/><rect x="1118.3" y="457.5" width="1.1" height="6.9"/><rect x="1238.7" y="457.5" width="1.1" height="6.9"/><rect x="1257.9" y="457.5" width="1.1" height="6.9"/><rect x="1278.8" y="457.5" width="1.1" height="6.9"/><rect x="1071.3" y="471.3" width="1.1" height="6.9"/><rect x="1280.6" y="471.3" width="1.1" height="6.9"/><rect x="1278.3" y="485" width="1.1" height="6.9"/><rect x="1107.5" y="498.8" width="1.1" height="6.9"/><rect x="1239.2" y="498.8" width="1.1" height="6.9"/><rect x="1278.3" y="498.8" width="1.1" height="6.9"/><rect x="1071.3" y="505.7" width="1.1" height="6.9"/><rect x="1110.5" y="505.7" width="1.1" height="6.9"/><rect x="1214.3" y="505.7" width="1.1" height="6.9"/><rect x="1078.2" y="512.6" width="1.1" height="6.9"/><rect x="1111.4" y="512.6" width="1.1" height="6.9"/><rect x="1197.7" y="512.6" width="1.1" height="6.9"/><rect x="1212.5" y="512.6" width="1.1" height="6.9"/><rect x="1278.3" y="512.6" width="1.1" height="6.9"/><rect x="1143.6" y="519.5" width="1.1" height="6.9"/><rect x="1214.3" y="519.5" width="1.1" height="6.9"/><rect x="1239.2" y="519.5" width="1.1" height="6.9"/><rect x="1278.3" y="526.3" width="1.1" height="6.9"/><rect x="1071.3" y="533.2" width="1.1" height="6.9"/><rect x="1076.5" y="547" width="1.1" height="6.9"/><rect x="1117.5" y="547" width="1.1" height="6.9"/><rect x="1110.8" y="553.9" width="1.1" height="6.9"/><rect x="1157.6" y="553.9" width="1.1" height="6.9"/><rect x="1110.5" y="567.7" width="1.1" height="6.9"/><rect x="1115.4" y="567.7" width="1.1" height="6.9"/><rect x="1153.8" y="567.7" width="1.1" height="6.9"/><rect x="1093.4" y="574.5" width="1.1" height="6.9"/><rect x="1110.5" y="574.5" width="1.1" height="6.9"/><rect x="1113.1" y="574.5" width="1.1" height="6.9"/><rect x="1122.7" y="574.5" width="1.1" height="6.9"/><rect x="1147.1" y="574.5" width="1.1" height="6.9"/><rect x="1150.6" y="574.5" width="1.1" height="6.9"/><rect x="1191.6" y="574.5" width="1.1" height="6.9"/><rect x="1242.2" y="574.5" width="1.1" height="6.9"/><rect x="1248.8" y="574.5" width="1.1" height="6.9"/><rect x="1278.8" y="574.5" width="1.1" height="6.9"/><rect x="1071.8" y="581.4" width="1.1" height="6.9"/><rect x="1114" y="581.4" width="1.1" height="6.9"/><rect x="1132.3" y="581.4" width="1.1" height="6.9"/><rect x="1134" y="581.4" width="1.1" height="6.9"/><rect x="1135.8" y="581.4" width="1.1" height="6.9"/><rect x="1193.4" y="581.4" width="1.1" height="6.9"/><rect x="1278.8" y="581.4" width="1.1" height="6.9"/><rect x="1109.1" y="588.3" width="1.1" height="6.9"/><rect x="1143.6" y="588.3" width="1.1" height="6.9"/><rect x="1214.3" y="588.3" width="1.1" height="6.9"/><rect x="1235.2" y="588.3" width="1.1" height="6.9"/><rect x="1110.5" y="595.2" width="1.1" height="6.9"/><rect x="1214.3" y="595.2" width="1.1" height="6.9"/><rect x="1319.8" y="595.2" width="1.1" height="6.9"/><rect x="190" y="609" width="1.1" height="6.9"/><rect x="308.6" y="609" width="1.1" height="6.9"/><rect x="283.7" y="636.5" width="1.1" height="6.9"/><rect x="190" y="643.4" width="1.1" height="6.9"/><rect x="201.4" y="664.1" width="1.1" height="6.9"/><rect x="190" y="671" width="1.1" height="6.9"/><rect x="149" y="677.8" width="1.1" height="6.9"/><rect x="153.4" y="677.8" width="1.1" height="6.9"/><rect x="436.9" y="677.8" width="1.1" height="6.9"/><rect x="294.2" y="705.4" width="1.1" height="6.9"/><rect x="265.9" y="712.3" width="1.1" height="6.9"/><rect x="436.9" y="712.3" width="1.1" height="6.9"/><rect x="200.5" y="719.2" width="1.1" height="6.9"/><rect x="231" y="719.2" width="1.1" height="6.9"/><rect x="276" y="719.2" width="1.1" height="6.9"/><rect x="294.2" y="719.2" width="1.1" height="6.9"/><rect x="316" y="719.2" width="1.1" height="6.9"/><rect x="200.5" y="726" width="1.1" height="6.9"/><rect x="330.4" y="732.9" width="1.1" height="6.9"/><rect x="156" y="760.5" width="1.1" height="6.9"/><rect x="165.6" y="760.5" width="1.1" height="6.9"/><rect x="176.1" y="760.5" width="1.1" height="6.9"/><rect x="286" y="760.5" width="1.1" height="6.9"/><rect x="200.8" y="788" width="1.1" height="6.9"/><rect x="277.2" y="788" width="1.1" height="6.9"/><rect x="437.4" y="788" width="1.1" height="6.9"/><rect x="208.3" y="808.7" width="1.1" height="6.9"/><rect x="293.8" y="808.7" width="1.1" height="6.9"/><rect x="437.7" y="808.7" width="1.1" height="6.9"/><rect x="665.9" y="664.1" width="1.1" height="6.9"/><rect x="543.8" y="677.8" width="1.1" height="6.9"/><rect x="647.4" y="691.6" width="1.1" height="6.9"/><rect x="657" y="691.6" width="1.1" height="6.9"/><rect x="440" y="705.4" width="1.1" height="6.9"/><rect x="560.2" y="712.3" width="1.1" height="6.9"/><rect x="589.1" y="712.3" width="1.1" height="6.9"/><rect x="655.2" y="712.3" width="1.1" height="6.9"/><rect x="663.9" y="712.3" width="1.1" height="6.9"/><rect x="511" y="719.2" width="1.1" height="6.9"/><rect x="589.1" y="719.2" width="1.1" height="6.9"/><rect x="657.1" y="719.2" width="1.1" height="6.9"/><rect x="669.3" y="719.2" width="1.1" height="6.9"/><rect x="589.1" y="726" width="1.1" height="6.9"/><rect x="636.6" y="726" width="1.1" height="6.9"/><rect x="658.4" y="726" width="1.1" height="6.9"/><rect x="638.3" y="739.8" width="1.1" height="6.9"/><rect x="650.5" y="739.8" width="1.1" height="6.9"/><rect x="511" y="746.7" width="1.1" height="6.9"/><rect x="640" y="746.7" width="1.1" height="6.9"/><rect x="675.8" y="746.7" width="1.1" height="6.9"/><rect x="691" y="746.7" width="1.1" height="6.9"/><rect x="695.5" y="746.7" width="1.1" height="6.9"/><rect x="706.3" y="746.7" width="1.1" height="6.9"/><rect x="560.7" y="781.1" width="1.1" height="6.9"/><rect x="579" y="788" width="1.1" height="6.9"/><rect x="702.5" y="788" width="1.1" height="6.9"/><rect x="674.9" y="794.9" width="1.1" height="6.9"/><rect x="701.1" y="794.9" width="1.1" height="6.9"/><rect x="521.8" y="808.7" width="1.1" height="6.9"/><rect x="579" y="808.7" width="1.1" height="6.9"/><rect x="589.1" y="808.7" width="1.1" height="6.9"/><rect x="663.9" y="808.7" width="1.1" height="6.9"/><rect x="832.4" y="609" width="1.1" height="6.9"/><rect x="810.1" y="643.4" width="1.1" height="6.9"/><rect x="772.6" y="650.3" width="1.1" height="6.9"/><rect x="887.7" y="657.2" width="1.1" height="6.9"/><rect x="875.2" y="664.1" width="1.1" height="6.9"/><rect x="793.5" y="677.8" width="1.1" height="6.9"/><rect x="832.4" y="677.8" width="1.1" height="6.9"/><rect x="840.6" y="677.8" width="1.1" height="6.9"/><rect x="864.2" y="677.8" width="1.1" height="6.9"/><rect x="887.7" y="677.8" width="1.1" height="6.9"/><rect x="902.9" y="677.8" width="1.1" height="6.9"/><rect x="1028.1" y="677.8" width="1.1" height="6.9"/><rect x="775.2" y="691.6" width="1.1" height="6.9"/><rect x="1029" y="705.4" width="1.1" height="6.9"/><rect x="880.4" y="712.3" width="1.1" height="6.9"/><rect x="831.9" y="719.2" width="1.1" height="6.9"/><rect x="845.3" y="719.2" width="1.1" height="6.9"/><rect x="871.1" y="719.2" width="1.1" height="6.9"/><rect x="1028.1" y="719.2" width="1.1" height="6.9"/><rect x="783.9" y="726" width="1.1" height="6.9"/><rect x="887.4" y="726" width="1.1" height="6.9"/><rect x="969.3" y="726" width="1.1" height="6.9"/><rect x="982.8" y="726" width="1.1" height="6.9"/><rect x="1034.2" y="726" width="1.1" height="6.9"/><rect x="950.5" y="739.8" width="1.1" height="6.9"/><rect x="952.3" y="739.8" width="1.1" height="6.9"/><rect x="969.3" y="746.7" width="1.1" height="6.9"/><rect x="828.8" y="788" width="1.1" height="6.9"/><rect x="875.2" y="788" width="1.1" height="6.9"/><rect x="888.2" y="788" width="1.1" height="6.9"/><rect x="829.1" y="808.7" width="1.1" height="6.9"/><rect x="1096.9" y="609" width="1.1" height="6.9"/><rect x="1148.5" y="609" width="1.1" height="6.9"/><rect x="1257.4" y="615.9" width="1.1" height="6.9"/><rect x="1258.8" y="615.9" width="1.1" height="6.9"/><rect x="1168.9" y="643.4" width="1.1" height="6.9"/><rect x="1279.7" y="657.2" width="1.1" height="6.9"/><rect x="1075.6" y="664.1" width="1.1" height="6.9"/><rect x="1257" y="664.1" width="1.1" height="6.9"/><rect x="1071.8" y="677.8" width="1.1" height="6.9"/><rect x="1076.5" y="677.8" width="1.1" height="6.9"/><rect x="1110.8" y="677.8" width="1.1" height="6.9"/><rect x="1220.4" y="677.8" width="1.1" height="6.9"/><rect x="1239.2" y="677.8" width="1.1" height="6.9"/><rect x="1278.3" y="677.8" width="1.1" height="6.9"/><rect x="1278.3" y="684.7" width="1.1" height="6.9"/><rect x="1072.1" y="712.3" width="1.1" height="6.9"/><rect x="1134.9" y="712.3" width="1.1" height="6.9"/><rect x="1195.1" y="712.3" width="1.1" height="6.9"/><rect x="1257.4" y="712.3" width="1.1" height="6.9"/><rect x="1278.3" y="712.3" width="1.1" height="6.9"/><rect x="1071.8" y="719.2" width="1.1" height="6.9"/><rect x="1078.2" y="719.2" width="1.1" height="6.9"/><rect x="1084" y="719.2" width="1.1" height="6.9"/><rect x="1132.8" y="719.2" width="1.1" height="6.9"/><rect x="1148.9" y="719.2" width="1.1" height="6.9"/><rect x="1154.1" y="719.2" width="1.1" height="6.9"/><rect x="1155.9" y="719.2" width="1.1" height="6.9"/><rect x="1157.6" y="719.2" width="1.1" height="6.9"/><rect x="1217.8" y="719.2" width="1.1" height="6.9"/><rect x="1239.2" y="719.2" width="1.1" height="6.9"/><rect x="1257.4" y="719.2" width="1.1" height="6.9"/><rect x="1057.8" y="726" width="1.1" height="6.9"/><rect x="1071.8" y="726" width="1.1" height="6.9"/><rect x="1100" y="726" width="1.1" height="6.9"/><rect x="1118.3" y="726" width="1.1" height="6.9"/><rect x="1122.7" y="726" width="1.1" height="6.9"/><rect x="1127.9" y="726" width="1.1" height="6.9"/><rect x="1189.9" y="726" width="1.1" height="6.9"/><rect x="1278.3" y="726" width="1.1" height="6.9"/><rect x="1258.8" y="732.9" width="1.1" height="6.9"/><rect x="1207.8" y="739.8" width="1.1" height="6.9"/><rect x="1145.4" y="746.7" width="1.1" height="6.9"/><rect x="1206.4" y="746.7" width="1.1" height="6.9"/><rect x="1071.8" y="760.5" width="1.1" height="6.9"/><rect x="1212" y="760.5" width="1.1" height="6.9"/><rect x="1281.8" y="760.5" width="1.1" height="6.9"/><rect x="1157.9" y="788" width="1.1" height="6.9"/><rect x="1206.4" y="788" width="1.1" height="6.9"/><rect x="1211.7" y="788" width="1.1" height="6.9"/><rect x="1214.3" y="788" width="1.1" height="6.9"/><rect x="1238.7" y="788" width="1.1" height="6.9"/><rect x="1257" y="788" width="1.1" height="6.9"/><rect x="1280.6" y="788" width="1.1" height="6.9"/><rect x="1157.1" y="794.9" width="1.1" height="6.9"/><rect x="1071.8" y="808.7" width="1.1" height="6.9"/><rect x="1076.5" y="808.7" width="1.1" height="6.9"/><rect x="1110.8" y="808.7" width="1.1" height="6.9"/><rect x="1122.7" y="808.7" width="1.1" height="6.9"/><rect x="1257" y="808.7" width="1.1" height="6.9"/><rect x="1278.8" y="808.7" width="1.1" height="6.9"/><rect x="1280.6" y="808.7" width="1.1" height="6.9"/><rect x="1328.5" y="808.7" width="1.1" height="6.9"/><rect x="277.2" y="815.6" width="1.1" height="6.9"/><rect x="322.1" y="815.6" width="1.1" height="6.9"/><rect x="277.2" y="822.4" width="1.1" height="6.9"/><rect x="205.7" y="836.2" width="1.1" height="6.9"/><rect x="253.7" y="870.6" width="1.1" height="6.9"/><rect x="263.3" y="870.6" width="1.1" height="6.9"/><rect x="295.6" y="870.6" width="1.1" height="6.9"/><rect x="322.6" y="870.6" width="1.1" height="6.9"/><rect x="364.8" y="870.6" width="1.1" height="6.9"/><rect x="374.9" y="870.6" width="1.1" height="6.9"/><rect x="383.7" y="870.6" width="1.1" height="6.9"/><rect x="392.7" y="870.6" width="1.1" height="6.9"/><rect x="406.3" y="870.6" width="1.1" height="6.9"/><rect x="331" y="891.3" width="1.1" height="6.9"/><rect x="329.6" y="898.2" width="1.1" height="6.9"/><rect x="190" y="912" width="1.1" height="6.9"/><rect x="276.9" y="918.9" width="1.1" height="6.9"/><rect x="150.8" y="925.7" width="1.1" height="6.9"/><rect x="205.7" y="925.7" width="1.1" height="6.9"/><rect x="334.5" y="925.7" width="1.1" height="6.9"/><rect x="436.9" y="925.7" width="1.1" height="6.9"/><rect x="190" y="932.6" width="1.1" height="6.9"/><rect x="277.2" y="932.6" width="1.1" height="6.9"/><rect x="436.9" y="953.3" width="1.1" height="6.9"/><rect x="149" y="960.2" width="1.1" height="6.9"/><rect x="154.8" y="960.2" width="1.1" height="6.9"/><rect x="276.4" y="960.2" width="1.1" height="6.9"/><rect x="286" y="960.2" width="1.1" height="6.9"/><rect x="190" y="967.1" width="1.1" height="6.9"/><rect x="277.2" y="967.1" width="1.1" height="6.9"/><rect x="436.9" y="967.1" width="1.1" height="6.9"/><rect x="168.8" y="980.8" width="1.1" height="6.9"/><rect x="190" y="980.8" width="1.1" height="6.9"/><rect x="294.2" y="980.8" width="1.1" height="6.9"/><rect x="408.9" y="1001.5" width="1.1" height="6.9"/><rect x="428.1" y="1001.5" width="1.1" height="6.9"/><rect x="436.9" y="1001.5" width="1.1" height="6.9"/><rect x="149" y="1008.4" width="1.1" height="6.9"/><rect x="286.3" y="1008.4" width="1.1" height="6.9"/><rect x="293.8" y="1008.4" width="1.1" height="6.9"/><rect x="408.1" y="1008.4" width="1.1" height="6.9"/><rect x="436.9" y="1008.4" width="1.1" height="6.9"/><rect x="521.8" y="815.6" width="1.1" height="6.9"/><rect x="578.1" y="815.6" width="1.1" height="6.9"/><rect x="663.9" y="815.6" width="1.1" height="6.9"/><rect x="546.7" y="822.4" width="1.1" height="6.9"/><rect x="578.5" y="822.4" width="1.1" height="6.9"/><rect x="663.9" y="822.4" width="1.1" height="6.9"/><rect x="695.5" y="843.1" width="1.1" height="6.9"/><rect x="559.8" y="856.9" width="1.1" height="6.9"/><rect x="582.8" y="856.9" width="1.1" height="6.9"/><rect x="509.2" y="870.6" width="1.1" height="6.9"/><rect x="544.1" y="870.6" width="1.1" height="6.9"/><rect x="701.1" y="912" width="1.1" height="6.9"/><rect x="658.4" y="946.4" width="1.1" height="6.9"/><rect x="589.1" y="960.2" width="1.1" height="6.9"/><rect x="591.2" y="960.2" width="1.1" height="6.9"/><rect x="589.1" y="980.8" width="1.1" height="6.9"/><rect x="625.7" y="980.8" width="1.1" height="6.9"/><rect x="650.2" y="980.8" width="1.1" height="6.9"/><rect x="544.1" y="1001.5" width="1.1" height="6.9"/><rect x="595.6" y="1001.5" width="1.1" height="6.9"/><rect x="676.1" y="1001.5" width="1.1" height="6.9"/><rect x="695.5" y="1001.5" width="1.1" height="6.9"/><rect x="736" y="1001.5" width="1.1" height="6.9"/><rect x="589.1" y="1008.4" width="1.1" height="6.9"/><rect x="664.8" y="1008.4" width="1.1" height="6.9"/><rect x="702.8" y="1008.4" width="1.1" height="6.9"/><rect x="468.8" y="1015.3" width="1.1" height="6.9"/><rect x="895" y="815.6" width="1.1" height="6.9"/><rect x="1028.1" y="815.6" width="1.1" height="6.9"/><rect x="829.8" y="822.4" width="1.1" height="6.9"/><rect x="852.5" y="822.4" width="1.1" height="6.9"/><rect x="892.1" y="822.4" width="1.1" height="6.9"/><rect x="936" y="822.4" width="1.1" height="6.9"/><rect x="965.9" y="822.4" width="1.1" height="6.9"/><rect x="819.2" y="843.1" width="1.1" height="6.9"/><rect x="846.4" y="843.1" width="1.1" height="6.9"/><rect x="815.3" y="856.9" width="1.1" height="6.9"/><rect x="1028.1" y="856.9" width="1.1" height="6.9"/><rect x="770.8" y="870.6" width="1.1" height="6.9"/><rect x="793.5" y="870.6" width="1.1" height="6.9"/><rect x="843.8" y="870.6" width="1.1" height="6.9"/><rect x="871.1" y="870.6" width="1.1" height="6.9"/><rect x="873.8" y="870.6" width="1.1" height="6.9"/><rect x="936.6" y="870.6" width="1.1" height="6.9"/><rect x="941.8" y="870.6" width="1.1" height="6.9"/><rect x="947" y="870.6" width="1.1" height="6.9"/><rect x="1029" y="870.6" width="1.1" height="6.9"/><rect x="1034.2" y="870.6" width="1.1" height="6.9"/><rect x="829.1" y="884.4" width="1.1" height="6.9"/><rect x="880.7" y="884.4" width="1.1" height="6.9"/><rect x="981.9" y="884.4" width="1.1" height="6.9"/><rect x="841.1" y="891.3" width="1.1" height="6.9"/><rect x="875.2" y="891.3" width="1.1" height="6.9"/><rect x="887.7" y="891.3" width="1.1" height="6.9"/><rect x="1028.1" y="891.3" width="1.1" height="6.9"/><rect x="832.4" y="912" width="1.1" height="6.9"/><rect x="772.1" y="925.7" width="1.1" height="6.9"/><rect x="784.5" y="925.7" width="1.1" height="6.9"/><rect x="906" y="925.7" width="1.1" height="6.9"/><rect x="958" y="925.7" width="1.1" height="6.9"/><rect x="1029.4" y="925.7" width="1.1" height="6.9"/><rect x="833.6" y="932.6" width="1.1" height="6.9"/><rect x="888.1" y="946.4" width="1.1" height="6.9"/><rect x="1028.1" y="946.4" width="1.1" height="6.9"/><rect x="807.5" y="960.2" width="1.1" height="6.9"/><rect x="824" y="960.2" width="1.1" height="6.9"/><rect x="831.9" y="960.2" width="1.1" height="6.9"/><rect x="832.4" y="980.8" width="1.1" height="6.9"/><rect x="981.9" y="980.8" width="1.1" height="6.9"/><rect x="822" y="987.7" width="1.1" height="6.9"/><rect x="783.9" y="994.6" width="1.1" height="6.9"/><rect x="850.2" y="1001.5" width="1.1" height="6.9"/><rect x="940.9" y="1001.5" width="1.1" height="6.9"/><rect x="982.8" y="1001.5" width="1.1" height="6.9"/><rect x="1034.6" y="1001.5" width="1.1" height="6.9"/><rect x="829.1" y="1008.4" width="1.1" height="6.9"/><rect x="947" y="1008.4" width="1.1" height="6.9"/><rect x="1028.1" y="1008.4" width="1.1" height="6.9"/><rect x="1110.5" y="815.6" width="1.1" height="6.9"/><rect x="1122.7" y="815.6" width="1.1" height="6.9"/><rect x="1214.8" y="815.6" width="1.1" height="6.9"/><rect x="1278.8" y="815.6" width="1.1" height="6.9"/><rect x="1280.6" y="815.6" width="1.1" height="6.9"/><rect x="1328.5" y="815.6" width="1.1" height="6.9"/><rect x="1080" y="822.4" width="1.1" height="6.9"/><rect x="1085.7" y="822.4" width="1.1" height="6.9"/><rect x="1100.9" y="822.4" width="1.1" height="6.9"/><rect x="1220.9" y="822.4" width="1.1" height="6.9"/><rect x="1230" y="822.4" width="1.1" height="6.9"/><rect x="1278.8" y="836.2" width="1.1" height="6.9"/><rect x="1117.5" y="843.1" width="1.1" height="6.9"/><rect x="1162.8" y="843.1" width="1.1" height="6.9"/><rect x="1329.8" y="850" width="1.1" height="6.9"/><rect x="1114" y="870.6" width="1.1" height="6.9"/><rect x="1117.5" y="870.6" width="1.1" height="6.9"/><rect x="1147.1" y="870.6" width="1.1" height="6.9"/><rect x="1148.9" y="870.6" width="1.1" height="6.9"/><rect x="1193.4" y="870.6" width="1.1" height="6.9"/><rect x="1207.3" y="870.6" width="1.1" height="6.9"/><rect x="1243.1" y="870.6" width="1.1" height="6.9"/><rect x="1246.6" y="870.6" width="1.1" height="6.9"/><rect x="1249.2" y="870.6" width="1.1" height="6.9"/><rect x="1278.8" y="870.6" width="1.1" height="6.9"/><rect x="1282.3" y="870.6" width="1.1" height="6.9"/><rect x="1302.4" y="870.6" width="1.1" height="6.9"/><rect x="1310.2" y="870.6" width="1.1" height="6.9"/><rect x="1157.9" y="884.4" width="1.1" height="6.9"/><rect x="1278.3" y="884.4" width="1.1" height="6.9"/><rect x="1122.7" y="891.3" width="1.1" height="6.9"/><rect x="1148.9" y="891.3" width="1.1" height="6.9"/><rect x="1220.4" y="891.3" width="1.1" height="6.9"/><rect x="1247.8" y="891.3" width="1.1" height="6.9"/><rect x="1280.6" y="891.3" width="1.1" height="6.9"/><rect x="1110.5" y="912" width="1.1" height="6.9"/><rect x="1113.1" y="912" width="1.1" height="6.9"/><rect x="1116.6" y="912" width="1.1" height="6.9"/><rect x="1157.9" y="912" width="1.1" height="6.9"/><rect x="1117.5" y="918.9" width="1.1" height="6.9"/><rect x="1076.5" y="925.7" width="1.1" height="6.9"/><rect x="1113.6" y="925.7" width="1.1" height="6.9"/><rect x="1189.9" y="925.7" width="1.1" height="6.9"/><rect x="1122.7" y="932.6" width="1.1" height="6.9"/><rect x="1278.8" y="932.6" width="1.1" height="6.9"/><rect x="1238.7" y="946.4" width="1.1" height="6.9"/><rect x="1257.4" y="946.4" width="1.1" height="6.9"/><rect x="1154.1" y="953.3" width="1.1" height="6.9"/><rect x="1280.6" y="953.3" width="1.1" height="6.9"/><rect x="1071.8" y="960.2" width="1.1" height="6.9"/><rect x="1154.1" y="960.2" width="1.1" height="6.9"/><rect x="1214.8" y="960.2" width="1.1" height="6.9"/><rect x="1260.9" y="960.2" width="1.1" height="6.9"/><rect x="1278.3" y="960.2" width="1.1" height="6.9"/><rect x="1122.7" y="967.1" width="1.1" height="6.9"/><rect x="1239.2" y="967.1" width="1.1" height="6.9"/><rect x="1076.5" y="980.8" width="1.1" height="6.9"/><rect x="1132.8" y="980.8" width="1.1" height="6.9"/><rect x="1148.9" y="980.8" width="1.1" height="6.9"/><rect x="1154.1" y="980.8" width="1.1" height="6.9"/><rect x="1278.3" y="980.8" width="1.1" height="6.9"/><rect x="1115.7" y="994.6" width="1.1" height="6.9"/><rect x="1278.3" y="1001.5" width="1.1" height="6.9"/><rect x="1320.7" y="1001.5" width="1.1" height="6.9"/><rect x="1071.8" y="1008.4" width="1.1" height="6.9"/><rect x="1101.8" y="1008.4" width="1.1" height="6.9"/><rect x="1117.5" y="1008.4" width="1.1" height="6.9"/><rect x="1126.5" y="1008.4" width="1.1" height="6.9"/><rect x="1214.3" y="1008.4" width="1.1" height="6.9"/><rect x="1225.3" y="1008.4" width="1.1" height="6.9"/><rect x="147.3" y="1029" width="1.1" height="6.9"/><rect x="361.3" y="1029" width="1.1" height="6.9"/><rect x="410.7" y="1029" width="1.1" height="6.9"/><rect x="436.9" y="1029" width="1.1" height="6.9"/><rect x="148.5" y="1035.9" width="1.1" height="6.9"/><rect x="190" y="1035.9" width="1.1" height="6.9"/><rect x="206.1" y="1035.9" width="1.1" height="6.9"/><rect x="182.7" y="1049.7" width="1.1" height="6.9"/><rect x="261.9" y="1049.7" width="1.1" height="6.9"/><rect x="351.7" y="1049.7" width="1.1" height="6.9"/><rect x="358.4" y="1049.7" width="1.1" height="6.9"/><rect x="422.9" y="1049.7" width="1.1" height="6.9"/><rect x="430.4" y="1049.7" width="1.1" height="6.9"/><rect x="168.2" y="1056.6" width="1.1" height="6.9"/><rect x="292.9" y="1056.6" width="1.1" height="6.9"/><rect x="295.6" y="1056.6" width="1.1" height="6.9"/><rect x="302.9" y="1056.6" width="1.1" height="6.9"/><rect x="328.7" y="1056.6" width="1.1" height="6.9"/><rect x="333.9" y="1056.6" width="1.1" height="6.9"/><rect x="374.9" y="1056.6" width="1.1" height="6.9"/><rect x="377.5" y="1056.6" width="1.1" height="6.9"/><rect x="400.6" y="1056.6" width="1.1" height="6.9"/><rect x="409.8" y="1056.6" width="1.1" height="6.9"/><rect x="436" y="1056.6" width="1.1" height="6.9"/><rect x="265.9" y="1063.5" width="1.1" height="6.9"/><rect x="268.9" y="1063.5" width="1.1" height="6.9"/><rect x="329.2" y="1063.5" width="1.1" height="6.9"/><rect x="349.6" y="1063.5" width="1.1" height="6.9"/><rect x="351.9" y="1063.5" width="1.1" height="6.9"/><rect x="231" y="1070.3" width="1.1" height="6.9"/><rect x="276" y="1070.3" width="1.1" height="6.9"/><rect x="148.5" y="1077.2" width="1.1" height="6.9"/><rect x="153.4" y="1077.2" width="1.1" height="6.9"/><rect x="276" y="1077.2" width="1.1" height="6.9"/><rect x="285.4" y="1084.1" width="1.1" height="6.9"/><rect x="302" y="1084.1" width="1.1" height="6.9"/><rect x="309" y="1084.1" width="1.1" height="6.9"/><rect x="346.1" y="1084.1" width="1.1" height="6.9"/><rect x="347.9" y="1084.1" width="1.1" height="6.9"/><rect x="354" y="1084.1" width="1.1" height="6.9"/><rect x="357.5" y="1084.1" width="1.1" height="6.9"/><rect x="361" y="1084.1" width="1.1" height="6.9"/><rect x="364.5" y="1084.1" width="1.1" height="6.9"/><rect x="423.8" y="1084.1" width="1.1" height="6.9"/><rect x="427.3" y="1084.1" width="1.1" height="6.9"/><rect x="432.5" y="1084.1" width="1.1" height="6.9"/><rect x="148.5" y="1097.9" width="1.1" height="6.9"/><rect x="217.1" y="1097.9" width="1.1" height="6.9"/><rect x="294.2" y="1097.9" width="1.1" height="6.9"/><rect x="392.9" y="1097.9" width="1.1" height="6.9"/><rect x="408.9" y="1097.9" width="1.1" height="6.9"/><rect x="433.4" y="1097.9" width="1.1" height="6.9"/><rect x="716.8" y="1029" width="1.1" height="6.9"/><rect x="507.8" y="1035.9" width="1.1" height="6.9"/><rect x="702.8" y="1035.9" width="1.1" height="6.9"/><rect x="587.7" y="1049.7" width="1.1" height="6.9"/><rect x="444.7" y="1056.6" width="1.1" height="6.9"/><rect x="447.3" y="1056.6" width="1.1" height="6.9"/><rect x="451.7" y="1056.6" width="1.1" height="6.9"/><rect x="454.3" y="1056.6" width="1.1" height="6.9"/><rect x="463" y="1056.6" width="1.1" height="6.9"/><rect x="476.1" y="1056.6" width="1.1" height="6.9"/><rect x="485.7" y="1056.6" width="1.1" height="6.9"/><rect x="487.9" y="1056.6" width="1.1" height="6.9"/><rect x="509.2" y="1056.6" width="1.1" height="6.9"/><rect x="511" y="1056.6" width="1.1" height="6.9"/><rect x="518.8" y="1056.6" width="1.1" height="6.9"/><rect x="521.4" y="1056.6" width="1.1" height="6.9"/><rect x="524" y="1056.6" width="1.1" height="6.9"/><rect x="554.6" y="1056.6" width="1.1" height="6.9"/><rect x="592.1" y="1056.6" width="1.1" height="6.9"/><rect x="599.1" y="1056.6" width="1.1" height="6.9"/><rect x="601.7" y="1056.6" width="1.1" height="6.9"/><rect x="624.3" y="1056.6" width="1.1" height="6.9"/><rect x="641.8" y="1056.6" width="1.1" height="6.9"/><rect x="644.4" y="1056.6" width="1.1" height="6.9"/><rect x="647" y="1056.6" width="1.1" height="6.9"/><rect x="661.8" y="1056.6" width="1.1" height="6.9"/><rect x="670.6" y="1056.6" width="1.1" height="6.9"/><rect x="673.2" y="1056.6" width="1.1" height="6.9"/><rect x="710.7" y="1056.6" width="1.1" height="6.9"/><rect x="720.3" y="1056.6" width="1.1" height="6.9"/><rect x="725.5" y="1056.6" width="1.1" height="6.9"/><rect x="737.7" y="1056.6" width="1.1" height="6.9"/><rect x="544.1" y="1063.5" width="1.1" height="6.9"/><rect x="595.6" y="1063.5" width="1.1" height="6.9"/><rect x="625.7" y="1063.5" width="1.1" height="6.9"/><rect x="670.6" y="1063.5" width="1.1" height="6.9"/><rect x="687.1" y="1063.5" width="1.1" height="6.9"/><rect x="695" y="1063.5" width="1.1" height="6.9"/><rect x="725.5" y="1063.5" width="1.1" height="6.9"/><rect x="589.1" y="1077.2" width="1.1" height="6.9"/><rect x="702.8" y="1077.2" width="1.1" height="6.9"/><rect x="463" y="1084.1" width="1.1" height="6.9"/><rect x="483.9" y="1084.1" width="1.1" height="6.9"/><rect x="506.6" y="1084.1" width="1.1" height="6.9"/><rect x="509.2" y="1084.1" width="1.1" height="6.9"/><rect x="517.1" y="1084.1" width="1.1" height="6.9"/><rect x="518.8" y="1084.1" width="1.1" height="6.9"/><rect x="525.8" y="1084.1" width="1.1" height="6.9"/><rect x="544.1" y="1084.1" width="1.1" height="6.9"/><rect x="558.1" y="1084.1" width="1.1" height="6.9"/><rect x="595.6" y="1084.1" width="1.1" height="6.9"/><rect x="602" y="1084.1" width="1.1" height="6.9"/><rect x="609" y="1084.1" width="1.1" height="6.9"/><rect x="611.3" y="1084.1" width="1.1" height="6.9"/><rect x="625.7" y="1084.1" width="1.1" height="6.9"/><rect x="650.5" y="1084.1" width="1.1" height="6.9"/><rect x="710.7" y="1084.1" width="1.1" height="6.9"/><rect x="727.3" y="1084.1" width="1.1" height="6.9"/><rect x="730.7" y="1084.1" width="1.1" height="6.9"/><rect x="736" y="1084.1" width="1.1" height="6.9"/><rect x="738.1" y="1084.1" width="1.1" height="6.9"/><rect x="686.8" y="1091" width="1.1" height="6.9"/><rect x="468.8" y="1097.9" width="1.1" height="6.9"/><rect x="472.9" y="1097.9" width="1.1" height="6.9"/><rect x="517.1" y="1097.9" width="1.1" height="6.9"/><rect x="544.1" y="1097.9" width="1.1" height="6.9"/><rect x="547.2" y="1097.9" width="1.1" height="6.9"/><rect x="558.1" y="1097.9" width="1.1" height="6.9"/><rect x="589.1" y="1097.9" width="1.1" height="6.9"/><rect x="643.9" y="1097.9" width="1.1" height="6.9"/><rect x="695" y="1097.9" width="1.1" height="6.9"/><rect x="702.8" y="1097.9" width="1.1" height="6.9"/><rect x="936" y="1035.9" width="1.1" height="6.9"/><rect x="1028.1" y="1035.9" width="1.1" height="6.9"/><rect x="971.8" y="1049.7" width="1.1" height="6.9"/><rect x="759.5" y="1056.6" width="1.1" height="6.9"/><rect x="770.8" y="1056.6" width="1.1" height="6.9"/><rect x="774.3" y="1056.6" width="1.1" height="6.9"/><rect x="787.4" y="1056.6" width="1.1" height="6.9"/><rect x="791.4" y="1056.6" width="1.1" height="6.9"/><rect x="797.9" y="1056.6" width="1.1" height="6.9"/><rect x="840.6" y="1056.6" width="1.1" height="6.9"/><rect x="846.7" y="1056.6" width="1.1" height="6.9"/><rect x="851.1" y="1056.6" width="1.1" height="6.9"/><rect x="900.8" y="1056.6" width="1.1" height="6.9"/><rect x="906.9" y="1056.6" width="1.1" height="6.9"/><rect x="933.1" y="1056.6" width="1.1" height="6.9"/><rect x="936.6" y="1056.6" width="1.1" height="6.9"/><rect x="940" y="1056.6" width="1.1" height="6.9"/><rect x="942.7" y="1056.6" width="1.1" height="6.9"/><rect x="945.3" y="1056.6" width="1.1" height="6.9"/><rect x="961" y="1056.6" width="1.1" height="6.9"/><rect x="990.1" y="1056.6" width="1.1" height="6.9"/><rect x="1034.2" y="1056.6" width="1.1" height="6.9"/><rect x="1037.7" y="1056.6" width="1.1" height="6.9"/><rect x="763.9" y="1063.5" width="1.1" height="6.9"/><rect x="770" y="1063.5" width="1.1" height="6.9"/><rect x="809.2" y="1063.5" width="1.1" height="6.9"/><rect x="833.6" y="1063.5" width="1.1" height="6.9"/><rect x="851.1" y="1063.5" width="1.1" height="6.9"/><rect x="874.6" y="1063.5" width="1.1" height="6.9"/><rect x="892.9" y="1063.5" width="1.1" height="6.9"/><rect x="965.9" y="1063.5" width="1.1" height="6.9"/><rect x="1036" y="1063.5" width="1.1" height="6.9"/><rect x="968.8" y="1070.3" width="1.1" height="6.9"/><rect x="759.5" y="1084.1" width="1.1" height="6.9"/><rect x="763.9" y="1084.1" width="1.1" height="6.9"/><rect x="770" y="1084.1" width="1.1" height="6.9"/><rect x="790" y="1084.1" width="1.1" height="6.9"/><rect x="795.3" y="1084.1" width="1.1" height="6.9"/><rect x="799.6" y="1084.1" width="1.1" height="6.9"/><rect x="804" y="1084.1" width="1.1" height="6.9"/><rect x="831.9" y="1084.1" width="1.1" height="6.9"/><rect x="833.6" y="1084.1" width="1.1" height="6.9"/><rect x="851.1" y="1084.1" width="1.1" height="6.9"/><rect x="853.7" y="1084.1" width="1.1" height="6.9"/><rect x="864.2" y="1084.1" width="1.1" height="6.9"/><rect x="885.1" y="1084.1" width="1.1" height="6.9"/><rect x="896.4" y="1084.1" width="1.1" height="6.9"/><rect x="898.2" y="1084.1" width="1.1" height="6.9"/><rect x="912.1" y="1084.1" width="1.1" height="6.9"/><rect x="927" y="1084.1" width="1.1" height="6.9"/><rect x="942.7" y="1084.1" width="1.1" height="6.9"/><rect x="982.8" y="1084.1" width="1.1" height="6.9"/><rect x="995" y="1084.1" width="1.1" height="6.9"/><rect x="1008.9" y="1084.1" width="1.1" height="6.9"/><rect x="1013" y="1084.1" width="1.1" height="6.9"/><rect x="1033.4" y="1084.1" width="1.1" height="6.9"/><rect x="1038.6" y="1084.1" width="1.1" height="6.9"/><rect x="874.1" y="1097.9" width="1.1" height="6.9"/><rect x="910" y="1097.9" width="1.1" height="6.9"/><rect x="1028.1" y="1097.9" width="1.1" height="6.9"/><rect x="1239.2" y="1029" width="1.1" height="6.9"/><rect x="1071.8" y="1035.9" width="1.1" height="6.9"/><rect x="1110.5" y="1035.9" width="1.1" height="6.9"/><rect x="1113.1" y="1035.9" width="1.1" height="6.9"/><rect x="1157.9" y="1035.9" width="1.1" height="6.9"/><rect x="1257" y="1035.9" width="1.1" height="6.9"/><rect x="1278.8" y="1035.9" width="1.1" height="6.9"/><rect x="1099.2" y="1049.7" width="1.1" height="6.9"/><rect x="1182.9" y="1049.7" width="1.1" height="6.9"/><rect x="1239.2" y="1049.7" width="1.1" height="6.9"/><rect x="1122.7" y="1056.6" width="1.1" height="6.9"/><rect x="1126.2" y="1056.6" width="1.1" height="6.9"/><rect x="1135.8" y="1056.6" width="1.1" height="6.9"/><rect x="1154.1" y="1056.6" width="1.1" height="6.9"/><rect x="1189" y="1056.6" width="1.1" height="6.9"/><rect x="1199.5" y="1056.6" width="1.1" height="6.9"/><rect x="1241.3" y="1056.6" width="1.1" height="6.9"/><rect x="1244.8" y="1056.6" width="1.1" height="6.9"/><rect x="1257" y="1056.6" width="1.1" height="6.9"/><rect x="1285.8" y="1056.6" width="1.1" height="6.9"/><rect x="1088.7" y="1063.5" width="1.1" height="6.9"/><rect x="1100.9" y="1063.5" width="1.1" height="6.9"/><rect x="1127.9" y="1063.5" width="1.1" height="6.9"/><rect x="1136.7" y="1063.5" width="1.1" height="6.9"/><rect x="1146.3" y="1063.5" width="1.1" height="6.9"/><rect x="1166.7" y="1063.5" width="1.1" height="6.9"/><rect x="1303.2" y="1063.5" width="1.1" height="6.9"/><rect x="1309.3" y="1063.5" width="1.1" height="6.9"/><rect x="1342.1" y="1063.5" width="1.1" height="6.9"/><rect x="1071.8" y="1077.2" width="1.1" height="6.9"/><rect x="1111.9" y="1077.2" width="1.1" height="6.9"/><rect x="1116.6" y="1077.2" width="1.1" height="6.9"/><rect x="1278.8" y="1077.2" width="1.1" height="6.9"/><rect x="1051.2" y="1084.1" width="1.1" height="6.9"/><rect x="1058.2" y="1084.1" width="1.1" height="6.9"/><rect x="1085.7" y="1084.1" width="1.1" height="6.9"/><rect x="1089.6" y="1084.1" width="1.1" height="6.9"/><rect x="1146.3" y="1084.1" width="1.1" height="6.9"/><rect x="1184.6" y="1084.1" width="1.1" height="6.9"/><rect x="1190.7" y="1084.1" width="1.1" height="6.9"/><rect x="1195.1" y="1084.1" width="1.1" height="6.9"/><rect x="1230.9" y="1084.1" width="1.1" height="6.9"/><rect x="1234.3" y="1084.1" width="1.1" height="6.9"/><rect x="1246.6" y="1084.1" width="1.1" height="6.9"/><rect x="1249.2" y="1084.1" width="1.1" height="6.9"/><rect x="1260.5" y="1084.1" width="1.1" height="6.9"/><rect x="1283.2" y="1084.1" width="1.1" height="6.9"/><rect x="1298.9" y="1084.1" width="1.1" height="6.9"/><rect x="1301.5" y="1084.1" width="1.1" height="6.9"/><rect x="1332" y="1084.1" width="1.1" height="6.9"/><rect x="1339.9" y="1084.1" width="1.1" height="6.9"/><rect x="1342.1" y="1084.1" width="1.1" height="6.9"/><rect x="1107.9" y="1097.9" width="1.1" height="6.9"/><rect x="1117.1" y="1097.9" width="1.1" height="6.9"/><rect x="1122.7" y="1097.9" width="1.1" height="6.9"/><rect x="1156.7" y="1097.9" width="1.1" height="6.9"/><rect x="1166.7" y="1097.9" width="1.1" height="6.9"/><rect x="1221.3" y="1097.9" width="1.1" height="6.9"/><rect x="1278.8" y="1097.9" width="1.1" height="6.9"/><rect x="1342.1" y="1097.9" width="1.1" height="6.9"/></g>
<g fill="#f0747e" opacity="0.85"><rect x="149" y="429.9" width="1.1" height="6.9"/><rect x="251.1" y="429.9" width="1.1" height="6.9"/><rect x="420.3" y="436.8" width="1.1" height="6.9"/><rect x="437.7" y="436.8" width="1.1" height="6.9"/><rect x="322.1" y="450.6" width="1.1" height="6.9"/><rect x="185.2" y="478.1" width="1.1" height="6.9"/><rect x="288.9" y="505.7" width="1.1" height="6.9"/><rect x="263.6" y="512.6" width="1.1" height="6.9"/><rect x="185.2" y="553.9" width="1.1" height="6.9"/><rect x="423.4" y="553.9" width="1.1" height="6.9"/><rect x="199.1" y="567.7" width="1.1" height="6.9"/><rect x="149" y="574.5" width="1.1" height="6.9"/><rect x="236.3" y="588.3" width="1.1" height="6.9"/><rect x="330.4" y="588.3" width="1.1" height="6.9"/><rect x="521.8" y="409.3" width="1.1" height="6.9"/><rect x="500.8" y="416.2" width="1.1" height="6.9"/><rect x="691.5" y="416.2" width="1.1" height="6.9"/><rect x="650.2" y="429.9" width="1.1" height="6.9"/><rect x="691.5" y="429.9" width="1.1" height="6.9"/><rect x="650.2" y="436.8" width="1.1" height="6.9"/><rect x="513.6" y="443.7" width="1.1" height="6.9"/><rect x="675.8" y="450.6" width="1.1" height="6.9"/><rect x="440.8" y="485" width="1.1" height="6.9"/><rect x="547.9" y="519.5" width="1.1" height="6.9"/><rect x="650.2" y="553.9" width="1.1" height="6.9"/><rect x="674.9" y="553.9" width="1.1" height="6.9"/><rect x="702" y="553.9" width="1.1" height="6.9"/><rect x="500.8" y="588.3" width="1.1" height="6.9"/><rect x="563.3" y="588.3" width="1.1" height="6.9"/><rect x="576.9" y="588.3" width="1.1" height="6.9"/><rect x="620" y="588.3" width="1.1" height="6.9"/><rect x="670" y="588.3" width="1.1" height="6.9"/><rect x="695.5" y="588.3" width="1.1" height="6.9"/><rect x="705.5" y="588.3" width="1.1" height="6.9"/><rect x="783.9" y="416.2" width="1.1" height="6.9"/><rect x="1029.4" y="416.2" width="1.1" height="6.9"/><rect x="843.8" y="429.9" width="1.1" height="6.9"/><rect x="888.9" y="429.9" width="1.1" height="6.9"/><rect x="1029" y="429.9" width="1.1" height="6.9"/><rect x="1033" y="429.9" width="1.1" height="6.9"/><rect x="768.2" y="436.8" width="1.1" height="6.9"/><rect x="990.1" y="436.8" width="1.1" height="6.9"/><rect x="1029" y="436.8" width="1.1" height="6.9"/><rect x="1028.7" y="443.7" width="1.1" height="6.9"/><rect x="774.9" y="450.6" width="1.1" height="6.9"/><rect x="810.1" y="450.6" width="1.1" height="6.9"/><rect x="838.4" y="450.6" width="1.1" height="6.9"/><rect x="852.8" y="450.6" width="1.1" height="6.9"/><rect x="858.1" y="450.6" width="1.1" height="6.9"/><rect x="901.7" y="450.6" width="1.1" height="6.9"/><rect x="907.8" y="450.6" width="1.1" height="6.9"/><rect x="1029.4" y="464.4" width="1.1" height="6.9"/><rect x="1029.4" y="471.3" width="1.1" height="6.9"/><rect x="1029.4" y="478.1" width="1.1" height="6.9"/><rect x="771.4" y="485" width="1.1" height="6.9"/><rect x="983.1" y="491.9" width="1.1" height="6.9"/><rect x="1029.4" y="498.8" width="1.1" height="6.9"/><rect x="982.3" y="547" width="1.1" height="6.9"/><rect x="1029" y="547" width="1.1" height="6.9"/><rect x="1029" y="553.9" width="1.1" height="6.9"/><rect x="875.2" y="581.4" width="1.1" height="6.9"/><rect x="1029.4" y="581.4" width="1.1" height="6.9"/><rect x="828.4" y="588.3" width="1.1" height="6.9"/><rect x="850.2" y="588.3" width="1.1" height="6.9"/><rect x="886.8" y="588.3" width="1.1" height="6.9"/><rect x="783.9" y="602.1" width="1.1" height="6.9"/><rect x="1214.3" y="402.4" width="1.1" height="6.9"/><rect x="1157.6" y="409.3" width="1.1" height="6.9"/><rect x="1278.8" y="409.3" width="1.1" height="6.9"/><rect x="1134.6" y="416.2" width="1.1" height="6.9"/><rect x="1174.2" y="443.7" width="1.1" height="6.9"/><rect x="1075.6" y="450.6" width="1.1" height="6.9"/><rect x="1072.1" y="478.1" width="1.1" height="6.9"/><rect x="1146.8" y="485" width="1.1" height="6.9"/><rect x="1193.4" y="491.9" width="1.1" height="6.9"/><rect x="1216.6" y="491.9" width="1.1" height="6.9"/><rect x="1051.2" y="505.7" width="1.1" height="6.9"/><rect x="1239.2" y="512.6" width="1.1" height="6.9"/><rect x="1314.1" y="526.3" width="1.1" height="6.9"/><rect x="1157.6" y="547" width="1.1" height="6.9"/><rect x="1257" y="547" width="1.1" height="6.9"/><rect x="1280.6" y="547" width="1.1" height="6.9"/><rect x="1341.1" y="547" width="1.1" height="6.9"/><rect x="1117.5" y="567.7" width="1.1" height="6.9"/><rect x="1216" y="567.7" width="1.1" height="6.9"/><rect x="1278.3" y="567.7" width="1.1" height="6.9"/><rect x="1051.2" y="588.3" width="1.1" height="6.9"/><rect x="1100.9" y="588.3" width="1.1" height="6.9"/><rect x="1157.6" y="588.3" width="1.1" height="6.9"/><rect x="1199.8" y="588.3" width="1.1" height="6.9"/><rect x="1248.8" y="588.3" width="1.1" height="6.9"/><rect x="238.9" y="609" width="1.1" height="6.9"/><rect x="199.1" y="650.3" width="1.1" height="6.9"/><rect x="201.4" y="650.3" width="1.1" height="6.9"/><rect x="211.8" y="650.3" width="1.1" height="6.9"/><rect x="199.1" y="684.7" width="1.1" height="6.9"/><rect x="199.1" y="705.4" width="1.1" height="6.9"/><rect x="436.9" y="705.4" width="1.1" height="6.9"/><rect x="251.1" y="753.6" width="1.1" height="6.9"/><rect x="235.9" y="774.2" width="1.1" height="6.9"/><rect x="282.8" y="788" width="1.1" height="6.9"/><rect x="201.7" y="794.9" width="1.1" height="6.9"/><rect x="521.8" y="609" width="1.1" height="6.9"/><rect x="664.8" y="609" width="1.1" height="6.9"/><rect x="691.5" y="615.9" width="1.1" height="6.9"/><rect x="658.9" y="629.6" width="1.1" height="6.9"/><rect x="691.5" y="636.5" width="1.1" height="6.9"/><rect x="650.2" y="650.3" width="1.1" height="6.9"/><rect x="650.2" y="657.2" width="1.1" height="6.9"/><rect x="691.5" y="657.2" width="1.1" height="6.9"/><rect x="650.2" y="664.1" width="1.1" height="6.9"/><rect x="691.5" y="664.1" width="1.1" height="6.9"/><rect x="589.1" y="677.8" width="1.1" height="6.9"/><rect x="650.2" y="677.8" width="1.1" height="6.9"/><rect x="544.6" y="705.4" width="1.1" height="6.9"/><rect x="650.2" y="712.3" width="1.1" height="6.9"/><rect x="672.8" y="719.2" width="1.1" height="6.9"/><rect x="658.9" y="732.9" width="1.1" height="6.9"/><rect x="592.1" y="739.8" width="1.1" height="6.9"/><rect x="695.5" y="739.8" width="1.1" height="6.9"/><rect x="650.2" y="746.7" width="1.1" height="6.9"/><rect x="502.6" y="781.1" width="1.1" height="6.9"/><rect x="651.9" y="781.1" width="1.1" height="6.9"/><rect x="783.9" y="609" width="1.1" height="6.9"/><rect x="1029.4" y="622.8" width="1.1" height="6.9"/><rect x="1029.4" y="636.5" width="1.1" height="6.9"/><rect x="782.7" y="643.4" width="1.1" height="6.9"/><rect x="846.7" y="650.3" width="1.1" height="6.9"/><rect x="1029.4" y="657.2" width="1.1" height="6.9"/><rect x="1029.4" y="664.1" width="1.1" height="6.9"/><rect x="1029.4" y="671" width="1.1" height="6.9"/><rect x="1028.1" y="684.7" width="1.1" height="6.9"/><rect x="841.1" y="705.4" width="1.1" height="6.9"/><rect x="770.8" y="753.6" width="1.1" height="6.9"/><rect x="831.9" y="760.5" width="1.1" height="6.9"/><rect x="792.3" y="767.4" width="1.1" height="6.9"/><rect x="1034.6" y="774.2" width="1.1" height="6.9"/><rect x="775.2" y="781.1" width="1.1" height="6.9"/><rect x="947.9" y="781.1" width="1.1" height="6.9"/><rect x="1029.4" y="781.1" width="1.1" height="6.9"/><rect x="1029.4" y="801.8" width="1.1" height="6.9"/><rect x="993.8" y="808.7" width="1.1" height="6.9"/><rect x="1109.1" y="609" width="1.1" height="6.9"/><rect x="1288.8" y="609" width="1.1" height="6.9"/><rect x="1106.1" y="643.4" width="1.1" height="6.9"/><rect x="1157.9" y="684.7" width="1.1" height="6.9"/><rect x="1302.9" y="684.7" width="1.1" height="6.9"/><rect x="1321.9" y="691.6" width="1.1" height="6.9"/><rect x="1221.8" y="739.8" width="1.1" height="6.9"/><rect x="1071.8" y="746.7" width="1.1" height="6.9"/><rect x="1261.9" y="753.6" width="1.1" height="6.9"/><rect x="1278.3" y="753.6" width="1.1" height="6.9"/><rect x="1258.4" y="788" width="1.1" height="6.9"/><rect x="1328.9" y="794.9" width="1.1" height="6.9"/><rect x="1287" y="801.8" width="1.1" height="6.9"/><rect x="149" y="815.6" width="1.1" height="6.9"/><rect x="277.2" y="829.3" width="1.1" height="6.9"/><rect x="190" y="843.1" width="1.1" height="6.9"/><rect x="276" y="850" width="1.1" height="6.9"/><rect x="437.7" y="863.8" width="1.1" height="6.9"/><rect x="342.7" y="870.6" width="1.1" height="6.9"/><rect x="420.6" y="870.6" width="1.1" height="6.9"/><rect x="428.1" y="877.5" width="1.1" height="6.9"/><rect x="381.4" y="884.4" width="1.1" height="6.9"/><rect x="390.3" y="884.4" width="1.1" height="6.9"/><rect x="375.8" y="891.3" width="1.1" height="6.9"/><rect x="348.8" y="905.1" width="1.1" height="6.9"/><rect x="199.1" y="918.9" width="1.1" height="6.9"/><rect x="402.8" y="918.9" width="1.1" height="6.9"/><rect x="438.1" y="918.9" width="1.1" height="6.9"/><rect x="199.1" y="925.7" width="1.1" height="6.9"/><rect x="294.2" y="932.6" width="1.1" height="6.9"/><rect x="199.1" y="939.5" width="1.1" height="6.9"/><rect x="149.9" y="946.4" width="1.1" height="6.9"/><rect x="312.7" y="946.4" width="1.1" height="6.9"/><rect x="150.3" y="953.3" width="1.1" height="6.9"/><rect x="176.6" y="960.2" width="1.1" height="6.9"/><rect x="323.8" y="980.8" width="1.1" height="6.9"/><rect x="249.7" y="1008.4" width="1.1" height="6.9"/><rect x="570.6" y="836.2" width="1.1" height="6.9"/><rect x="689.2" y="843.1" width="1.1" height="6.9"/><rect x="650.2" y="850" width="1.1" height="6.9"/><rect x="691.5" y="850" width="1.1" height="6.9"/><rect x="650.2" y="863.8" width="1.1" height="6.9"/><rect x="546.7" y="870.6" width="1.1" height="6.9"/><rect x="656.6" y="870.6" width="1.1" height="6.9"/><rect x="445.6" y="877.5" width="1.1" height="6.9"/><rect x="451" y="877.5" width="1.1" height="6.9"/><rect x="456" y="877.5" width="1.1" height="6.9"/><rect x="461.3" y="877.5" width="1.1" height="6.9"/><rect x="466.5" y="877.5" width="1.1" height="6.9"/><rect x="482.2" y="877.5" width="1.1" height="6.9"/><rect x="650.2" y="877.5" width="1.1" height="6.9"/><rect x="636.6" y="884.4" width="1.1" height="6.9"/><rect x="665.3" y="891.3" width="1.1" height="6.9"/><rect x="524.4" y="898.2" width="1.1" height="6.9"/><rect x="645.3" y="898.2" width="1.1" height="6.9"/><rect x="650.2" y="898.2" width="1.1" height="6.9"/><rect x="716.4" y="898.2" width="1.1" height="6.9"/><rect x="691.5" y="905.1" width="1.1" height="6.9"/><rect x="446.8" y="918.9" width="1.1" height="6.9"/><rect x="659.6" y="918.9" width="1.1" height="6.9"/><rect x="650.2" y="925.7" width="1.1" height="6.9"/><rect x="691.5" y="925.7" width="1.1" height="6.9"/><rect x="440" y="946.4" width="1.1" height="6.9"/><rect x="517.9" y="946.4" width="1.1" height="6.9"/><rect x="733" y="946.4" width="1.1" height="6.9"/><rect x="691.5" y="953.3" width="1.1" height="6.9"/><rect x="650.2" y="960.2" width="1.1" height="6.9"/><rect x="691.5" y="967.1" width="1.1" height="6.9"/><rect x="548.8" y="980.8" width="1.1" height="6.9"/><rect x="691.5" y="1008.4" width="1.1" height="6.9"/><rect x="753.8" y="822.4" width="1.1" height="6.9"/><rect x="1029.4" y="822.4" width="1.1" height="6.9"/><rect x="954.9" y="850" width="1.1" height="6.9"/><rect x="1029.4" y="850" width="1.1" height="6.9"/><rect x="787.4" y="856.9" width="1.1" height="6.9"/><rect x="1029.4" y="863.8" width="1.1" height="6.9"/><rect x="827.5" y="877.5" width="1.1" height="6.9"/><rect x="843.8" y="877.5" width="1.1" height="6.9"/><rect x="929.2" y="877.5" width="1.1" height="6.9"/><rect x="986.8" y="877.5" width="1.1" height="6.9"/><rect x="1000.7" y="877.5" width="1.1" height="6.9"/><rect x="963.9" y="891.3" width="1.1" height="6.9"/><rect x="981.9" y="891.3" width="1.1" height="6.9"/><rect x="1029.4" y="898.2" width="1.1" height="6.9"/><rect x="1029.4" y="905.1" width="1.1" height="6.9"/><rect x="783.1" y="918.9" width="1.1" height="6.9"/><rect x="1029" y="932.6" width="1.1" height="6.9"/><rect x="824" y="953.3" width="1.1" height="6.9"/><rect x="897.8" y="953.3" width="1.1" height="6.9"/><rect x="1029" y="960.2" width="1.1" height="6.9"/><rect x="1029.4" y="967.1" width="1.1" height="6.9"/><rect x="1029.4" y="987.7" width="1.1" height="6.9"/><rect x="1029" y="1001.5" width="1.1" height="6.9"/><rect x="848.5" y="1008.4" width="1.1" height="6.9"/><rect x="1029.4" y="1008.4" width="1.1" height="6.9"/><rect x="933.9" y="1015.3" width="1.1" height="6.9"/><rect x="1109.6" y="829.3" width="1.1" height="6.9"/><rect x="1113.6" y="829.3" width="1.1" height="6.9"/><rect x="1239.2" y="829.3" width="1.1" height="6.9"/><rect x="1148.9" y="843.1" width="1.1" height="6.9"/><rect x="1168.9" y="843.1" width="1.1" height="6.9"/><rect x="1237.8" y="870.6" width="1.1" height="6.9"/><rect x="1087.8" y="877.5" width="1.1" height="6.9"/><rect x="1091.3" y="877.5" width="1.1" height="6.9"/><rect x="1155.5" y="877.5" width="1.1" height="6.9"/><rect x="1189.9" y="884.4" width="1.1" height="6.9"/><rect x="1287" y="884.4" width="1.1" height="6.9"/><rect x="1071.8" y="891.3" width="1.1" height="6.9"/><rect x="1082.6" y="891.3" width="1.1" height="6.9"/><rect x="1146.8" y="891.3" width="1.1" height="6.9"/><rect x="1072.1" y="898.2" width="1.1" height="6.9"/><rect x="1134" y="898.2" width="1.1" height="6.9"/><rect x="1154.1" y="898.2" width="1.1" height="6.9"/><rect x="1224.8" y="898.2" width="1.1" height="6.9"/><rect x="1307.3" y="898.2" width="1.1" height="6.9"/><rect x="1148.9" y="912" width="1.1" height="6.9"/><rect x="1071.3" y="918.9" width="1.1" height="6.9"/><rect x="1124.8" y="918.9" width="1.1" height="6.9"/><rect x="1278.3" y="918.9" width="1.1" height="6.9"/><rect x="1110.8" y="932.6" width="1.1" height="6.9"/><rect x="1146.8" y="953.3" width="1.1" height="6.9"/><rect x="1239.2" y="953.3" width="1.1" height="6.9"/><rect x="1288.1" y="953.3" width="1.1" height="6.9"/><rect x="1257.4" y="967.1" width="1.1" height="6.9"/><rect x="1124.5" y="987.7" width="1.1" height="6.9"/><rect x="1257.4" y="987.7" width="1.1" height="6.9"/><rect x="1257" y="1001.5" width="1.1" height="6.9"/><rect x="1148.9" y="1008.4" width="1.1" height="6.9"/><rect x="1209.9" y="1008.4" width="1.1" height="6.9"/><rect x="322.6" y="1035.9" width="1.1" height="6.9"/><rect x="329.1" y="1035.9" width="1.1" height="6.9"/><rect x="436" y="1049.7" width="1.1" height="6.9"/><rect x="166" y="1056.6" width="1.1" height="6.9"/><rect x="175.2" y="1056.6" width="1.1" height="6.9"/><rect x="178.7" y="1056.6" width="1.1" height="6.9"/><rect x="189.2" y="1056.6" width="1.1" height="6.9"/><rect x="225.3" y="1056.6" width="1.1" height="6.9"/><rect x="227.5" y="1056.6" width="1.1" height="6.9"/><rect x="261.6" y="1056.6" width="1.1" height="6.9"/><rect x="285.1" y="1056.6" width="1.1" height="6.9"/><rect x="298.5" y="1056.6" width="1.1" height="6.9"/><rect x="312.1" y="1056.6" width="1.1" height="6.9"/><rect x="326.1" y="1056.6" width="1.1" height="6.9"/><rect x="330.4" y="1056.6" width="1.1" height="6.9"/><rect x="341.8" y="1056.6" width="1.1" height="6.9"/><rect x="343.5" y="1056.6" width="1.1" height="6.9"/><rect x="361" y="1056.6" width="1.1" height="6.9"/><rect x="363.6" y="1056.6" width="1.1" height="6.9"/><rect x="368" y="1056.6" width="1.1" height="6.9"/><rect x="388" y="1056.6" width="1.1" height="6.9"/><rect x="406.3" y="1056.6" width="1.1" height="6.9"/><rect x="408.1" y="1056.6" width="1.1" height="6.9"/><rect x="421.2" y="1056.6" width="1.1" height="6.9"/><rect x="425.5" y="1056.6" width="1.1" height="6.9"/><rect x="429.9" y="1056.6" width="1.1" height="6.9"/><rect x="149" y="1063.5" width="1.1" height="6.9"/><rect x="151.7" y="1063.5" width="1.1" height="6.9"/><rect x="289.8" y="1063.5" width="1.1" height="6.9"/><rect x="342.7" y="1063.5" width="1.1" height="6.9"/><rect x="214.1" y="1084.1" width="1.1" height="6.9"/><rect x="342.7" y="1084.1" width="1.1" height="6.9"/><rect x="214.1" y="1091" width="1.1" height="6.9"/><rect x="421.2" y="1091" width="1.1" height="6.9"/><rect x="598.2" y="1029" width="1.1" height="6.9"/><rect x="691.5" y="1049.7" width="1.1" height="6.9"/><rect x="442.1" y="1056.6" width="1.1" height="6.9"/><rect x="465.6" y="1056.6" width="1.1" height="6.9"/><rect x="497" y="1056.6" width="1.1" height="6.9"/><rect x="499.6" y="1056.6" width="1.1" height="6.9"/><rect x="502.2" y="1056.6" width="1.1" height="6.9"/><rect x="528.8" y="1056.6" width="1.1" height="6.9"/><rect x="547.9" y="1056.6" width="1.1" height="6.9"/><rect x="561.6" y="1056.6" width="1.1" height="6.9"/><rect x="609" y="1056.6" width="1.1" height="6.9"/><rect x="631.3" y="1056.6" width="1.1" height="6.9"/><rect x="687.1" y="1056.6" width="1.1" height="6.9"/><rect x="695" y="1056.6" width="1.1" height="6.9"/><rect x="729" y="1056.6" width="1.1" height="6.9"/><rect x="582.5" y="1063.5" width="1.1" height="6.9"/><rect x="706.3" y="1063.5" width="1.1" height="6.9"/><rect x="658.4" y="1077.2" width="1.1" height="6.9"/><rect x="579.9" y="1084.1" width="1.1" height="6.9"/><rect x="701.1" y="1084.1" width="1.1" height="6.9"/><rect x="1029.4" y="1029" width="1.1" height="6.9"/><rect x="898.2" y="1042.8" width="1.1" height="6.9"/><rect x="783.4" y="1049.7" width="1.1" height="6.9"/><rect x="981.9" y="1049.7" width="1.1" height="6.9"/><rect x="1029.4" y="1049.7" width="1.1" height="6.9"/><rect x="740.3" y="1056.6" width="1.1" height="6.9"/><rect x="742.1" y="1056.6" width="1.1" height="6.9"/><rect x="763" y="1056.6" width="1.1" height="6.9"/><rect x="765.6" y="1056.6" width="1.1" height="6.9"/><rect x="804" y="1056.6" width="1.1" height="6.9"/><rect x="806.6" y="1056.6" width="1.1" height="6.9"/><rect x="825.8" y="1056.6" width="1.1" height="6.9"/><rect x="842.4" y="1056.6" width="1.1" height="6.9"/><rect x="859.8" y="1056.6" width="1.1" height="6.9"/><rect x="872.9" y="1056.6" width="1.1" height="6.9"/><rect x="930.4" y="1056.6" width="1.1" height="6.9"/><rect x="971.4" y="1056.6" width="1.1" height="6.9"/><rect x="981.9" y="1056.6" width="1.1" height="6.9"/><rect x="1002.8" y="1056.6" width="1.1" height="6.9"/><rect x="1010.7" y="1056.6" width="1.1" height="6.9"/><rect x="1014.2" y="1056.6" width="1.1" height="6.9"/><rect x="1016.8" y="1056.6" width="1.1" height="6.9"/><rect x="1029" y="1056.6" width="1.1" height="6.9"/><rect x="805.7" y="1063.5" width="1.1" height="6.9"/><rect x="864.2" y="1063.5" width="1.1" height="6.9"/><rect x="913.9" y="1063.5" width="1.1" height="6.9"/><rect x="941.4" y="1063.5" width="1.1" height="6.9"/><rect x="1029" y="1077.2" width="1.1" height="6.9"/><rect x="845" y="1084.1" width="1.1" height="6.9"/><rect x="941.8" y="1097.9" width="1.1" height="6.9"/><rect x="1029.4" y="1097.9" width="1.1" height="6.9"/><rect x="1075.3" y="1029" width="1.1" height="6.9"/><rect x="1148.9" y="1029" width="1.1" height="6.9"/><rect x="1156.7" y="1029" width="1.1" height="6.9"/><rect x="1260.9" y="1029" width="1.1" height="6.9"/><rect x="1239.2" y="1042.8" width="1.1" height="6.9"/><rect x="1268.9" y="1042.8" width="1.1" height="6.9"/><rect x="1071.8" y="1049.7" width="1.1" height="6.9"/><rect x="1148" y="1049.7" width="1.1" height="6.9"/><rect x="1075.3" y="1056.6" width="1.1" height="6.9"/><rect x="1077.7" y="1056.6" width="1.1" height="6.9"/><rect x="1087.8" y="1056.6" width="1.1" height="6.9"/><rect x="1101.8" y="1056.6" width="1.1" height="6.9"/><rect x="1132.8" y="1056.6" width="1.1" height="6.9"/><rect x="1147.5" y="1056.6" width="1.1" height="6.9"/><rect x="1216" y="1056.6" width="1.1" height="6.9"/><rect x="1233.5" y="1056.6" width="1.1" height="6.9"/><rect x="1235.2" y="1056.6" width="1.1" height="6.9"/><rect x="1247.8" y="1056.6" width="1.1" height="6.9"/><rect x="1258.8" y="1056.6" width="1.1" height="6.9"/><rect x="1280.6" y="1056.6" width="1.1" height="6.9"/><rect x="1153.2" y="1063.5" width="1.1" height="6.9"/><rect x="1221.8" y="1063.5" width="1.1" height="6.9"/><rect x="1236.4" y="1063.5" width="1.1" height="6.9"/><rect x="1122.7" y="1077.2" width="1.1" height="6.9"/><rect x="1138.1" y="1084.1" width="1.1" height="6.9"/><rect x="1287" y="1097.9" width="1.1" height="6.9"/></g>
<g fill="#7fee78" opacity="0.9"><rect x="1238.7" y="980.8" width="1.1" height="6.9"/><rect x="1257.4" y="1077.2" width="1.1" height="6.9"/></g>
<g fill="#22b514" opacity="0.85"><rect x="436.9" y="450.6" width="1.1" height="6.9"/><rect x="190" y="457.5" width="1.1" height="6.9"/><rect x="199.1" y="457.5" width="1.1" height="6.9"/><rect x="276" y="464.4" width="1.1" height="6.9"/><rect x="190" y="478.1" width="1.1" height="6.9"/><rect x="190" y="485" width="1.1" height="6.9"/><rect x="276.9" y="498.8" width="1.1" height="6.9"/><rect x="199.1" y="512.6" width="1.1" height="6.9"/><rect x="333.1" y="512.6" width="1.1" height="6.9"/><rect x="190" y="519.5" width="1.1" height="6.9"/><rect x="276.9" y="519.5" width="1.1" height="6.9"/><rect x="437.7" y="519.5" width="1.1" height="6.9"/><rect x="149" y="526.3" width="1.1" height="6.9"/><rect x="437.7" y="526.3" width="1.1" height="6.9"/><rect x="235.9" y="533.2" width="1.1" height="6.9"/><rect x="300.8" y="533.2" width="1.1" height="6.9"/><rect x="146.4" y="574.5" width="1.1" height="6.9"/><rect x="157.8" y="574.5" width="1.1" height="6.9"/><rect x="190" y="574.5" width="1.1" height="6.9"/><rect x="203.1" y="574.5" width="1.1" height="6.9"/><rect x="231" y="574.5" width="1.1" height="6.9"/><rect x="433.4" y="574.5" width="1.1" height="6.9"/><rect x="146.4" y="581.4" width="1.1" height="6.9"/><rect x="154.3" y="581.4" width="1.1" height="6.9"/><rect x="157.8" y="581.4" width="1.1" height="6.9"/><rect x="199.1" y="581.4" width="1.1" height="6.9"/><rect x="238.4" y="581.4" width="1.1" height="6.9"/><rect x="437.7" y="581.4" width="1.1" height="6.9"/><rect x="238.4" y="588.3" width="1.1" height="6.9"/><rect x="256" y="588.3" width="1.1" height="6.9"/><rect x="324.3" y="588.3" width="1.1" height="6.9"/><rect x="336.2" y="588.3" width="1.1" height="6.9"/><rect x="437.7" y="595.2" width="1.1" height="6.9"/><rect x="308.6" y="602.1" width="1.1" height="6.9"/><rect x="517.9" y="429.9" width="1.1" height="6.9"/><rect x="559.8" y="457.5" width="1.1" height="6.9"/><rect x="589.1" y="457.5" width="1.1" height="6.9"/><rect x="559.8" y="471.3" width="1.1" height="6.9"/><rect x="589.1" y="471.3" width="1.1" height="6.9"/><rect x="589.1" y="512.6" width="1.1" height="6.9"/><rect x="629.1" y="519.5" width="1.1" height="6.9"/><rect x="513.1" y="533.2" width="1.1" height="6.9"/><rect x="559.8" y="533.2" width="1.1" height="6.9"/><rect x="671.1" y="560.8" width="1.1" height="6.9"/><rect x="589.1" y="567.7" width="1.1" height="6.9"/><rect x="559.8" y="574.5" width="1.1" height="6.9"/><rect x="663.9" y="574.5" width="1.1" height="6.9"/><rect x="702.8" y="574.5" width="1.1" height="6.9"/><rect x="513.1" y="581.4" width="1.1" height="6.9"/><rect x="559.8" y="581.4" width="1.1" height="6.9"/><rect x="658.4" y="581.4" width="1.1" height="6.9"/><rect x="702.8" y="581.4" width="1.1" height="6.9"/><rect x="539.7" y="588.3" width="1.1" height="6.9"/><rect x="589.1" y="588.3" width="1.1" height="6.9"/><rect x="774.9" y="443.7" width="1.1" height="6.9"/><rect x="1033.9" y="450.6" width="1.1" height="6.9"/><rect x="773.8" y="464.4" width="1.1" height="6.9"/><rect x="829.1" y="471.3" width="1.1" height="6.9"/><rect x="764.7" y="478.1" width="1.1" height="6.9"/><rect x="783.1" y="498.8" width="1.1" height="6.9"/><rect x="1008.9" y="498.8" width="1.1" height="6.9"/><rect x="773.5" y="512.6" width="1.1" height="6.9"/><rect x="829.1" y="519.5" width="1.1" height="6.9"/><rect x="829.1" y="526.3" width="1.1" height="6.9"/><rect x="832.4" y="526.3" width="1.1" height="6.9"/><rect x="1028.1" y="526.3" width="1.1" height="6.9"/><rect x="829.1" y="533.2" width="1.1" height="6.9"/><rect x="892.1" y="533.2" width="1.1" height="6.9"/><rect x="772.6" y="547" width="1.1" height="6.9"/><rect x="774.9" y="567.7" width="1.1" height="6.9"/><rect x="774.9" y="574.5" width="1.1" height="6.9"/><rect x="871.1" y="574.5" width="1.1" height="6.9"/><rect x="887.4" y="574.5" width="1.1" height="6.9"/><rect x="905.7" y="574.5" width="1.1" height="6.9"/><rect x="936" y="574.5" width="1.1" height="6.9"/><rect x="1028.1" y="574.5" width="1.1" height="6.9"/><rect x="829.1" y="581.4" width="1.1" height="6.9"/><rect x="1008.9" y="581.4" width="1.1" height="6.9"/><rect x="804" y="588.3" width="1.1" height="6.9"/><rect x="872" y="588.3" width="1.1" height="6.9"/><rect x="958.4" y="588.3" width="1.1" height="6.9"/><rect x="968" y="588.3" width="1.1" height="6.9"/><rect x="1238.7" y="402.4" width="1.1" height="6.9"/><rect x="1209.1" y="409.3" width="1.1" height="6.9"/><rect x="1122.7" y="471.3" width="1.1" height="6.9"/><rect x="1257" y="485" width="1.1" height="6.9"/><rect x="1122.7" y="505.7" width="1.1" height="6.9"/><rect x="1257.4" y="519.5" width="1.1" height="6.9"/><rect x="1076" y="526.3" width="1.1" height="6.9"/><rect x="1238.7" y="526.3" width="1.1" height="6.9"/><rect x="1214.3" y="533.2" width="1.1" height="6.9"/><rect x="1257" y="533.2" width="1.1" height="6.9"/><rect x="1260.9" y="567.7" width="1.1" height="6.9"/><rect x="1083.5" y="574.5" width="1.1" height="6.9"/><rect x="1117.5" y="574.5" width="1.1" height="6.9"/><rect x="1162.8" y="574.5" width="1.1" height="6.9"/><rect x="1206.4" y="574.5" width="1.1" height="6.9"/><rect x="1118.3" y="581.4" width="1.1" height="6.9"/><rect x="1214.3" y="581.4" width="1.1" height="6.9"/><rect x="1238.7" y="581.4" width="1.1" height="6.9"/><rect x="1205.6" y="588.3" width="1.1" height="6.9"/><rect x="1257.4" y="588.3" width="1.1" height="6.9"/><rect x="1118.3" y="595.2" width="1.1" height="6.9"/><rect x="1257.4" y="595.2" width="1.1" height="6.9"/><rect x="199.1" y="609" width="1.1" height="6.9"/><rect x="270.8" y="615.9" width="1.1" height="6.9"/><rect x="199.6" y="746.7" width="1.1" height="6.9"/><rect x="261.6" y="746.7" width="1.1" height="6.9"/><rect x="277.2" y="746.7" width="1.1" height="6.9"/><rect x="663.9" y="629.6" width="1.1" height="6.9"/><rect x="500.8" y="650.3" width="1.1" height="6.9"/><rect x="715.9" y="650.3" width="1.1" height="6.9"/><rect x="702.8" y="657.2" width="1.1" height="6.9"/><rect x="558.1" y="732.9" width="1.1" height="6.9"/><rect x="657" y="746.7" width="1.1" height="6.9"/><rect x="700.2" y="746.7" width="1.1" height="6.9"/><rect x="674.9" y="753.6" width="1.1" height="6.9"/><rect x="589.1" y="760.5" width="1.1" height="6.9"/><rect x="657" y="781.1" width="1.1" height="6.9"/><rect x="954.9" y="636.5" width="1.1" height="6.9"/><rect x="783.4" y="650.3" width="1.1" height="6.9"/><rect x="1028.1" y="650.3" width="1.1" height="6.9"/><rect x="882" y="657.2" width="1.1" height="6.9"/><rect x="892.9" y="691.6" width="1.1" height="6.9"/><rect x="774.9" y="705.4" width="1.1" height="6.9"/><rect x="831.9" y="705.4" width="1.1" height="6.9"/><rect x="892.9" y="732.9" width="1.1" height="6.9"/><rect x="992.9" y="732.9" width="1.1" height="6.9"/><rect x="951.9" y="746.7" width="1.1" height="6.9"/><rect x="849.9" y="753.6" width="1.1" height="6.9"/><rect x="870.8" y="760.5" width="1.1" height="6.9"/><rect x="1148.9" y="650.3" width="1.1" height="6.9"/><rect x="1122.7" y="657.2" width="1.1" height="6.9"/><rect x="1148.9" y="684.7" width="1.1" height="6.9"/><rect x="1257" y="732.9" width="1.1" height="6.9"/><rect x="1257" y="760.5" width="1.1" height="6.9"/><rect x="199.1" y="815.6" width="1.1" height="6.9"/><rect x="224" y="815.6" width="1.1" height="6.9"/><rect x="437.7" y="815.6" width="1.1" height="6.9"/><rect x="425" y="829.3" width="1.1" height="6.9"/><rect x="146.8" y="843.1" width="1.1" height="6.9"/><rect x="437.7" y="843.1" width="1.1" height="6.9"/><rect x="433.4" y="870.6" width="1.1" height="6.9"/><rect x="437.7" y="870.6" width="1.1" height="6.9"/><rect x="374.9" y="891.3" width="1.1" height="6.9"/><rect x="437.7" y="891.3" width="1.1" height="6.9"/><rect x="250.7" y="898.2" width="1.1" height="6.9"/><rect x="436.9" y="912" width="1.1" height="6.9"/><rect x="286" y="918.9" width="1.1" height="6.9"/><rect x="278.1" y="925.7" width="1.1" height="6.9"/><rect x="389.8" y="946.4" width="1.1" height="6.9"/><rect x="205.7" y="960.2" width="1.1" height="6.9"/><rect x="322.6" y="960.2" width="1.1" height="6.9"/><rect x="350" y="960.2" width="1.1" height="6.9"/><rect x="436.9" y="960.2" width="1.1" height="6.9"/><rect x="146.8" y="980.8" width="1.1" height="6.9"/><rect x="148.5" y="980.8" width="1.1" height="6.9"/><rect x="437.7" y="980.8" width="1.1" height="6.9"/><rect x="157.8" y="1001.5" width="1.1" height="6.9"/><rect x="186.9" y="1001.5" width="1.1" height="6.9"/><rect x="201.7" y="1001.5" width="1.1" height="6.9"/><rect x="201.4" y="1008.4" width="1.1" height="6.9"/><rect x="256.7" y="1008.4" width="1.1" height="6.9"/><rect x="521.8" y="843.1" width="1.1" height="6.9"/><rect x="588.9" y="843.1" width="1.1" height="6.9"/><rect x="658.4" y="870.6" width="1.1" height="6.9"/><rect x="674.9" y="870.6" width="1.1" height="6.9"/><rect x="559.8" y="877.5" width="1.1" height="6.9"/><rect x="702.8" y="891.3" width="1.1" height="6.9"/><rect x="559.8" y="898.2" width="1.1" height="6.9"/><rect x="680.2" y="898.2" width="1.1" height="6.9"/><rect x="730.7" y="898.2" width="1.1" height="6.9"/><rect x="521.8" y="960.2" width="1.1" height="6.9"/><rect x="657.1" y="960.2" width="1.1" height="6.9"/><rect x="659.6" y="960.2" width="1.1" height="6.9"/><rect x="701.1" y="980.8" width="1.1" height="6.9"/><rect x="576.9" y="987.7" width="1.1" height="6.9"/><rect x="549" y="1001.5" width="1.1" height="6.9"/><rect x="716.3" y="1001.5" width="1.1" height="6.9"/><rect x="521.8" y="1008.4" width="1.1" height="6.9"/><rect x="829.1" y="815.6" width="1.1" height="6.9"/><rect x="1028.1" y="843.1" width="1.1" height="6.9"/><rect x="829.1" y="870.6" width="1.1" height="6.9"/><rect x="969.3" y="870.6" width="1.1" height="6.9"/><rect x="829.1" y="891.3" width="1.1" height="6.9"/><rect x="982.3" y="918.9" width="1.1" height="6.9"/><rect x="874.3" y="960.2" width="1.1" height="6.9"/><rect x="1034.6" y="960.2" width="1.1" height="6.9"/><rect x="829.1" y="967.1" width="1.1" height="6.9"/><rect x="829.1" y="980.8" width="1.1" height="6.9"/><rect x="1028.1" y="980.8" width="1.1" height="6.9"/><rect x="829.1" y="1001.5" width="1.1" height="6.9"/><rect x="841.1" y="1001.5" width="1.1" height="6.9"/><rect x="842.9" y="1001.5" width="1.1" height="6.9"/><rect x="935.2" y="1001.5" width="1.1" height="6.9"/><rect x="969.7" y="1001.5" width="1.1" height="6.9"/><rect x="1201.6" y="815.6" width="1.1" height="6.9"/><rect x="1113.1" y="843.1" width="1.1" height="6.9"/><rect x="1122.7" y="843.1" width="1.1" height="6.9"/><rect x="1157.9" y="843.1" width="1.1" height="6.9"/><rect x="1118" y="856.9" width="1.1" height="6.9"/><rect x="1154.1" y="856.9" width="1.1" height="6.9"/><rect x="1257" y="856.9" width="1.1" height="6.9"/><rect x="1162.8" y="870.6" width="1.1" height="6.9"/><rect x="1179.4" y="870.6" width="1.1" height="6.9"/><rect x="1214.3" y="870.6" width="1.1" height="6.9"/><rect x="1217.8" y="870.6" width="1.1" height="6.9"/><rect x="1219.5" y="870.6" width="1.1" height="6.9"/><rect x="1110.8" y="891.3" width="1.1" height="6.9"/><rect x="1117.5" y="891.3" width="1.1" height="6.9"/><rect x="1214.8" y="891.3" width="1.1" height="6.9"/><rect x="1238.7" y="891.3" width="1.1" height="6.9"/><rect x="1278.8" y="891.3" width="1.1" height="6.9"/><rect x="1110.8" y="925.7" width="1.1" height="6.9"/><rect x="1132.3" y="925.7" width="1.1" height="6.9"/><rect x="1257" y="925.7" width="1.1" height="6.9"/><rect x="1278.3" y="925.7" width="1.1" height="6.9"/><rect x="1257" y="932.6" width="1.1" height="6.9"/><rect x="1071.8" y="953.3" width="1.1" height="6.9"/><rect x="1157.9" y="1008.4" width="1.1" height="6.9"/><rect x="1238.7" y="1008.4" width="1.1" height="6.9"/><rect x="1278.3" y="1008.4" width="1.1" height="6.9"/><rect x="183.9" y="1056.6" width="1.1" height="6.9"/><rect x="201.4" y="1056.6" width="1.1" height="6.9"/><rect x="204" y="1056.6" width="1.1" height="6.9"/><rect x="206.6" y="1056.6" width="1.1" height="6.9"/><rect x="209.2" y="1056.6" width="1.1" height="6.9"/><rect x="211.8" y="1056.6" width="1.1" height="6.9"/><rect x="214.1" y="1056.6" width="1.1" height="6.9"/><rect x="232.2" y="1056.6" width="1.1" height="6.9"/><rect x="271.1" y="1056.6" width="1.1" height="6.9"/><rect x="272.9" y="1056.6" width="1.1" height="6.9"/><rect x="287.7" y="1056.6" width="1.1" height="6.9"/><rect x="354.9" y="1056.6" width="1.1" height="6.9"/><rect x="387.1" y="1056.6" width="1.1" height="6.9"/><rect x="394.1" y="1056.6" width="1.1" height="6.9"/><rect x="162.1" y="1063.5" width="1.1" height="6.9"/><rect x="171.7" y="1063.5" width="1.1" height="6.9"/><rect x="182.2" y="1063.5" width="1.1" height="6.9"/><rect x="186.5" y="1063.5" width="1.1" height="6.9"/><rect x="190" y="1063.5" width="1.1" height="6.9"/><rect x="201.7" y="1063.5" width="1.1" height="6.9"/><rect x="236.3" y="1063.5" width="1.1" height="6.9"/><rect x="251.1" y="1063.5" width="1.1" height="6.9"/><rect x="253.7" y="1063.5" width="1.1" height="6.9"/><rect x="256.7" y="1063.5" width="1.1" height="6.9"/><rect x="357.5" y="1063.5" width="1.1" height="6.9"/><rect x="361" y="1063.5" width="1.1" height="6.9"/><rect x="392.9" y="1063.5" width="1.1" height="6.9"/><rect x="201.7" y="1070.3" width="1.1" height="6.9"/><rect x="154.8" y="1084.1" width="1.1" height="6.9"/><rect x="160" y="1084.1" width="1.1" height="6.9"/><rect x="162.1" y="1084.1" width="1.1" height="6.9"/><rect x="166.5" y="1084.1" width="1.1" height="6.9"/><rect x="178.7" y="1084.1" width="1.1" height="6.9"/><rect x="186.5" y="1084.1" width="1.1" height="6.9"/><rect x="236.3" y="1084.1" width="1.1" height="6.9"/><rect x="252" y="1084.1" width="1.1" height="6.9"/><rect x="253.7" y="1084.1" width="1.1" height="6.9"/><rect x="256.3" y="1084.1" width="1.1" height="6.9"/><rect x="258.1" y="1084.1" width="1.1" height="6.9"/><rect x="263.3" y="1084.1" width="1.1" height="6.9"/><rect x="265.9" y="1084.1" width="1.1" height="6.9"/><rect x="268.9" y="1084.1" width="1.1" height="6.9"/><rect x="340.9" y="1084.1" width="1.1" height="6.9"/><rect x="375.3" y="1084.1" width="1.1" height="6.9"/><rect x="166.8" y="1097.9" width="1.1" height="6.9"/><rect x="178.7" y="1097.9" width="1.1" height="6.9"/><rect x="236.3" y="1097.9" width="1.1" height="6.9"/><rect x="254" y="1097.9" width="1.1" height="6.9"/><rect x="256.7" y="1097.9" width="1.1" height="6.9"/><rect x="322.6" y="1097.9" width="1.1" height="6.9"/><rect x="376.3" y="1104.8" width="1.1" height="6.9"/><rect x="559.8" y="1022.1" width="1.1" height="6.9"/><rect x="521.4" y="1035.9" width="1.1" height="6.9"/><rect x="511" y="1049.7" width="1.1" height="6.9"/><rect x="459.5" y="1056.6" width="1.1" height="6.9"/><rect x="480.4" y="1056.6" width="1.1" height="6.9"/><rect x="482.2" y="1056.6" width="1.1" height="6.9"/><rect x="533.6" y="1056.6" width="1.1" height="6.9"/><rect x="538" y="1056.6" width="1.1" height="6.9"/><rect x="559.8" y="1056.6" width="1.1" height="6.9"/><rect x="596.4" y="1056.6" width="1.1" height="6.9"/><rect x="715" y="1056.6" width="1.1" height="6.9"/><rect x="716.8" y="1056.6" width="1.1" height="6.9"/><rect x="451.3" y="1063.5" width="1.1" height="6.9"/><rect x="468.8" y="1063.5" width="1.1" height="6.9"/><rect x="500.5" y="1063.5" width="1.1" height="6.9"/><rect x="521.8" y="1063.5" width="1.1" height="6.9"/><rect x="525.8" y="1063.5" width="1.1" height="6.9"/><rect x="546.7" y="1063.5" width="1.1" height="6.9"/><rect x="549" y="1063.5" width="1.1" height="6.9"/><rect x="579.9" y="1063.5" width="1.1" height="6.9"/><rect x="590.3" y="1063.5" width="1.1" height="6.9"/><rect x="636.6" y="1063.5" width="1.1" height="6.9"/><rect x="716.3" y="1063.5" width="1.1" height="6.9"/><rect x="521.8" y="1077.2" width="1.1" height="6.9"/><rect x="440.8" y="1084.1" width="1.1" height="6.9"/><rect x="451.3" y="1084.1" width="1.1" height="6.9"/><rect x="500.8" y="1084.1" width="1.1" height="6.9"/><rect x="521.8" y="1084.1" width="1.1" height="6.9"/><rect x="546.7" y="1084.1" width="1.1" height="6.9"/><rect x="549" y="1084.1" width="1.1" height="6.9"/><rect x="636.6" y="1084.1" width="1.1" height="6.9"/><rect x="643.9" y="1084.1" width="1.1" height="6.9"/><rect x="674.6" y="1084.1" width="1.1" height="6.9"/><rect x="690.1" y="1084.1" width="1.1" height="6.9"/><rect x="695" y="1084.1" width="1.1" height="6.9"/><rect x="715.9" y="1084.1" width="1.1" height="6.9"/><rect x="521.8" y="1097.9" width="1.1" height="6.9"/><rect x="595.6" y="1097.9" width="1.1" height="6.9"/><rect x="636.6" y="1097.9" width="1.1" height="6.9"/><rect x="686.3" y="1097.9" width="1.1" height="6.9"/><rect x="918.2" y="1049.7" width="1.1" height="6.9"/><rect x="830.2" y="1056.6" width="1.1" height="6.9"/><rect x="783.1" y="1063.5" width="1.1" height="6.9"/><rect x="871.1" y="1063.5" width="1.1" height="6.9"/><rect x="897.8" y="1063.5" width="1.1" height="6.9"/><rect x="948.8" y="1063.5" width="1.1" height="6.9"/><rect x="1033.4" y="1063.5" width="1.1" height="6.9"/><rect x="809.7" y="1084.1" width="1.1" height="6.9"/><rect x="817.9" y="1084.1" width="1.1" height="6.9"/><rect x="871.1" y="1084.1" width="1.1" height="6.9"/><rect x="879.9" y="1084.1" width="1.1" height="6.9"/><rect x="1028.1" y="1084.1" width="1.1" height="6.9"/><rect x="758.6" y="1097.9" width="1.1" height="6.9"/><rect x="831.9" y="1097.9" width="1.1" height="6.9"/><rect x="841.1" y="1097.9" width="1.1" height="6.9"/><rect x="871.1" y="1097.9" width="1.1" height="6.9"/><rect x="886" y="1097.9" width="1.1" height="6.9"/><rect x="933.9" y="1097.9" width="1.1" height="6.9"/><rect x="961.8" y="1097.9" width="1.1" height="6.9"/><rect x="1034.2" y="1097.9" width="1.1" height="6.9"/><rect x="1117.5" y="1035.9" width="1.1" height="6.9"/><rect x="1122.7" y="1035.9" width="1.1" height="6.9"/><rect x="1201.2" y="1049.7" width="1.1" height="6.9"/><rect x="1117.1" y="1056.6" width="1.1" height="6.9"/><rect x="1175" y="1056.6" width="1.1" height="6.9"/><rect x="1080.5" y="1063.5" width="1.1" height="6.9"/><rect x="1082.9" y="1063.5" width="1.1" height="6.9"/><rect x="1151.5" y="1063.5" width="1.1" height="6.9"/><rect x="1214.3" y="1063.5" width="1.1" height="6.9"/><rect x="1224.8" y="1063.5" width="1.1" height="6.9"/><rect x="1257" y="1063.5" width="1.1" height="6.9"/><rect x="1071.8" y="1084.1" width="1.1" height="6.9"/><rect x="1076.5" y="1084.1" width="1.1" height="6.9"/><rect x="1080.5" y="1084.1" width="1.1" height="6.9"/><rect x="1082.9" y="1084.1" width="1.1" height="6.9"/><rect x="1166.7" y="1084.1" width="1.1" height="6.9"/><rect x="1179.4" y="1084.1" width="1.1" height="6.9"/><rect x="1288.4" y="1084.1" width="1.1" height="6.9"/><rect x="1151.5" y="1097.9" width="1.1" height="6.9"/><rect x="1214.3" y="1097.9" width="1.1" height="6.9"/></g>
<g fill="#b81220" opacity="0.9"><rect x="589.1" y="540.1" width="1.1" height="6.9"/><rect x="824.6" y="588.3" width="1.1" height="6.9"/><rect x="1163.7" y="443.7" width="1.1" height="6.9"/><rect x="746.4" y="650.3" width="1.1" height="6.9"/><rect x="748.2" y="650.3" width="1.1" height="6.9"/><rect x="749.9" y="650.3" width="1.1" height="6.9"/><rect x="751.7" y="650.3" width="1.1" height="6.9"/><rect x="753.1" y="650.3" width="1.1" height="6.9"/><rect x="276.9" y="1056.6" width="1.1" height="6.9"/></g>
<g fill="#062e08" opacity="0.9"><rect x="368.3" y="471.3" width="1.1" height="6.9"/><rect x="408.1" y="478.1" width="1.1" height="6.9"/><rect x="277.6" y="574.5" width="1.1" height="6.9"/><rect x="374.9" y="574.5" width="1.1" height="6.9"/><rect x="374.9" y="581.4" width="1.1" height="6.9"/><rect x="715.9" y="416.2" width="1.1" height="6.9"/><rect x="715.9" y="526.3" width="1.1" height="6.9"/><rect x="513.1" y="574.5" width="1.1" height="6.9"/><rect x="715.9" y="574.5" width="1.1" height="6.9"/><rect x="964.8" y="526.3" width="1.1" height="6.9"/><rect x="1071.3" y="574.5" width="1.1" height="6.9"/><rect x="1316.3" y="574.5" width="1.1" height="6.9"/><rect x="1316.8" y="581.4" width="1.1" height="6.9"/><rect x="179.9" y="629.6" width="1.1" height="6.9"/><rect x="576.9" y="691.6" width="1.1" height="6.9"/><rect x="1071.6" y="788" width="1.1" height="6.9"/><rect x="278.1" y="870.6" width="1.1" height="6.9"/><rect x="190" y="891.3" width="1.1" height="6.9"/><rect x="278.5" y="1001.5" width="1.1" height="6.9"/><rect x="513.1" y="870.6" width="1.1" height="6.9"/><rect x="590.3" y="870.6" width="1.1" height="6.9"/><rect x="716.4" y="891.3" width="1.1" height="6.9"/><rect x="691.5" y="912" width="1.1" height="6.9"/><rect x="590.3" y="1001.5" width="1.1" height="6.9"/><rect x="1029" y="912" width="1.1" height="6.9"/><rect x="829.1" y="932.6" width="1.1" height="6.9"/><rect x="1257" y="870.6" width="1.1" height="6.9"/><rect x="1316.7" y="870.6" width="1.1" height="6.9"/><rect x="1091.8" y="891.3" width="1.1" height="6.9"/><rect x="1162.8" y="912" width="1.1" height="6.9"/><rect x="1316.8" y="953.3" width="1.1" height="6.9"/><rect x="1280.6" y="980.8" width="1.1" height="6.9"/><rect x="1239.2" y="1001.5" width="1.1" height="6.9"/><rect x="1308.5" y="1001.5" width="1.1" height="6.9"/><rect x="1332" y="1001.5" width="1.1" height="6.9"/><rect x="147.3" y="1035.9" width="1.1" height="6.9"/><rect x="437.7" y="1084.1" width="1.1" height="6.9"/><rect x="437.7" y="1097.9" width="1.1" height="6.9"/><rect x="546.2" y="1056.6" width="1.1" height="6.9"/><rect x="612.1" y="1056.6" width="1.1" height="6.9"/><rect x="559.8" y="1063.5" width="1.1" height="6.9"/><rect x="664.8" y="1077.2" width="1.1" height="6.9"/><rect x="513.1" y="1084.1" width="1.1" height="6.9"/><rect x="590.3" y="1084.1" width="1.1" height="6.9"/><rect x="628.7" y="1084.1" width="1.1" height="6.9"/><rect x="657.5" y="1084.1" width="1.1" height="6.9"/><rect x="513.1" y="1097.9" width="1.1" height="6.9"/><rect x="716.3" y="1097.9" width="1.1" height="6.9"/><rect x="782.7" y="1056.6" width="1.1" height="6.9"/><rect x="829.1" y="1063.5" width="1.1" height="6.9"/><rect x="1028.1" y="1063.5" width="1.1" height="6.9"/><rect x="870.8" y="1077.2" width="1.1" height="6.9"/><rect x="935.7" y="1097.9" width="1.1" height="6.9"/><rect x="1239.2" y="1063.5" width="1.1" height="6.9"/><rect x="1316.3" y="1063.5" width="1.1" height="6.9"/><rect x="1294.5" y="1070.3" width="1.1" height="6.9"/><rect x="1299.8" y="1070.3" width="1.1" height="6.9"/><rect x="1328.5" y="1070.3" width="1.1" height="6.9"/><rect x="1278.8" y="1084.1" width="1.1" height="6.9"/><rect x="1316.3" y="1084.1" width="1.1" height="6.9"/></g>
<g shape-rendering="crispEdges">
<g fill="#22b514"><rect x="1537.7" y="361.1" width="30" height="7"/><rect x="1496.8" y="368" width="70.9" height="7"/><rect x="1550.7" y="374.9" width="17" height="7"/><rect x="1549.7" y="381.7" width="18" height="7"/><rect x="1541.7" y="388.6" width="26" height="7"/><rect x="1525.7" y="395.5" width="42" height="7"/><rect x="1543.7" y="402.4" width="24" height="7"/><rect x="1539.3" y="409.3" width="28.4" height="7"/><rect x="1546.3" y="416.1" width="21.4" height="7"/><rect x="1501.4" y="423" width="66.3" height="7"/><rect x="1542.1" y="429.9" width="25.6" height="7"/><rect x="1550.7" y="436.8" width="17" height="7"/><rect x="1555.7" y="443.7" width="12" height="7"/><rect x="1556.1" y="450.5" width="11.6" height="7"/><rect x="1555.3" y="457.4" width="12.4" height="7"/><rect x="1553.7" y="464.3" width="14" height="7"/><rect x="1552.1" y="471.2" width="15.6" height="7"/><rect x="1543.7" y="478.1" width="24" height="7"/><rect x="1553.3" y="484.9" width="14.4" height="7"/><rect x="1554.7" y="491.8" width="13" height="7"/><rect x="1549.7" y="498.7" width="18" height="7"/><rect x="1547.3" y="505.6" width="20.4" height="7"/><rect x="1550.7" y="512.5" width="17" height="7"/><rect x="1552.1" y="519.3" width="15.6" height="7"/><rect x="1557.7" y="526.2" width="10" height="7"/><rect x="1548.7" y="533.1" width="19" height="7"/><rect x="1552.7" y="540" width="15" height="7"/><rect x="1542.7" y="546.9" width="25" height="7"/><rect x="1544.1" y="553.7" width="23.6" height="7"/><rect x="1557.3" y="560.6" width="10.4" height="7"/><rect x="1550.7" y="567.5" width="17" height="7"/><rect x="1540.7" y="574.4" width="27" height="7"/><rect x="1557.7" y="581.3" width="10" height="7"/><rect x="1542.7" y="588.1" width="25" height="7"/><rect x="1542.1" y="595" width="25.6" height="7"/><rect x="1557.7" y="601.9" width="10" height="7"/><rect x="1555.7" y="608.8" width="12" height="7"/><rect x="1548.7" y="615.7" width="19" height="7"/><rect x="1524.7" y="622.5" width="43" height="7"/><rect x="1551.7" y="629.4" width="16" height="7"/><rect x="1545.3" y="636.3" width="22.4" height="7"/><rect x="1535.7" y="643.2" width="32" height="7"/><rect x="1548.1" y="650.1" width="19.6" height="7"/><rect x="1557.3" y="656.9" width="10.4" height="7"/><rect x="1550.1" y="663.8" width="17.6" height="7"/><rect x="1544.1" y="670.7" width="23.6" height="7"/><rect x="1549.7" y="677.6" width="18" height="7"/><rect x="1546.7" y="684.5" width="21" height="7"/><rect x="1512.2" y="691.3" width="55.5" height="7"/><rect x="1522.7" y="698.2" width="45" height="7"/><rect x="1488.8" y="705.1" width="78.9" height="7"/><rect x="1555.7" y="712" width="12" height="7"/><rect x="1553.7" y="718.9" width="14" height="7"/><rect x="1553.3" y="725.7" width="14.4" height="7"/><rect x="1552.7" y="732.6" width="15" height="7"/><rect x="1552.1" y="739.5" width="15.6" height="7"/><rect x="1504.2" y="746.4" width="63.5" height="7"/><rect x="1517.8" y="753.3" width="49.9" height="7"/><rect x="1540.7" y="760.1" width="27" height="7"/><rect x="1550.7" y="767" width="17" height="7"/><rect x="1557.3" y="773.9" width="10.4" height="7"/><rect x="1552.1" y="780.8" width="15.6" height="7"/><rect x="1552.1" y="787.7" width="15.6" height="7"/><rect x="1557.3" y="794.5" width="10.4" height="7"/><rect x="1552.7" y="801.4" width="15" height="7"/><rect x="1557.7" y="808.3" width="10" height="7"/><rect x="1545.3" y="815.2" width="22.4" height="7"/><rect x="1557.3" y="822.1" width="10.4" height="7"/><rect x="1539.7" y="828.9" width="28" height="7"/><rect x="1552.7" y="835.8" width="15" height="7"/><rect x="1547.3" y="842.7" width="20.4" height="7"/><rect x="1559.7" y="849.6" width="8" height="7"/><rect x="1558.7" y="856.5" width="9" height="7"/><rect x="1553.3" y="863.3" width="14.4" height="7"/><rect x="1540.7" y="870.2" width="27" height="7"/><rect x="1563.7" y="877.1" width="4" height="7"/><rect x="1562.7" y="884" width="5" height="7"/><rect x="1567.3" y="890.9" width="0.4" height="7"/><rect x="1542.7" y="904.6" width="25" height="7"/><rect x="1555.3" y="911.5" width="12.4" height="7"/><rect x="1564.7" y="918.4" width="3" height="7"/><rect x="1564.7" y="925.3" width="3" height="7"/><rect x="1566.7" y="932.1" width="1" height="7"/><rect x="1562.7" y="939" width="5" height="7"/><rect x="1564.7" y="945.9" width="3" height="7"/><rect x="1565.7" y="952.8" width="2" height="7"/><rect x="1563.3" y="959.7" width="4.4" height="7"/><rect x="1562.7" y="966.5" width="5" height="7"/><rect x="1567.3" y="973.4" width="0.4" height="7"/><rect x="1565.7" y="994.1" width="2" height="7"/><rect x="1565.7" y="1007.8" width="2" height="7"/><rect x="1555.3" y="1014.7" width="12.4" height="7"/><rect x="1559.7" y="1021.6" width="8" height="7"/><rect x="1556.7" y="1028.5" width="11" height="7"/><rect x="1561.3" y="1035.3" width="6.4" height="7"/><rect x="1548.1" y="1042.2" width="19.6" height="7"/><rect x="1560.3" y="1056" width="7.4" height="7"/></g>
<g fill="#062e08"><rect x="1549.2" y="381.7" width="0.9" height="7"/><rect x="1500.9" y="423" width="0.9" height="7"/><rect x="1550.2" y="436.8" width="0.9" height="7"/><rect x="1551.6" y="471.2" width="0.9" height="7"/><rect x="1549.2" y="498.7" width="0.9" height="7"/><rect x="1550.2" y="512.5" width="0.9" height="7"/><rect x="1551.6" y="519.3" width="0.9" height="7"/><rect x="1548.2" y="533.1" width="0.9" height="7"/><rect x="1542.2" y="546.9" width="0.9" height="7"/><rect x="1540.2" y="574.4" width="0.9" height="7"/><rect x="1542.2" y="588.1" width="0.9" height="7"/><rect x="1555.2" y="608.8" width="0.9" height="7"/><rect x="1524.2" y="622.5" width="0.9" height="7"/><rect x="1535.2" y="643.2" width="0.9" height="7"/><rect x="1556.8" y="656.9" width="0.9" height="7"/><rect x="1549.2" y="677.6" width="0.9" height="7"/><rect x="1546.2" y="684.5" width="0.9" height="7"/><rect x="1522.2" y="698.2" width="0.9" height="7"/><rect x="1555.2" y="712" width="0.9" height="7"/><rect x="1503.7" y="746.4" width="0.9" height="7"/><rect x="1551.6" y="780.8" width="0.9" height="7"/><rect x="1551.6" y="787.7" width="0.9" height="7"/><rect x="1556.8" y="794.5" width="0.9" height="7"/><rect x="1552.2" y="801.4" width="0.9" height="7"/><rect x="1539.2" y="828.9" width="0.9" height="7"/><rect x="1552.2" y="835.8" width="0.9" height="7"/><rect x="1546.8" y="842.7" width="0.9" height="7"/><rect x="1559.7" y="849.6" width="4" height="7"/><rect x="1566.7" y="932.1" width="0.8" height="7"/><rect x="1562.7" y="939" width="1.4" height="7"/><rect x="1564.7" y="945.9" width="1" height="7"/><rect x="1565.7" y="952.8" width="0.8" height="7"/><rect x="1563.3" y="959.7" width="1.4" height="7"/><rect x="1562.7" y="966.5" width="0.8" height="7"/><rect x="1565.7" y="1007.8" width="1.6" height="7"/><rect x="1559.7" y="1021.6" width="1.6" height="7"/><rect x="1556.7" y="1028.5" width="1" height="7"/><rect x="1548.1" y="1042.2" width="1.6" height="7"/><rect x="1560.3" y="1056" width="1" height="7"/></g>
<rect x="1553.7" y="361.1" width="14" height="7" fill="#7fee78"/><rect x="1558.3" y="381.7" width="9.4" height="7" fill="#7fee78"/><rect x="1538.7" y="395.5" width="29" height="7" fill="#b6e6b0"/><rect x="1561.3" y="416.1" width="6.4" height="7" fill="#7fee78"/><rect x="1519.7" y="423" width="48" height="7" fill="#b6e6b0"/><rect x="1563.7" y="464.3" width="4" height="7" fill="#b6e6b0"/><rect x="1563.7" y="478.1" width="4" height="7" fill="#b6e6b0"/><rect x="1551.7" y="498.7" width="16" height="7" fill="#7fee78"/><rect x="1562.7" y="505.6" width="5" height="7" fill="#7fee78"/><rect x="1562.7" y="512.5" width="5" height="7" fill="#b6e6b0"/><rect x="1562.1" y="553.7" width="5.6" height="7" fill="#b6e6b0"/><rect x="1558.3" y="608.8" width="9.4" height="7" fill="#7fee78"/><rect x="1554.1" y="622.5" width="13.6" height="7" fill="#b6e6b0"/><rect x="1563.3" y="636.3" width="4.4" height="7" fill="#b6e6b0"/><rect x="1558.3" y="656.9" width="9.4" height="7" fill="#7fee78"/><rect x="1557.7" y="663.8" width="10" height="7" fill="#7fee78"/><rect x="1555.7" y="670.7" width="12" height="7" fill="#b6e6b0"/><rect x="1560.7" y="677.6" width="7" height="7" fill="#b6e6b0"/><rect x="1563.3" y="684.5" width="4.4" height="7" fill="#b6e6b0"/><rect x="1533.7" y="698.2" width="34" height="7" fill="#b6e6b0"/><rect x="1549.7" y="705.1" width="18" height="7" fill="#7fee78"/><rect x="1558.3" y="712" width="9.4" height="7" fill="#7fee78"/><rect x="1548.7" y="746.4" width="19" height="7" fill="#b6e6b0"/><rect x="1560.7" y="767" width="7" height="7" fill="#b6e6b0"/><rect x="1565.7" y="828.9" width="2" height="7" fill="#7fee78"/><rect x="1565.3" y="842.7" width="2.4" height="7" fill="#7fee78"/><rect x="1565.3" y="849.6" width="2.4" height="7" fill="#7fee78"/><rect x="1563.7" y="856.5" width="4" height="7" fill="#7fee78"/><rect x="1563.7" y="870.2" width="4" height="7" fill="#7fee78"/><rect x="1555.7" y="904.6" width="12" height="7" fill="#b6e6b0"/><rect x="1563.3" y="911.5" width="4.4" height="7" fill="#7fee78"/><rect x="1564.7" y="918.4" width="3" height="7" fill="#7fee78"/><rect x="1565.7" y="939" width="2" height="7" fill="#7fee78"/><rect x="1564.1" y="966.5" width="3.6" height="7" fill="#7fee78"/><rect x="1565.7" y="994.1" width="2" height="7" fill="#7fee78"/><rect x="1564.7" y="1014.7" width="3" height="7" fill="#7fee78"/><rect x="1565.7" y="1028.5" width="2" height="7" fill="#7fee78"/>
<g fill="#f0747e"><rect x="1567.7" y="361.1" width="22.9" height="7"/><rect x="1567.7" y="368" width="15.9" height="7"/><rect x="1567.7" y="374.9" width="7.5" height="7"/><rect x="1567.7" y="381.7" width="6.9" height="7"/><rect x="1567.7" y="388.6" width="15.5" height="7"/><rect x="1567.7" y="395.5" width="21.9" height="7"/><rect x="1567.7" y="402.4" width="12.9" height="7"/><rect x="1567.7" y="409.3" width="5" height="7"/><rect x="1567.7" y="416.1" width="13.9" height="7"/><rect x="1567.7" y="423" width="4.4" height="7"/><rect x="1567.7" y="429.9" width="6.9" height="7"/><rect x="1567.7" y="436.8" width="11.9" height="7"/><rect x="1567.7" y="443.7" width="5" height="7"/><rect x="1567.7" y="450.5" width="5" height="7"/><rect x="1567.7" y="457.4" width="12.9" height="7"/><rect x="1567.7" y="464.3" width="5" height="7"/><rect x="1567.7" y="471.2" width="7.5" height="7"/><rect x="1567.7" y="478.1" width="11.9" height="7"/><rect x="1567.7" y="484.9" width="4.4" height="7"/><rect x="1567.7" y="491.8" width="4" height="7"/><rect x="1567.7" y="498.7" width="123.3" height="7"/><rect x="1567.7" y="505.6" width="10.9" height="7"/><rect x="1567.7" y="512.5" width="6" height="7"/><rect x="1567.7" y="519.3" width="6.4" height="7"/><rect x="1567.7" y="526.2" width="5" height="7"/><rect x="1567.7" y="533.1" width="4.4" height="7"/><rect x="1567.7" y="540" width="4.4" height="7"/><rect x="1567.7" y="546.9" width="5" height="7"/><rect x="1567.7" y="553.7" width="5" height="7"/><rect x="1567.7" y="560.6" width="5" height="7"/><rect x="1567.7" y="567.5" width="5" height="7"/><rect x="1567.7" y="574.4" width="5" height="7"/><rect x="1567.7" y="581.3" width="5" height="7"/><rect x="1567.7" y="588.1" width="12.9" height="7"/><rect x="1567.7" y="595" width="8.9" height="7"/><rect x="1567.7" y="601.9" width="10.9" height="7"/><rect x="1567.7" y="608.8" width="11.9" height="7"/><rect x="1567.7" y="615.7" width="8.9" height="7"/><rect x="1567.7" y="622.5" width="7.5" height="7"/><rect x="1567.7" y="629.4" width="5" height="7"/><rect x="1567.7" y="636.3" width="9.9" height="7"/><rect x="1567.7" y="643.2" width="6.9" height="7"/><rect x="1567.7" y="650.1" width="11.9" height="7"/><rect x="1567.7" y="656.9" width="129.7" height="7"/><rect x="1567.7" y="663.8" width="14.3" height="7"/><rect x="1567.7" y="670.7" width="8.9" height="7"/><rect x="1567.7" y="677.6" width="5" height="7"/><rect x="1567.7" y="684.5" width="5" height="7"/><rect x="1567.7" y="691.3" width="14.9" height="7"/><rect x="1567.7" y="698.2" width="24.9" height="7"/><rect x="1567.7" y="705.1" width="18.9" height="7"/><rect x="1567.7" y="712" width="6.4" height="7"/><rect x="1567.7" y="718.9" width="5" height="7"/><rect x="1567.7" y="725.7" width="8.9" height="7"/><rect x="1567.7" y="732.6" width="18.3" height="7"/><rect x="1567.7" y="739.5" width="3" height="7"/><rect x="1567.7" y="780.8" width="2" height="7"/><rect x="1567.7" y="787.7" width="3" height="7"/><rect x="1567.7" y="794.5" width="3" height="7"/><rect x="1567.7" y="822.1" width="9.9" height="7"/><rect x="1567.7" y="828.9" width="12.9" height="7"/><rect x="1567.7" y="835.8" width="21.5" height="7"/><rect x="1567.7" y="842.7" width="14.9" height="7"/><rect x="1567.7" y="849.6" width="13.9" height="7"/><rect x="1567.7" y="856.5" width="9.5" height="7"/><rect x="1567.7" y="863.3" width="14.3" height="7"/><rect x="1567.7" y="870.2" width="11.9" height="7"/><rect x="1567.7" y="877.1" width="7.9" height="7"/><rect x="1567.7" y="884" width="12.3" height="7"/><rect x="1567.7" y="890.9" width="79.8" height="7"/><rect x="1567.7" y="897.7" width="66.8" height="7"/><rect x="1567.7" y="911.5" width="7.9" height="7"/><rect x="1567.7" y="925.3" width="1.6" height="7"/><rect x="1567.7" y="932.1" width="3" height="7"/><rect x="1567.7" y="945.9" width="6" height="7"/><rect x="1567.7" y="952.8" width="1" height="7"/><rect x="1567.7" y="959.7" width="0.6" height="7"/><rect x="1567.7" y="966.5" width="1.6" height="7"/><rect x="1567.7" y="973.4" width="2.4" height="7"/><rect x="1567.7" y="980.3" width="7.9" height="7"/><rect x="1567.7" y="987.2" width="1" height="7"/><rect x="1567.7" y="994.1" width="11.3" height="7"/><rect x="1567.7" y="1000.9" width="1" height="7"/><rect x="1567.7" y="1007.8" width="4.4" height="7"/><rect x="1567.7" y="1014.7" width="5" height="7"/><rect x="1567.7" y="1021.6" width="2" height="7"/><rect x="1567.7" y="1028.5" width="2.4" height="7"/><rect x="1567.7" y="1035.3" width="3" height="7"/><rect x="1567.7" y="1042.2" width="1" height="7"/><rect x="1567.7" y="1049.1" width="13.9" height="7"/><rect x="1567.7" y="1056" width="1" height="7"/><rect x="1567.7" y="1062.9" width="16.9" height="4.5"/></g>
<g fill="#b81220"><rect x="1567.7" y="374.9" width="4" height="7"/><rect x="1567.7" y="388.6" width="4" height="7"/><rect x="1567.7" y="402.4" width="4.4" height="7"/><rect x="1567.7" y="416.1" width="4" height="7"/><rect x="1567.7" y="436.8" width="4.4" height="7"/><rect x="1567.7" y="471.2" width="4" height="7"/><rect x="1567.7" y="498.7" width="6.4" height="7"/><rect x="1567.7" y="505.6" width="4.4" height="7"/><rect x="1567.7" y="546.9" width="4.4" height="7"/><rect x="1567.7" y="636.3" width="4.4" height="7"/><rect x="1567.7" y="650.1" width="4.4" height="7"/><rect x="1567.7" y="656.9" width="7.5" height="7"/><rect x="1567.7" y="698.2" width="4.4" height="7"/><rect x="1567.7" y="849.6" width="2" height="7"/><rect x="1567.7" y="870.2" width="3" height="7"/></g>
</g>
<g fill="#000">
<rect x="139.2" y="45.3" width="6.7" height="290"/>
<rect x="139.2" y="45.4" width="14.3" height="6"/>
<rect x="1334.5" y="45.4" width="14.3" height="6"/>
<rect x="139.2" y="116.1" width="14.3" height="6"/>
<rect x="1334.5" y="116.1" width="14.3" height="6"/>
<rect x="139.2" y="187.3" width="14.3" height="6.2"/>
<rect x="1334.5" y="187.3" width="14.3" height="6.2"/>
<rect x="139.2" y="259.5" width="11.7" height="5.6"/>
<rect x="1337.1" y="259.5" width="11.7" height="5.6"/>
<rect x="139.2" y="329.7" width="11.7" height="5.6"/>
<rect x="1337.1" y="329.7" width="11.7" height="5.6"/>
<rect x="1342.2" y="45.3" width="6.6" height="290"/>
<rect x="239.8" y="46" width="4.1" height="289.2"/>
<rect x="336.8" y="46" width="4.1" height="289.2"/>
<rect x="415.8" y="46" width="4.1" height="289.2"/>
<rect x="491.8" y="46" width="4.1" height="289.2"/>
<rect x="563.9" y="46" width="4.1" height="289.2"/>
<rect x="632.6" y="46" width="4.1" height="289.2"/>
<rect x="696" y="46" width="4.1" height="289.2"/>
<rect x="754.5" y="46" width="4.1" height="289.2"/>
<rect x="810.9" y="46" width="4.1" height="289.2"/>
<rect x="865" y="46" width="4.1" height="289.2"/>
<rect x="919" y="46" width="4.1" height="289.2"/>
<rect x="972.2" y="46" width="4.1" height="289.2"/>
<rect x="1018.1" y="46" width="4.1" height="289.2"/>
<rect x="1061" y="46" width="4.1" height="289.2"/>
<rect x="1102" y="46" width="4.1" height="289.2"/>
<rect x="1138" y="46" width="4.1" height="289.2"/>
<rect x="1170.4" y="46" width="4.1" height="289.2"/>
<rect x="1201.7" y="46" width="4.1" height="289.2"/>
<rect x="1225.2" y="46" width="4.1" height="289.2"/>
<rect x="1250.2" y="46" width="4.1" height="289.2"/>
<rect x="1269.5" y="46" width="4.1" height="289.2"/>
<rect x="1290" y="46" width="4.1" height="289.2"/>
</g>
<text class="ax" x="128.5" y="61.4" text-anchor="end">100</text>
<text class="ax" x="128.5" y="132.5" text-anchor="end">50</text>
<text class="ax" x="128.5" y="203.6" text-anchor="end">0</text>
<text class="ax" x="128.5" y="275.2" text-anchor="end">50</text>
<text class="ax" x="128.5" y="345" text-anchor="end">100</text>
<text class="ax" style="font-size:28.8px" transform="translate(24.6,193.3) rotate(-90)" text-anchor="middle">Patients with</text>
<text class="ax" style="font-size:29px" transform="translate(60.6,194.8) rotate(-90)" text-anchor="middle">chromosomal aberration (%)</text>
<text class="b" x="-1" y="23">a</text>
<text class="b" x="-1" y="413">b</text>
<text class="b" x="1391.5" y="367.5">c</text>
<rect x="1491.8" y="67.2" width="35.1" height="20.2" rx="3.5" fill="#b81220"/>
<text class="lg" x="1538.4" y="86.1">High gain</text>
<rect x="1491.8" y="95.5" width="35.1" height="20.2" rx="3.5" fill="#f0747e"/>
<text class="lg" x="1538.4" y="114.4">Gain</text>
<rect x="1491.8" y="123.8" width="35.1" height="20.2" rx="3.5" fill="#b6e6b0"/>
<text class="lg" x="1538.4" y="142.7">Partial LOH</text>
<rect x="1491.8" y="152.1" width="35.1" height="20.2" rx="3.5" fill="#7fee78"/>
<text class="lg" x="1538.4" y="171">CN- LOH</text>
<rect x="1491.8" y="180.4" width="35.1" height="20.2" rx="3.5" fill="#22b514"/>
<text class="lg" x="1538.4" y="199.3">Hemizygous</text>
<rect x="1491.8" y="208.7" width="35.1" height="20.2" rx="3.5" fill="#062e08"/>
<text class="lg" x="1538.4" y="227.6">Deep deletion</text>
<g fill="none" stroke="#000">
<rect x="142.6" y="402.5" width="1204" height="709.1" stroke-width="6.2" stroke-linejoin="round"/>
</g>
<g fill="#000">
<rect x="240.2" y="402" width="3.9" height="709"/>
<rect x="337.1" y="402" width="3.9" height="709"/>
<rect x="416.2" y="402" width="3.9" height="709"/>
<rect x="492.4" y="402" width="3.9" height="709"/>
<rect x="564.5" y="402" width="3.9" height="709"/>
<rect x="633.1" y="402" width="3.9" height="709"/>
<rect x="696.8" y="402" width="3.9" height="709"/>
<rect x="755" y="402" width="3.9" height="709"/>
<rect x="811.5" y="402" width="3.9" height="709"/>
<rect x="865.8" y="402" width="3.9" height="709"/>
<rect x="919.8" y="402" width="3.9" height="709"/>
<rect x="972.9" y="402" width="3.9" height="709"/>
<rect x="1018.9" y="402" width="3.9" height="709"/>
<rect x="1062.2" y="402" width="3.9" height="709"/>
<rect x="1103.1" y="402" width="3.9" height="709"/>
<rect x="1139" y="402" width="3.9" height="709"/>
<rect x="1171.6" y="402" width="3.9" height="709"/>
<rect x="1202.6" y="402" width="3.9" height="709"/>
<rect x="1226" y="402" width="3.9" height="709"/>
<rect x="1251.2" y="402" width="3.9" height="709"/>
<rect x="1270.8" y="402" width="3.9" height="709"/>
<rect x="1291" y="402" width="3.9" height="709"/>
<rect x="138.2" y="777" width="1212.5" height="8"/>
<rect x="138.2" y="866.4" width="1212.5" height="8"/>
<rect x="138.2" y="942.6" width="1212.5" height="8"/>
</g>
<text class="sm" x="195.3" y="1138.4" text-anchor="middle">1</text>
<text class="sm" x="291.6" y="1138.4" text-anchor="middle">2</text>
<text class="sm" x="379.1" y="1138.4" text-anchor="middle">3</text>
<text class="sm" x="458.7" y="1138.4" text-anchor="middle">4</text>
<text class="sm" x="529.2" y="1138.4" text-anchor="middle">5</text>
<text class="sm" x="601.1" y="1138.4" text-anchor="middle">6</text>
<text class="sm" x="670.1" y="1138.4" text-anchor="middle">7</text>
<text class="sm" x="731.7" y="1138.4" text-anchor="middle">8</text>
<text class="sm" x="784.8" y="1138.4" text-anchor="middle">9</text>
<text class="sm" x="843.9" y="1138.4" text-anchor="middle">10</text>
<text class="sm" x="895.9" y="1138.4" text-anchor="middle">11</text>
<text class="sm" x="946.9" y="1138.4" text-anchor="middle">12</text>
<text class="sm" x="997.2" y="1138.4" text-anchor="middle">13</text>
<text class="sm" x="1042.9" y="1138.4" text-anchor="middle">14</text>
<text class="sm" x="1086.4" y="1138.4" text-anchor="middle">15</text>
<text class="sm" x="1124.7" y="1138.4" text-anchor="middle">16</text>
<text class="sm" x="1156.2" y="1138.4" text-anchor="middle">17</text>
<text class="sm" x="1187.7" y="1138.4" text-anchor="middle">18</text>
<text class="sm" x="1215.3" y="1138.4" text-anchor="middle">19</text>
<text class="sm" x="1238.7" y="1138.4" text-anchor="middle">20</text>
<text class="sm" x="1261.9" y="1138.4" text-anchor="middle">21</text>
<text class="sm" x="1284.3" y="1138.4" text-anchor="middle">22</text>
<text class="sm" x="1321.5" y="1138.4" text-anchor="middle">X</text>
<text class="sm" x="129.4" y="605" text-anchor="end">4</text>
<text class="sm" x="129.4" y="846.5" text-anchor="end">3</text>
<text class="sm" x="129.4" y="924.2" text-anchor="end">2</text>
<text class="sm" x="129.4" y="1049.2" text-anchor="end">1</text>
<text class="sm" style="font-size:20.8px" transform="translate(91.3,760) rotate(-90)" text-anchor="middle">Patients</text>
<g fill="#000">
<rect x="1424.5" y="358.5" width="285.5" height="4.4"/>
<rect x="1424.5" y="1067" width="285.5" height="4.4"/>
<rect x="1424.6" y="358.5" width="4" height="11.4"/>
<rect x="1424.6" y="1059.8" width="4" height="11.4"/>
<rect x="1495.2" y="358.5" width="4" height="11.4"/>
<rect x="1495.2" y="1059.8" width="4" height="11.4"/>
<rect x="1565.7" y="358.5" width="4" height="11.4"/>
<rect x="1565.7" y="1059.8" width="4" height="11.4"/>
<rect x="1636.1" y="358.5" width="4" height="11.4"/>
<rect x="1636.1" y="1059.8" width="4" height="11.4"/>
<rect x="1706" y="358.5" width="4" height="11.4"/>
<rect x="1706" y="1059.8" width="4" height="11.4"/>
</g>
<text class="ax" x="1427" y="1104.7" text-anchor="middle">100</text>
<text class="ax" x="1494.7" y="1104.7" text-anchor="middle">50</text>
<text class="ax" x="1563" y="1104.7" text-anchor="middle">0</text>
<text class="ax" x="1631.3" y="1104.7" text-anchor="middle">50</text>
<text class="ax" x="1700" y="1104.7" text-anchor="middle">100</text>
<text class="ax" style="font-size:29px" x="1720.3" y="1151.6" text-anchor="end">Percwnt of genome with</text>
<text class="ax" style="font-size:29.1px" x="1720.3" y="1185.8" text-anchor="end">chromosomal aberration</text>
<text class="sm" style="font-size:26px" x="1697.5" y="511.5" text-anchor="middle">*</text>
<text class="sm" style="font-size:26px" x="1704" y="669.5" text-anchor="middle">*</text>
</svg></body></html>
